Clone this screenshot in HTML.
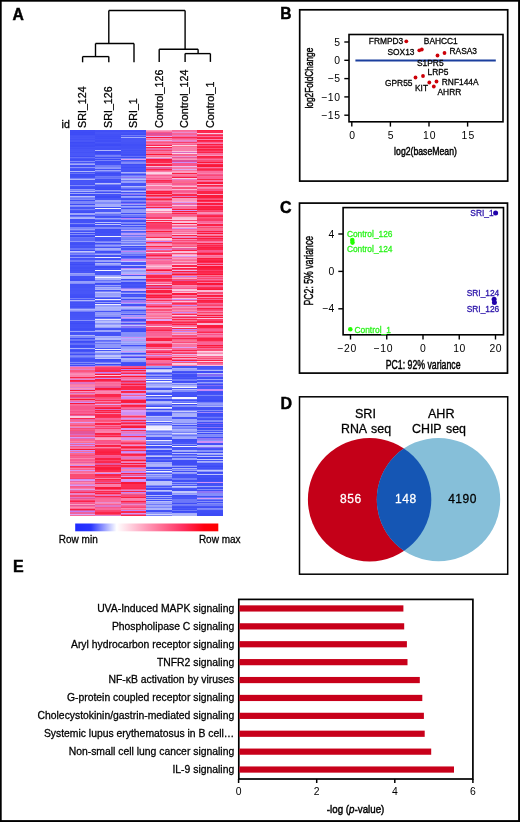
<!DOCTYPE html><html><head><meta charset="utf-8"><style>html,body{margin:0;padding:0;background:#fff;}body{width:520px;height:822px;overflow:hidden;font-family:"Liberation Sans",sans-serif;}svg{display:block;will-change:transform;}</style></head><body><svg width="520" height="822" viewBox="0 0 520 822" font-family='"Liberation Sans", sans-serif'><rect x="0" y="0" width="520" height="1.7" fill="#000"/><rect x="0" y="0" width="1.7" height="822" fill="#000"/><rect x="518.1" y="0" width="1.9" height="822" fill="#000"/><rect x="0" y="820.1" width="520" height="1.9" fill="#000"/><text x="12.4" y="19.6" font-size="15.7" font-weight="bold" stroke="#000" stroke-width="0.45">A</text><text x="280.2" y="19.3" font-size="15.6" font-weight="bold" stroke="#000" stroke-width="0.45">B</text><text x="280.0" y="213" font-size="16" font-weight="bold" stroke="#000" stroke-width="0.45">C</text><text x="280.5" y="408.5" font-size="16" font-weight="bold" stroke="#000" stroke-width="0.45">D</text><text x="13" y="571.7" font-size="16" font-weight="bold" stroke="#000" stroke-width="0.45">E</text><line x1="108.8" y1="10.5" x2="185.1" y2="10.5" stroke="#000" stroke-width="1.4"/><line x1="108.8" y1="10.5" x2="108.8" y2="43.5" stroke="#000" stroke-width="1.4"/><line x1="185.1" y1="10.5" x2="185.1" y2="49.3" stroke="#000" stroke-width="1.4"/><line x1="95.5" y1="43.5" x2="134.0" y2="43.5" stroke="#000" stroke-width="1.4"/><line x1="95.5" y1="43.5" x2="95.5" y2="56.6" stroke="#000" stroke-width="1.4"/><line x1="134.0" y1="43.5" x2="134.0" y2="62.3" stroke="#000" stroke-width="1.4"/><line x1="82.6" y1="56.6" x2="108.8" y2="56.6" stroke="#000" stroke-width="1.4"/><line x1="82.6" y1="56.6" x2="82.6" y2="62.3" stroke="#000" stroke-width="1.4"/><line x1="108.8" y1="56.6" x2="108.8" y2="62.3" stroke="#000" stroke-width="1.4"/><line x1="159.2" y1="49.3" x2="198.1" y2="49.3" stroke="#000" stroke-width="1.4"/><line x1="159.2" y1="49.3" x2="159.2" y2="61.9" stroke="#000" stroke-width="1.4"/><line x1="198.1" y1="49.3" x2="198.1" y2="53.6" stroke="#000" stroke-width="1.4"/><line x1="185.1" y1="53.6" x2="210.4" y2="53.6" stroke="#000" stroke-width="1.4"/><line x1="185.1" y1="53.6" x2="185.1" y2="61.9" stroke="#000" stroke-width="1.4"/><line x1="210.4" y1="53.6" x2="210.4" y2="61.9" stroke="#000" stroke-width="1.4"/><text transform="translate(86.25,127.9) rotate(-90)" font-size="10.7" fill="#000" stroke="#000" stroke-width="0.28">SRI_124</text><text transform="translate(111.75,127.9) rotate(-90)" font-size="10.7" fill="#000" stroke="#000" stroke-width="0.28">SRI_126</text><text transform="translate(137.25,127.9) rotate(-90)" font-size="10.7" fill="#000" stroke="#000" stroke-width="0.28">SRI_1</text><text transform="translate(162.75,127.9) rotate(-90)" font-size="10.7" fill="#000" stroke="#000" stroke-width="0.28">Control_126</text><text transform="translate(188.25,127.9) rotate(-90)" font-size="10.7" fill="#000" stroke="#000" stroke-width="0.28">Control_124</text><text transform="translate(213.75,127.9) rotate(-90)" font-size="10.7" fill="#000" stroke="#000" stroke-width="0.28">Control_1</text><text x="61.6" y="128" font-size="10.6" text-anchor="start" font-weight="normal" fill="#000" stroke="#000" stroke-width="0.28" >id</text><g shape-rendering="crispEdges"><rect x="69.5" y="130" width="25.8" height="1.02" fill="#3e4cf6"/><rect x="69.5" y="131" width="25.8" height="1.02" fill="#3f4df6"/><rect x="69.5" y="132" width="25.8" height="1.02" fill="#3d4bf6"/><rect x="69.5" y="133" width="25.8" height="1.02" fill="#3e4cf6"/><rect x="69.5" y="134" width="25.8" height="1.02" fill="#3d4bf6"/><rect x="69.5" y="135" width="25.8" height="1.02" fill="#4452f7"/><rect x="69.5" y="136" width="25.8" height="1.02" fill="#4755f8"/><rect x="69.5" y="137" width="25.8" height="1.02" fill="#4553f7"/><rect x="69.5" y="138" width="25.8" height="1.02" fill="#4856f8"/><rect x="69.5" y="139" width="25.8" height="1.02" fill="#4351f7"/><rect x="69.5" y="140" width="25.8" height="1.02" fill="#4957f8"/><rect x="69.5" y="141" width="25.8" height="1.02" fill="#4957f8"/><rect x="69.5" y="142" width="25.8" height="1.02" fill="#3d4bf6"/><rect x="69.5" y="143" width="25.8" height="1.02" fill="#414ff7"/><rect x="69.5" y="144" width="25.8" height="1.02" fill="#4250f7"/><rect x="69.5" y="145" width="25.8" height="1.02" fill="#3f4df6"/><rect x="69.5" y="146" width="25.8" height="1.02" fill="#3f4df6"/><rect x="69.5" y="147" width="25.8" height="1.02" fill="#4654f7"/><rect x="69.5" y="148" width="25.8" height="1.02" fill="#4250f7"/><rect x="69.5" y="149" width="25.8" height="1.02" fill="#4755f8"/><rect x="69.5" y="150" width="25.8" height="1.02" fill="#4755f8"/><rect x="69.5" y="151" width="25.8" height="1.02" fill="#4957f8"/><rect x="69.5" y="152" width="25.8" height="1.02" fill="#4452f7"/><rect x="69.5" y="153" width="25.8" height="1.02" fill="#4957f8"/><rect x="69.5" y="154" width="25.8" height="1.02" fill="#4957f8"/><rect x="69.5" y="155" width="25.8" height="1.02" fill="#4957f8"/><rect x="69.5" y="156" width="25.8" height="1.02" fill="#3f4df6"/><rect x="69.5" y="157" width="25.8" height="1.02" fill="#636ef8"/><rect x="69.5" y="158" width="25.8" height="1.02" fill="#4957f8"/><rect x="69.5" y="159" width="25.8" height="1.02" fill="#3f4df6"/><rect x="69.5" y="160" width="25.8" height="1.02" fill="#4351f7"/><rect x="69.5" y="161" width="25.8" height="1.02" fill="#828cfa"/><rect x="69.5" y="162" width="25.8" height="1.02" fill="#4553f7"/><rect x="69.5" y="163" width="25.8" height="1.02" fill="#838dfa"/><rect x="69.5" y="164" width="25.8" height="1.02" fill="#a2a9fb"/><rect x="69.5" y="165" width="25.8" height="1.02" fill="#4250f7"/><rect x="69.5" y="166" width="25.8" height="1.02" fill="#4250f7"/><rect x="69.5" y="167" width="25.8" height="1.02" fill="#8891fa"/><rect x="69.5" y="168" width="25.8" height="1.02" fill="#4a58f8"/><rect x="69.5" y="169" width="25.8" height="1.02" fill="#4351f7"/><rect x="69.5" y="170" width="25.8" height="1.02" fill="#4250f7"/><rect x="69.5" y="171" width="25.8" height="1.02" fill="#b0b6fb"/><rect x="69.5" y="172" width="25.8" height="1.02" fill="#4654f7"/><rect x="69.5" y="173" width="25.8" height="1.02" fill="#6974f8"/><rect x="69.5" y="174" width="25.8" height="1.02" fill="#3d4bf6"/><rect x="69.5" y="175" width="25.8" height="1.02" fill="#3f4df6"/><rect x="69.5" y="176" width="25.8" height="1.02" fill="#3f4df6"/><rect x="69.5" y="177" width="25.8" height="1.02" fill="#4452f7"/><rect x="69.5" y="178" width="25.8" height="1.02" fill="#757ff9"/><rect x="69.5" y="179" width="25.8" height="1.02" fill="#afb5fb"/><rect x="69.5" y="180" width="25.8" height="1.02" fill="#4553f7"/><rect x="69.5" y="181" width="25.8" height="1.02" fill="#4856f8"/><rect x="69.5" y="182" width="25.8" height="1.02" fill="#4856f8"/><rect x="69.5" y="183" width="25.8" height="1.02" fill="#4856f8"/><rect x="69.5" y="184" width="25.8" height="1.02" fill="#4351f7"/><rect x="69.5" y="185" width="25.8" height="1.02" fill="#7f89fa"/><rect x="69.5" y="186" width="25.8" height="1.02" fill="#4654f7"/><rect x="69.5" y="187" width="25.8" height="1.02" fill="#414ff7"/><rect x="69.5" y="188" width="25.8" height="1.02" fill="#414ff7"/><rect x="69.5" y="189" width="25.8" height="1.02" fill="#8f98fb"/><rect x="69.5" y="190" width="25.8" height="1.02" fill="#7782fa"/><rect x="69.5" y="191" width="25.8" height="1.02" fill="#adb4fb"/><rect x="69.5" y="192" width="25.8" height="1.02" fill="#4351f7"/><rect x="69.5" y="193" width="25.8" height="1.02" fill="#9fa7fb"/><rect x="69.5" y="194" width="25.8" height="1.02" fill="#3e4cf6"/><rect x="69.5" y="195" width="25.8" height="1.02" fill="#4452f7"/><rect x="69.5" y="196" width="25.8" height="1.02" fill="#babffc"/><rect x="69.5" y="197" width="25.8" height="1.02" fill="#858efa"/><rect x="69.5" y="198" width="25.8" height="1.02" fill="#6f7af9"/><rect x="69.5" y="199" width="25.8" height="1.02" fill="#808afa"/><rect x="69.5" y="200" width="25.8" height="1.02" fill="#414ff7"/><rect x="69.5" y="201" width="25.8" height="1.02" fill="#7b85f9"/><rect x="69.5" y="202" width="25.8" height="1.02" fill="#7b85f9"/><rect x="69.5" y="203" width="25.8" height="1.02" fill="#7b85f9"/><rect x="69.5" y="204" width="25.8" height="1.02" fill="#3d4bf6"/><rect x="69.5" y="205" width="25.8" height="1.02" fill="#929afb"/><rect x="69.5" y="206" width="25.8" height="1.02" fill="#868ffa"/><rect x="69.5" y="207" width="25.8" height="1.02" fill="#4755f8"/><rect x="69.5" y="208" width="25.8" height="1.02" fill="#4957f8"/><rect x="69.5" y="209" width="25.8" height="1.02" fill="#757ff9"/><rect x="69.5" y="210" width="25.8" height="1.02" fill="#4a58f8"/><rect x="69.5" y="211" width="25.8" height="1.02" fill="#4452f7"/><rect x="69.5" y="212" width="25.8" height="1.02" fill="#3f4df6"/><rect x="69.5" y="213" width="25.8" height="1.02" fill="#9fa6fb"/><rect x="69.5" y="214" width="25.8" height="1.02" fill="#9ea5fb"/><rect x="69.5" y="215" width="25.8" height="1.02" fill="#4553f7"/><rect x="69.5" y="216" width="25.8" height="1.02" fill="#6672f9"/><rect x="69.5" y="217" width="25.8" height="1.02" fill="#a5acfb"/><rect x="69.5" y="218" width="25.8" height="1.02" fill="#adb4fb"/><rect x="69.5" y="219" width="25.8" height="1.02" fill="#4351f7"/><rect x="69.5" y="220" width="25.8" height="1.02" fill="#4351f7"/><rect x="69.5" y="221" width="25.8" height="1.02" fill="#4553f7"/><rect x="69.5" y="222" width="25.8" height="1.02" fill="#4452f7"/><rect x="69.5" y="223" width="25.8" height="1.02" fill="#7f89fa"/><rect x="69.5" y="224" width="25.8" height="1.02" fill="#4654f7"/><rect x="69.5" y="225" width="25.8" height="1.02" fill="#3f4df6"/><rect x="69.5" y="226" width="25.8" height="1.02" fill="#3d4bf6"/><rect x="69.5" y="227" width="25.8" height="1.02" fill="#7d87f9"/><rect x="69.5" y="228" width="25.8" height="1.02" fill="#7d87f9"/><rect x="69.5" y="229" width="25.8" height="1.02" fill="#969efb"/><rect x="69.5" y="230" width="25.8" height="1.02" fill="#606cf8"/><rect x="69.5" y="231" width="25.8" height="1.02" fill="#4351f7"/><rect x="69.5" y="232" width="25.8" height="1.02" fill="#959dfb"/><rect x="69.5" y="233" width="25.8" height="1.02" fill="#3d4bf6"/><rect x="69.5" y="234" width="25.8" height="1.02" fill="#818bfa"/><rect x="69.5" y="235" width="25.8" height="1.02" fill="#4351f7"/><rect x="69.5" y="236" width="25.8" height="1.02" fill="#3c4af6"/><rect x="69.5" y="237" width="25.8" height="1.02" fill="#6974f9"/><rect x="69.5" y="238" width="25.8" height="1.02" fill="#5d69f8"/><rect x="69.5" y="239" width="25.8" height="1.02" fill="#5d69f8"/><rect x="69.5" y="240" width="25.8" height="1.02" fill="#5d69f8"/><rect x="69.5" y="241" width="25.8" height="1.02" fill="#8f98fb"/><rect x="69.5" y="242" width="25.8" height="1.02" fill="#4553f7"/><rect x="69.5" y="243" width="25.8" height="1.02" fill="#414ff7"/><rect x="69.5" y="244" width="25.8" height="1.02" fill="#414ff7"/><rect x="69.5" y="245" width="25.8" height="1.02" fill="#4a58f8"/><rect x="69.5" y="246" width="25.8" height="1.02" fill="#4654f7"/><rect x="69.5" y="247" width="25.8" height="1.02" fill="#4452f7"/><rect x="69.5" y="248" width="25.8" height="1.02" fill="#6974f9"/><rect x="69.5" y="249" width="25.8" height="1.02" fill="#6a75f9"/><rect x="69.5" y="250" width="25.8" height="1.02" fill="#3f4df6"/><rect x="69.5" y="251" width="25.8" height="1.02" fill="#c3c8fc"/><rect x="69.5" y="252" width="25.8" height="1.02" fill="#959dfb"/><rect x="69.5" y="253" width="25.8" height="1.02" fill="#6974f8"/><rect x="69.5" y="254" width="25.8" height="1.02" fill="#7e88fa"/><rect x="69.5" y="255" width="25.8" height="1.02" fill="#4755f8"/><rect x="69.5" y="256" width="25.8" height="1.02" fill="#4856f8"/><rect x="69.5" y="257" width="25.8" height="1.02" fill="#929afb"/><rect x="69.5" y="258" width="25.8" height="1.02" fill="#4452f7"/><rect x="69.5" y="259" width="25.8" height="1.02" fill="#4856f8"/><rect x="69.5" y="260" width="25.8" height="1.02" fill="#6e79f9"/><rect x="69.5" y="261" width="25.8" height="1.02" fill="#6e79f9"/><rect x="69.5" y="262" width="25.8" height="1.02" fill="#4250f7"/><rect x="69.5" y="263" width="25.8" height="1.02" fill="#4755f8"/><rect x="69.5" y="264" width="25.8" height="1.02" fill="#3d4bf6"/><rect x="69.5" y="265" width="25.8" height="1.02" fill="#4856f8"/><rect x="69.5" y="266" width="25.8" height="1.02" fill="#4755f8"/><rect x="69.5" y="267" width="25.8" height="1.02" fill="#4250f7"/><rect x="69.5" y="268" width="25.8" height="1.02" fill="#4250f7"/><rect x="69.5" y="269" width="25.8" height="1.02" fill="#4553f7"/><rect x="69.5" y="270" width="25.8" height="1.02" fill="#4250f7"/><rect x="69.5" y="271" width="25.8" height="1.02" fill="#4856f8"/><rect x="69.5" y="272" width="25.8" height="1.02" fill="#4654f7"/><rect x="69.5" y="273" width="25.8" height="1.02" fill="#9aa2fb"/><rect x="69.5" y="274" width="25.8" height="1.02" fill="#8892fa"/><rect x="69.5" y="275" width="25.8" height="1.02" fill="#8892fa"/><rect x="69.5" y="276" width="25.8" height="1.02" fill="#4351f7"/><rect x="69.5" y="277" width="25.8" height="1.02" fill="#4351f7"/><rect x="69.5" y="278" width="25.8" height="1.02" fill="#4452f7"/><rect x="69.5" y="279" width="25.8" height="1.02" fill="#404ef7"/><rect x="69.5" y="280" width="25.8" height="1.02" fill="#404ef7"/><rect x="69.5" y="281" width="25.8" height="1.02" fill="#969ffb"/><rect x="69.5" y="282" width="25.8" height="1.02" fill="#969ffb"/><rect x="69.5" y="283" width="25.8" height="1.02" fill="#858efa"/><rect x="69.5" y="284" width="25.8" height="1.02" fill="#4351f7"/><rect x="69.5" y="285" width="25.8" height="1.02" fill="#4452f7"/><rect x="69.5" y="286" width="25.8" height="1.02" fill="#4553f7"/><rect x="69.5" y="287" width="25.8" height="1.02" fill="#4452f7"/><rect x="69.5" y="288" width="25.8" height="1.02" fill="#4856f8"/><rect x="69.5" y="289" width="25.8" height="1.02" fill="#4856f8"/><rect x="69.5" y="290" width="25.8" height="1.02" fill="#4654f7"/><rect x="69.5" y="291" width="25.8" height="1.02" fill="#4856f8"/><rect x="69.5" y="292" width="25.8" height="1.02" fill="#4856f8"/><rect x="69.5" y="293" width="25.8" height="1.02" fill="#4856f8"/><rect x="69.5" y="294" width="25.8" height="1.02" fill="#4351f7"/><rect x="69.5" y="295" width="25.8" height="1.02" fill="#4250f7"/><rect x="69.5" y="296" width="25.8" height="1.02" fill="#404ef7"/><rect x="69.5" y="297" width="25.8" height="1.02" fill="#404ef7"/><rect x="69.5" y="298" width="25.8" height="1.02" fill="#7781f9"/><rect x="69.5" y="299" width="25.8" height="1.02" fill="#4755f8"/><rect x="69.5" y="300" width="25.8" height="1.02" fill="#b0b6fb"/><rect x="69.5" y="301" width="25.8" height="1.02" fill="#6570f8"/><rect x="69.5" y="302" width="25.8" height="1.02" fill="#4250f7"/><rect x="69.5" y="303" width="25.8" height="1.02" fill="#4654f7"/><rect x="69.5" y="304" width="25.8" height="1.02" fill="#4351f7"/><rect x="69.5" y="305" width="25.8" height="1.02" fill="#4654f7"/><rect x="69.5" y="306" width="25.8" height="1.02" fill="#404ef7"/><rect x="69.5" y="307" width="25.8" height="1.02" fill="#4553f7"/><rect x="69.5" y="308" width="25.8" height="1.02" fill="#6c77f9"/><rect x="69.5" y="309" width="25.8" height="1.02" fill="#afb6fb"/><rect x="69.5" y="310" width="25.8" height="1.02" fill="#969efb"/><rect x="69.5" y="311" width="25.8" height="1.02" fill="#737df9"/><rect x="69.5" y="312" width="25.8" height="1.02" fill="#4250f7"/><rect x="69.5" y="313" width="25.8" height="1.02" fill="#4654f7"/><rect x="69.5" y="314" width="25.8" height="1.02" fill="#4654f7"/><rect x="69.5" y="315" width="25.8" height="1.02" fill="#4654f7"/><rect x="69.5" y="316" width="25.8" height="1.02" fill="#4755f8"/><rect x="69.5" y="317" width="25.8" height="1.02" fill="#4755f8"/><rect x="69.5" y="318" width="25.8" height="1.02" fill="#4957f8"/><rect x="69.5" y="319" width="25.8" height="1.02" fill="#4957f8"/><rect x="69.5" y="320" width="25.8" height="1.02" fill="#8891fa"/><rect x="69.5" y="321" width="25.8" height="1.02" fill="#414ff7"/><rect x="69.5" y="322" width="25.8" height="1.02" fill="#4351f7"/><rect x="69.5" y="323" width="25.8" height="1.02" fill="#3d4bf6"/><rect x="69.5" y="324" width="25.8" height="1.02" fill="#4351f7"/><rect x="69.5" y="325" width="25.8" height="1.02" fill="#4351f7"/><rect x="69.5" y="326" width="25.8" height="1.02" fill="#4351f7"/><rect x="69.5" y="327" width="25.8" height="1.02" fill="#4553f7"/><rect x="69.5" y="328" width="25.8" height="1.02" fill="#404ef7"/><rect x="69.5" y="329" width="25.8" height="1.02" fill="#3f4df6"/><rect x="69.5" y="330" width="25.8" height="1.02" fill="#4755f8"/><rect x="69.5" y="331" width="25.8" height="1.02" fill="#9ca4fb"/><rect x="69.5" y="332" width="25.8" height="1.02" fill="#4755f8"/><rect x="69.5" y="333" width="25.8" height="1.02" fill="#4351f7"/><rect x="69.5" y="334" width="25.8" height="1.02" fill="#4856f8"/><rect x="69.5" y="335" width="25.8" height="1.02" fill="#adb4fb"/><rect x="69.5" y="336" width="25.8" height="1.02" fill="#7d87fa"/><rect x="69.5" y="337" width="25.8" height="1.02" fill="#7e87f9"/><rect x="69.5" y="338" width="25.8" height="1.02" fill="#3e4cf6"/><rect x="69.5" y="339" width="25.8" height="1.02" fill="#6975f9"/><rect x="69.5" y="340" width="25.8" height="1.02" fill="#6975f9"/><rect x="69.5" y="341" width="25.8" height="1.02" fill="#3d4bf6"/><rect x="69.5" y="342" width="25.8" height="1.02" fill="#4553f7"/><rect x="69.5" y="343" width="25.8" height="1.02" fill="#626ef9"/><rect x="69.5" y="344" width="25.8" height="1.02" fill="#626ef9"/><rect x="69.5" y="345" width="25.8" height="1.02" fill="#404ef7"/><rect x="69.5" y="346" width="25.8" height="1.02" fill="#3f4df6"/><rect x="69.5" y="347" width="25.8" height="1.02" fill="#4553f7"/><rect x="69.5" y="348" width="25.8" height="1.02" fill="#aab1fb"/><rect x="69.5" y="349" width="25.8" height="1.02" fill="#4957f8"/><rect x="69.5" y="350" width="25.8" height="1.02" fill="#3e4cf6"/><rect x="69.5" y="351" width="25.8" height="1.02" fill="#4654f7"/><rect x="69.5" y="352" width="25.8" height="1.02" fill="#6e7af9"/><rect x="69.5" y="353" width="25.8" height="1.02" fill="#636ef8"/><rect x="69.5" y="354" width="25.8" height="1.02" fill="#404ef7"/><rect x="69.5" y="355" width="25.8" height="1.02" fill="#757ff9"/><rect x="69.5" y="356" width="25.8" height="1.02" fill="#818bfa"/><rect x="69.5" y="357" width="25.8" height="1.02" fill="#6470f9"/><rect x="69.5" y="358" width="25.8" height="1.02" fill="#4755f8"/><rect x="69.5" y="359" width="25.8" height="1.02" fill="#4452f7"/><rect x="69.5" y="360" width="25.8" height="1.02" fill="#4452f7"/><rect x="69.5" y="361" width="25.8" height="1.02" fill="#4856f8"/><rect x="69.5" y="362" width="25.8" height="1.02" fill="#7f89fa"/><rect x="69.5" y="363" width="25.8" height="1.02" fill="#4654f7"/><rect x="69.5" y="364" width="25.8" height="1.02" fill="#7d87f9"/><rect x="69.5" y="365" width="25.8" height="1.02" fill="#3f4df6"/><rect x="69.5" y="366" width="25.8" height="1.02" fill="#bf7ef5"/><rect x="69.5" y="367" width="25.8" height="1.02" fill="#f971a1"/><rect x="69.5" y="368" width="25.8" height="1.02" fill="#f971a1"/><rect x="69.5" y="369" width="25.8" height="1.02" fill="#e67dc6"/><rect x="69.5" y="370" width="25.8" height="1.02" fill="#fb567f"/><rect x="69.5" y="371" width="25.8" height="1.02" fill="#fb567f"/><rect x="69.5" y="372" width="25.8" height="1.02" fill="#f96b9c"/><rect x="69.5" y="373" width="25.8" height="1.02" fill="#f987b1"/><rect x="69.5" y="374" width="25.8" height="1.02" fill="#fa90b7"/><rect x="69.5" y="375" width="25.8" height="1.02" fill="#fa7fab"/><rect x="69.5" y="376" width="25.8" height="1.02" fill="#fa7fab"/><rect x="69.5" y="377" width="25.8" height="1.02" fill="#fb2449"/><rect x="69.5" y="378" width="25.8" height="1.02" fill="#f973a2"/><rect x="69.5" y="379" width="25.8" height="1.02" fill="#df85d3"/><rect x="69.5" y="380" width="25.8" height="1.02" fill="#fb1e41"/><rect x="69.5" y="381" width="25.8" height="1.02" fill="#fc2d54"/><rect x="69.5" y="382" width="25.8" height="1.02" fill="#e072c3"/><rect x="69.5" y="383" width="25.8" height="1.02" fill="#e072c3"/><rect x="69.5" y="384" width="25.8" height="1.02" fill="#f979a6"/><rect x="69.5" y="385" width="25.8" height="1.02" fill="#f986b0"/><rect x="69.5" y="386" width="25.8" height="1.02" fill="#fa82ad"/><rect x="69.5" y="387" width="25.8" height="1.02" fill="#de82d1"/><rect x="69.5" y="388" width="25.8" height="1.02" fill="#fa95ba"/><rect x="69.5" y="389" width="25.8" height="1.02" fill="#e487cf"/><rect x="69.5" y="390" width="25.8" height="1.02" fill="#fa1738"/><rect x="69.5" y="391" width="25.8" height="1.02" fill="#fa95ba"/><rect x="69.5" y="392" width="25.8" height="1.02" fill="#f8568d"/><rect x="69.5" y="393" width="25.8" height="1.02" fill="#df7fce"/><rect x="69.5" y="394" width="25.8" height="1.02" fill="#fb7694"/><rect x="69.5" y="395" width="25.8" height="1.02" fill="#f93967"/><rect x="69.5" y="396" width="25.8" height="1.02" fill="#f93967"/><rect x="69.5" y="397" width="25.8" height="1.02" fill="#dd52a1"/><rect x="69.5" y="398" width="25.8" height="1.02" fill="#fb7390"/><rect x="69.5" y="399" width="25.8" height="1.02" fill="#fa1738"/><rect x="69.5" y="400" width="25.8" height="1.02" fill="#f974a3"/><rect x="69.5" y="401" width="25.8" height="1.02" fill="#e371c0"/><rect x="69.5" y="402" width="25.8" height="1.02" fill="#d193f5"/><rect x="69.5" y="403" width="25.8" height="1.02" fill="#fa183a"/><rect x="69.5" y="404" width="25.8" height="1.02" fill="#f96b9c"/><rect x="69.5" y="405" width="25.8" height="1.02" fill="#f96699"/><rect x="69.5" y="406" width="25.8" height="1.02" fill="#f8568d"/><rect x="69.5" y="407" width="25.8" height="1.02" fill="#f8568d"/><rect x="69.5" y="408" width="25.8" height="1.02" fill="#f8558c"/><rect x="69.5" y="409" width="25.8" height="1.02" fill="#f8588e"/><rect x="69.5" y="410" width="25.8" height="1.02" fill="#f96598"/><rect x="69.5" y="411" width="25.8" height="1.02" fill="#f8528a"/><rect x="69.5" y="412" width="25.8" height="1.02" fill="#f85d92"/><rect x="69.5" y="413" width="25.8" height="1.02" fill="#f86094"/><rect x="69.5" y="414" width="25.8" height="1.02" fill="#fa3b6a"/><rect x="69.5" y="415" width="25.8" height="1.02" fill="#e760a4"/><rect x="69.5" y="416" width="25.8" height="1.02" fill="#fbcae0"/><rect x="69.5" y="417" width="25.8" height="1.02" fill="#fbcae0"/><rect x="69.5" y="418" width="25.8" height="1.02" fill="#fb264c"/><rect x="69.5" y="419" width="25.8" height="1.02" fill="#e860a3"/><rect x="69.5" y="420" width="25.8" height="1.02" fill="#f96397"/><rect x="69.5" y="421" width="25.8" height="1.02" fill="#f96b9c"/><rect x="69.5" y="422" width="25.8" height="1.02" fill="#da9df5"/><rect x="69.5" y="423" width="25.8" height="1.02" fill="#f96c9c"/><rect x="69.5" y="424" width="25.8" height="1.02" fill="#f96699"/><rect x="69.5" y="425" width="25.8" height="1.02" fill="#fa5076"/><rect x="69.5" y="426" width="25.8" height="1.02" fill="#fc7f9c"/><rect x="69.5" y="427" width="25.8" height="1.02" fill="#df83d0"/><rect x="69.5" y="428" width="25.8" height="1.02" fill="#fa4c77"/><rect x="69.5" y="429" width="25.8" height="1.02" fill="#f85c91"/><rect x="69.5" y="430" width="25.8" height="1.02" fill="#fa537a"/><rect x="69.5" y="431" width="25.8" height="1.02" fill="#e65597"/><rect x="69.5" y="432" width="25.8" height="1.02" fill="#e55699"/><rect x="69.5" y="433" width="25.8" height="1.02" fill="#e55699"/><rect x="69.5" y="434" width="25.8" height="1.02" fill="#db6ac1"/><rect x="69.5" y="435" width="25.8" height="1.02" fill="#f86094"/><rect x="69.5" y="436" width="25.8" height="1.02" fill="#f8538a"/><rect x="69.5" y="437" width="25.8" height="1.02" fill="#d698f5"/><rect x="69.5" y="438" width="25.8" height="1.02" fill="#dc6ac1"/><rect x="69.5" y="439" width="25.8" height="1.02" fill="#f96497"/><rect x="69.5" y="440" width="25.8" height="1.02" fill="#f96497"/><rect x="69.5" y="441" width="25.8" height="1.02" fill="#fa81ac"/><rect x="69.5" y="442" width="25.8" height="1.02" fill="#fb708f"/><rect x="69.5" y="443" width="25.8" height="1.02" fill="#cb8cf5"/><rect x="69.5" y="444" width="25.8" height="1.02" fill="#f85e93"/><rect x="69.5" y="445" width="25.8" height="1.02" fill="#d092f5"/><rect x="69.5" y="446" width="25.8" height="1.02" fill="#f8578e"/><rect x="69.5" y="447" width="25.8" height="1.02" fill="#f971a0"/><rect x="69.5" y="448" width="25.8" height="1.02" fill="#f971a0"/><rect x="69.5" y="449" width="25.8" height="1.02" fill="#fa1738"/><rect x="69.5" y="450" width="25.8" height="1.02" fill="#ce8ff5"/><rect x="69.5" y="451" width="25.8" height="1.02" fill="#f96d9d"/><rect x="69.5" y="452" width="25.8" height="1.02" fill="#c282f5"/><rect x="69.5" y="453" width="25.8" height="1.02" fill="#fb6b8c"/><rect x="69.5" y="454" width="25.8" height="1.02" fill="#f85e92"/><rect x="69.5" y="455" width="25.8" height="1.02" fill="#fa5179"/><rect x="69.5" y="456" width="25.8" height="1.02" fill="#f86094"/><rect x="69.5" y="457" width="25.8" height="1.02" fill="#f85a90"/><rect x="69.5" y="458" width="25.8" height="1.02" fill="#fa83ae"/><rect x="69.5" y="459" width="25.8" height="1.02" fill="#f85c91"/><rect x="69.5" y="460" width="25.8" height="1.02" fill="#f85c91"/><rect x="69.5" y="461" width="25.8" height="1.02" fill="#f972a1"/><rect x="69.5" y="462" width="25.8" height="1.02" fill="#e75ea1"/><rect x="69.5" y="463" width="25.8" height="1.02" fill="#fa7eaa"/><rect x="69.5" y="464" width="25.8" height="1.02" fill="#fa93b8"/><rect x="69.5" y="465" width="25.8" height="1.02" fill="#cc8df5"/><rect x="69.5" y="466" width="25.8" height="1.02" fill="#fc2d54"/><rect x="69.5" y="467" width="25.8" height="1.02" fill="#fa4a75"/><rect x="69.5" y="468" width="25.8" height="1.02" fill="#fa7eaa"/><rect x="69.5" y="469" width="25.8" height="1.02" fill="#f85f93"/><rect x="69.5" y="470" width="25.8" height="1.02" fill="#d698f5"/><rect x="69.5" y="471" width="25.8" height="1.02" fill="#f96b9c"/><rect x="69.5" y="472" width="25.8" height="1.02" fill="#f96e9f"/><rect x="69.5" y="473" width="25.8" height="1.02" fill="#fa82ad"/><rect x="69.5" y="474" width="25.8" height="1.02" fill="#fa4b73"/><rect x="69.5" y="475" width="25.8" height="1.02" fill="#fa4b73"/><rect x="69.5" y="476" width="25.8" height="1.02" fill="#fa4b73"/><rect x="69.5" y="477" width="25.8" height="1.02" fill="#fa5078"/><rect x="69.5" y="478" width="25.8" height="1.02" fill="#fa3f6e"/><rect x="69.5" y="479" width="25.8" height="1.02" fill="#cc8df5"/><rect x="69.5" y="480" width="25.8" height="1.02" fill="#d89bf5"/><rect x="69.5" y="481" width="25.8" height="1.02" fill="#ec66a4"/><rect x="69.5" y="482" width="25.8" height="1.02" fill="#fa8bb3"/><rect x="69.5" y="483" width="25.8" height="1.02" fill="#f97aa7"/><rect x="69.5" y="484" width="25.8" height="1.02" fill="#e182ce"/><rect x="69.5" y="485" width="25.8" height="1.02" fill="#d79af5"/><rect x="69.5" y="486" width="25.8" height="1.02" fill="#f8578d"/><rect x="69.5" y="487" width="25.8" height="1.02" fill="#f85f93"/><rect x="69.5" y="488" width="25.8" height="1.02" fill="#f97aa7"/><rect x="69.5" y="489" width="25.8" height="1.02" fill="#dda1e8"/><rect x="69.5" y="490" width="25.8" height="1.02" fill="#e961a1"/><rect x="69.5" y="491" width="25.8" height="1.02" fill="#f8558c"/><rect x="69.5" y="492" width="25.8" height="1.02" fill="#fc2a52"/><rect x="69.5" y="493" width="25.8" height="1.02" fill="#e983c8"/><rect x="69.5" y="494" width="25.8" height="1.02" fill="#e983c8"/><rect x="69.5" y="495" width="25.8" height="1.02" fill="#fa4572"/><rect x="69.5" y="496" width="25.8" height="1.02" fill="#fa4873"/><rect x="69.5" y="497" width="25.8" height="1.02" fill="#e372c1"/><rect x="69.5" y="498" width="25.8" height="1.02" fill="#e3579e"/><rect x="69.5" y="499" width="25.8" height="1.02" fill="#f9689a"/><rect x="69.5" y="500" width="25.8" height="1.02" fill="#fa3f6f"/><rect x="69.5" y="501" width="25.8" height="1.02" fill="#fb2349"/><rect x="69.5" y="502" width="25.8" height="1.02" fill="#f86094"/><rect x="69.5" y="503" width="25.8" height="1.02" fill="#f8588f"/><rect x="69.5" y="504" width="25.8" height="1.02" fill="#fa9ec1"/><rect x="69.5" y="505" width="25.8" height="1.02" fill="#e4579c"/><rect x="69.5" y="506" width="25.8" height="1.02" fill="#f96e9e"/><rect x="69.5" y="507" width="25.8" height="1.02" fill="#fa88b1"/><rect x="69.5" y="508" width="25.8" height="1.02" fill="#f96799"/><rect x="69.5" y="509" width="25.8" height="1.02" fill="#fa1b3e"/><rect x="69.5" y="510" width="25.8" height="1.02" fill="#e156a0"/><rect x="69.5" y="511" width="25.8" height="1.02" fill="#bf7ef5"/><rect x="69.5" y="512" width="25.8" height="1.02" fill="#ec629f"/><rect x="69.5" y="513" width="25.8" height="1.02" fill="#ec629f"/><rect x="69.5" y="514" width="25.8" height="1.02" fill="#dda1f5"/><rect x="69.5" y="515" width="25.8" height="0.52" fill="#f9699b"/><rect x="95.0" y="130" width="25.8" height="1.02" fill="#4351f7"/><rect x="95.0" y="131" width="25.8" height="1.02" fill="#414ff7"/><rect x="95.0" y="132" width="25.8" height="1.02" fill="#4654f7"/><rect x="95.0" y="133" width="25.8" height="1.02" fill="#4654f7"/><rect x="95.0" y="134" width="25.8" height="1.02" fill="#4250f7"/><rect x="95.0" y="135" width="25.8" height="1.02" fill="#4250f7"/><rect x="95.0" y="136" width="25.8" height="1.02" fill="#404ef7"/><rect x="95.0" y="137" width="25.8" height="1.02" fill="#4250f7"/><rect x="95.0" y="138" width="25.8" height="1.02" fill="#404ef7"/><rect x="95.0" y="139" width="25.8" height="1.02" fill="#4553f7"/><rect x="95.0" y="140" width="25.8" height="1.02" fill="#404ef7"/><rect x="95.0" y="141" width="25.8" height="1.02" fill="#404ef7"/><rect x="95.0" y="142" width="25.8" height="1.02" fill="#4957f8"/><rect x="95.0" y="143" width="25.8" height="1.02" fill="#4351f7"/><rect x="95.0" y="144" width="25.8" height="1.02" fill="#3d4bf6"/><rect x="95.0" y="145" width="25.8" height="1.02" fill="#3d4bf6"/><rect x="95.0" y="146" width="25.8" height="1.02" fill="#4553f7"/><rect x="95.0" y="147" width="25.8" height="1.02" fill="#4553f7"/><rect x="95.0" y="148" width="25.8" height="1.02" fill="#4250f7"/><rect x="95.0" y="149" width="25.8" height="1.02" fill="#4351f7"/><rect x="95.0" y="150" width="25.8" height="1.02" fill="#afb5fb"/><rect x="95.0" y="151" width="25.8" height="1.02" fill="#3d4bf6"/><rect x="95.0" y="152" width="25.8" height="1.02" fill="#3d4bf6"/><rect x="95.0" y="153" width="25.8" height="1.02" fill="#3c4af6"/><rect x="95.0" y="154" width="25.8" height="1.02" fill="#4957f8"/><rect x="95.0" y="155" width="25.8" height="1.02" fill="#7781f9"/><rect x="95.0" y="156" width="25.8" height="1.02" fill="#717cf9"/><rect x="95.0" y="157" width="25.8" height="1.02" fill="#414ff7"/><rect x="95.0" y="158" width="25.8" height="1.02" fill="#6d78f9"/><rect x="95.0" y="159" width="25.8" height="1.02" fill="#3c4af6"/><rect x="95.0" y="160" width="25.8" height="1.02" fill="#7882fa"/><rect x="95.0" y="161" width="25.8" height="1.02" fill="#414ff7"/><rect x="95.0" y="162" width="25.8" height="1.02" fill="#404ef7"/><rect x="95.0" y="163" width="25.8" height="1.02" fill="#4351f7"/><rect x="95.0" y="164" width="25.8" height="1.02" fill="#4250f7"/><rect x="95.0" y="165" width="25.8" height="1.02" fill="#707bf9"/><rect x="95.0" y="166" width="25.8" height="1.02" fill="#717cf9"/><rect x="95.0" y="167" width="25.8" height="1.02" fill="#8790fa"/><rect x="95.0" y="168" width="25.8" height="1.02" fill="#9098fb"/><rect x="95.0" y="169" width="25.8" height="1.02" fill="#4351f7"/><rect x="95.0" y="170" width="25.8" height="1.02" fill="#9ca4fb"/><rect x="95.0" y="171" width="25.8" height="1.02" fill="#6e79f9"/><rect x="95.0" y="172" width="25.8" height="1.02" fill="#4957f8"/><rect x="95.0" y="173" width="25.8" height="1.02" fill="#3d4bf6"/><rect x="95.0" y="174" width="25.8" height="1.02" fill="#414ff7"/><rect x="95.0" y="175" width="25.8" height="1.02" fill="#4351f7"/><rect x="95.0" y="176" width="25.8" height="1.02" fill="#6f7af9"/><rect x="95.0" y="177" width="25.8" height="1.02" fill="#6470f8"/><rect x="95.0" y="178" width="25.8" height="1.02" fill="#707af9"/><rect x="95.0" y="179" width="25.8" height="1.02" fill="#4250f7"/><rect x="95.0" y="180" width="25.8" height="1.02" fill="#4553f7"/><rect x="95.0" y="181" width="25.8" height="1.02" fill="#404ef7"/><rect x="95.0" y="182" width="25.8" height="1.02" fill="#4856f8"/><rect x="95.0" y="183" width="25.8" height="1.02" fill="#bcc1fc"/><rect x="95.0" y="184" width="25.8" height="1.02" fill="#7d87fa"/><rect x="95.0" y="185" width="25.8" height="1.02" fill="#4654f7"/><rect x="95.0" y="186" width="25.8" height="1.02" fill="#4553f7"/><rect x="95.0" y="187" width="25.8" height="1.02" fill="#404ef7"/><rect x="95.0" y="188" width="25.8" height="1.02" fill="#404ef7"/><rect x="95.0" y="189" width="25.8" height="1.02" fill="#3c4af6"/><rect x="95.0" y="190" width="25.8" height="1.02" fill="#949dfb"/><rect x="95.0" y="191" width="25.8" height="1.02" fill="#6e79f9"/><rect x="95.0" y="192" width="25.8" height="1.02" fill="#3f4df6"/><rect x="95.0" y="193" width="25.8" height="1.02" fill="#9ba3fb"/><rect x="95.0" y="194" width="25.8" height="1.02" fill="#4553f7"/><rect x="95.0" y="195" width="25.8" height="1.02" fill="#4553f7"/><rect x="95.0" y="196" width="25.8" height="1.02" fill="#3d4bf6"/><rect x="95.0" y="197" width="25.8" height="1.02" fill="#3d4bf6"/><rect x="95.0" y="198" width="25.8" height="1.02" fill="#4856f8"/><rect x="95.0" y="199" width="25.8" height="1.02" fill="#4957f8"/><rect x="95.0" y="200" width="25.8" height="1.02" fill="#a0a7fb"/><rect x="95.0" y="201" width="25.8" height="1.02" fill="#a0a7fb"/><rect x="95.0" y="202" width="25.8" height="1.02" fill="#818bfa"/><rect x="95.0" y="203" width="25.8" height="1.02" fill="#828bfa"/><rect x="95.0" y="204" width="25.8" height="1.02" fill="#a5acfb"/><rect x="95.0" y="205" width="25.8" height="1.02" fill="#a5acfb"/><rect x="95.0" y="206" width="25.8" height="1.02" fill="#a5acfb"/><rect x="95.0" y="207" width="25.8" height="1.02" fill="#414ff7"/><rect x="95.0" y="208" width="25.8" height="1.02" fill="#f1effe"/><rect x="95.0" y="209" width="25.8" height="1.02" fill="#4957f8"/><rect x="95.0" y="210" width="25.8" height="1.02" fill="#4957f8"/><rect x="95.0" y="211" width="25.8" height="1.02" fill="#4957f8"/><rect x="95.0" y="212" width="25.8" height="1.02" fill="#a7aefb"/><rect x="95.0" y="213" width="25.8" height="1.02" fill="#979dfa"/><rect x="95.0" y="214" width="25.8" height="1.02" fill="#6974f9"/><rect x="95.0" y="215" width="25.8" height="1.02" fill="#6874f8"/><rect x="95.0" y="216" width="25.8" height="1.02" fill="#4250f7"/><rect x="95.0" y="217" width="25.8" height="1.02" fill="#4755f8"/><rect x="95.0" y="218" width="25.8" height="1.02" fill="#9ca4fb"/><rect x="95.0" y="219" width="25.8" height="1.02" fill="#6c78f9"/><rect x="95.0" y="220" width="25.8" height="1.02" fill="#4351f7"/><rect x="95.0" y="221" width="25.8" height="1.02" fill="#4351f7"/><rect x="95.0" y="222" width="25.8" height="1.02" fill="#bcc2fc"/><rect x="95.0" y="223" width="25.8" height="1.02" fill="#404ef7"/><rect x="95.0" y="224" width="25.8" height="1.02" fill="#c0c5fc"/><rect x="95.0" y="225" width="25.8" height="1.02" fill="#4654f7"/><rect x="95.0" y="226" width="25.8" height="1.02" fill="#4957f8"/><rect x="95.0" y="227" width="25.8" height="1.02" fill="#7f88fa"/><rect x="95.0" y="228" width="25.8" height="1.02" fill="#7f88fa"/><rect x="95.0" y="229" width="25.8" height="1.02" fill="#3e4cf6"/><rect x="95.0" y="230" width="25.8" height="1.02" fill="#404ef7"/><rect x="95.0" y="231" width="25.8" height="1.02" fill="#404ef7"/><rect x="95.0" y="232" width="25.8" height="1.02" fill="#3f4df6"/><rect x="95.0" y="233" width="25.8" height="1.02" fill="#4351f7"/><rect x="95.0" y="234" width="25.8" height="1.02" fill="#4250f7"/><rect x="95.0" y="235" width="25.8" height="1.02" fill="#4351f7"/><rect x="95.0" y="236" width="25.8" height="1.02" fill="#f1effd"/><rect x="95.0" y="237" width="25.8" height="1.02" fill="#4856f8"/><rect x="95.0" y="238" width="25.8" height="1.02" fill="#4654f7"/><rect x="95.0" y="239" width="25.8" height="1.02" fill="#4351f7"/><rect x="95.0" y="240" width="25.8" height="1.02" fill="#4553f7"/><rect x="95.0" y="241" width="25.8" height="1.02" fill="#7983f9"/><rect x="95.0" y="242" width="25.8" height="1.02" fill="#9098fb"/><rect x="95.0" y="243" width="25.8" height="1.02" fill="#404ef7"/><rect x="95.0" y="244" width="25.8" height="1.02" fill="#6c77f9"/><rect x="95.0" y="245" width="25.8" height="1.02" fill="#969efb"/><rect x="95.0" y="246" width="25.8" height="1.02" fill="#7882f9"/><rect x="95.0" y="247" width="25.8" height="1.02" fill="#4553f7"/><rect x="95.0" y="248" width="25.8" height="1.02" fill="#a6adfb"/><rect x="95.0" y="249" width="25.8" height="1.02" fill="#a6adfb"/><rect x="95.0" y="250" width="25.8" height="1.02" fill="#8891fa"/><rect x="95.0" y="251" width="25.8" height="1.02" fill="#414ff7"/><rect x="95.0" y="252" width="25.8" height="1.02" fill="#4452f7"/><rect x="95.0" y="253" width="25.8" height="1.02" fill="#737ef9"/><rect x="95.0" y="254" width="25.8" height="1.02" fill="#a5acfb"/><rect x="95.0" y="255" width="25.8" height="1.02" fill="#4351f7"/><rect x="95.0" y="256" width="25.8" height="1.02" fill="#4351f7"/><rect x="95.0" y="257" width="25.8" height="1.02" fill="#eae8fc"/><rect x="95.0" y="258" width="25.8" height="1.02" fill="#4553f7"/><rect x="95.0" y="259" width="25.8" height="1.02" fill="#4351f7"/><rect x="95.0" y="260" width="25.8" height="1.02" fill="#979ffb"/><rect x="95.0" y="261" width="25.8" height="1.02" fill="#9ea5fb"/><rect x="95.0" y="262" width="25.8" height="1.02" fill="#4a58f8"/><rect x="95.0" y="263" width="25.8" height="1.02" fill="#acb3fb"/><rect x="95.0" y="264" width="25.8" height="1.02" fill="#9aa2fb"/><rect x="95.0" y="265" width="25.8" height="1.02" fill="#7d86f9"/><rect x="95.0" y="266" width="25.8" height="1.02" fill="#3d4bf6"/><rect x="95.0" y="267" width="25.8" height="1.02" fill="#3d4bf6"/><rect x="95.0" y="268" width="25.8" height="1.02" fill="#4856f8"/><rect x="95.0" y="269" width="25.8" height="1.02" fill="#4452f7"/><rect x="95.0" y="270" width="25.8" height="1.02" fill="#f8f6ff"/><rect x="95.0" y="271" width="25.8" height="1.02" fill="#4856f8"/><rect x="95.0" y="272" width="25.8" height="1.02" fill="#4856f8"/><rect x="95.0" y="273" width="25.8" height="1.02" fill="#4856f8"/><rect x="95.0" y="274" width="25.8" height="1.02" fill="#4856f8"/><rect x="95.0" y="275" width="25.8" height="1.02" fill="#949dfb"/><rect x="95.0" y="276" width="25.8" height="1.02" fill="#aab1fb"/><rect x="95.0" y="277" width="25.8" height="1.02" fill="#f4f2fe"/><rect x="95.0" y="278" width="25.8" height="1.02" fill="#aab1fb"/><rect x="95.0" y="279" width="25.8" height="1.02" fill="#abb2fb"/><rect x="95.0" y="280" width="25.8" height="1.02" fill="#6a76f9"/><rect x="95.0" y="281" width="25.8" height="1.02" fill="#8a93fa"/><rect x="95.0" y="282" width="25.8" height="1.02" fill="#8a93fa"/><rect x="95.0" y="283" width="25.8" height="1.02" fill="#3e4cf6"/><rect x="95.0" y="284" width="25.8" height="1.02" fill="#4351f7"/><rect x="95.0" y="285" width="25.8" height="1.02" fill="#99a1fb"/><rect x="95.0" y="286" width="25.8" height="1.02" fill="#5f6bf8"/><rect x="95.0" y="287" width="25.8" height="1.02" fill="#abb2fb"/><rect x="95.0" y="288" width="25.8" height="1.02" fill="#969efb"/><rect x="95.0" y="289" width="25.8" height="1.02" fill="#afb5fb"/><rect x="95.0" y="290" width="25.8" height="1.02" fill="#4452f7"/><rect x="95.0" y="291" width="25.8" height="1.02" fill="#757ff9"/><rect x="95.0" y="292" width="25.8" height="1.02" fill="#bfc2fc"/><rect x="95.0" y="293" width="25.8" height="1.02" fill="#98a0fb"/><rect x="95.0" y="294" width="25.8" height="1.02" fill="#98a0fb"/><rect x="95.0" y="295" width="25.8" height="1.02" fill="#98a0fb"/><rect x="95.0" y="296" width="25.8" height="1.02" fill="#abb1fb"/><rect x="95.0" y="297" width="25.8" height="1.02" fill="#626ef8"/><rect x="95.0" y="298" width="25.8" height="1.02" fill="#3f4df6"/><rect x="95.0" y="299" width="25.8" height="1.02" fill="#eeecfd"/><rect x="95.0" y="300" width="25.8" height="1.02" fill="#6671f9"/><rect x="95.0" y="301" width="25.8" height="1.02" fill="#4250f7"/><rect x="95.0" y="302" width="25.8" height="1.02" fill="#9ba1fa"/><rect x="95.0" y="303" width="25.8" height="1.02" fill="#414ff7"/><rect x="95.0" y="304" width="25.8" height="1.02" fill="#f1effe"/><rect x="95.0" y="305" width="25.8" height="1.02" fill="#9099fb"/><rect x="95.0" y="306" width="25.8" height="1.02" fill="#9ca4fb"/><rect x="95.0" y="307" width="25.8" height="1.02" fill="#b0b7fb"/><rect x="95.0" y="308" width="25.8" height="1.02" fill="#aab1fb"/><rect x="95.0" y="309" width="25.8" height="1.02" fill="#acb3fb"/><rect x="95.0" y="310" width="25.8" height="1.02" fill="#9da3fb"/><rect x="95.0" y="311" width="25.8" height="1.02" fill="#4755f8"/><rect x="95.0" y="312" width="25.8" height="1.02" fill="#9099fb"/><rect x="95.0" y="313" width="25.8" height="1.02" fill="#9099fb"/><rect x="95.0" y="314" width="25.8" height="1.02" fill="#9ca2fa"/><rect x="95.0" y="315" width="25.8" height="1.02" fill="#8891fa"/><rect x="95.0" y="316" width="25.8" height="1.02" fill="#8891fa"/><rect x="95.0" y="317" width="25.8" height="1.02" fill="#404ef7"/><rect x="95.0" y="318" width="25.8" height="1.02" fill="#636ff9"/><rect x="95.0" y="319" width="25.8" height="1.02" fill="#eae8fc"/><rect x="95.0" y="320" width="25.8" height="1.02" fill="#9aa2fb"/><rect x="95.0" y="321" width="25.8" height="1.02" fill="#b7bdfc"/><rect x="95.0" y="322" width="25.8" height="1.02" fill="#b7bdfc"/><rect x="95.0" y="323" width="25.8" height="1.02" fill="#848dfa"/><rect x="95.0" y="324" width="25.8" height="1.02" fill="#979ffb"/><rect x="95.0" y="325" width="25.8" height="1.02" fill="#bbc1fc"/><rect x="95.0" y="326" width="25.8" height="1.02" fill="#b4bafc"/><rect x="95.0" y="327" width="25.8" height="1.02" fill="#999ffa"/><rect x="95.0" y="328" width="25.8" height="1.02" fill="#4856f8"/><rect x="95.0" y="329" width="25.8" height="1.02" fill="#4452f7"/><rect x="95.0" y="330" width="25.8" height="1.02" fill="#9fa6fb"/><rect x="95.0" y="331" width="25.8" height="1.02" fill="#9fa6fb"/><rect x="95.0" y="332" width="25.8" height="1.02" fill="#4553f7"/><rect x="95.0" y="333" width="25.8" height="1.02" fill="#4553f7"/><rect x="95.0" y="334" width="25.8" height="1.02" fill="#4250f7"/><rect x="95.0" y="335" width="25.8" height="1.02" fill="#4553f7"/><rect x="95.0" y="336" width="25.8" height="1.02" fill="#abb2fb"/><rect x="95.0" y="337" width="25.8" height="1.02" fill="#99a1fb"/><rect x="95.0" y="338" width="25.8" height="1.02" fill="#b4bafc"/><rect x="95.0" y="339" width="25.8" height="1.02" fill="#b4bafc"/><rect x="95.0" y="340" width="25.8" height="1.02" fill="#606cf8"/><rect x="95.0" y="341" width="25.8" height="1.02" fill="#717cf9"/><rect x="95.0" y="342" width="25.8" height="1.02" fill="#9ba3fb"/><rect x="95.0" y="343" width="25.8" height="1.02" fill="#6c77f9"/><rect x="95.0" y="344" width="25.8" height="1.02" fill="#8e97fa"/><rect x="95.0" y="345" width="25.8" height="1.02" fill="#8e97fa"/><rect x="95.0" y="346" width="25.8" height="1.02" fill="#8e97fa"/><rect x="95.0" y="347" width="25.8" height="1.02" fill="#8e97fa"/><rect x="95.0" y="348" width="25.8" height="1.02" fill="#4654f7"/><rect x="95.0" y="349" width="25.8" height="1.02" fill="#f0eefd"/><rect x="95.0" y="350" width="25.8" height="1.02" fill="#4553f7"/><rect x="95.0" y="351" width="25.8" height="1.02" fill="#bbbffc"/><rect x="95.0" y="352" width="25.8" height="1.02" fill="#abb2fb"/><rect x="95.0" y="353" width="25.8" height="1.02" fill="#7e89fa"/><rect x="95.0" y="354" width="25.8" height="1.02" fill="#7e89fa"/><rect x="95.0" y="355" width="25.8" height="1.02" fill="#bec3fc"/><rect x="95.0" y="356" width="25.8" height="1.02" fill="#bec3fc"/><rect x="95.0" y="357" width="25.8" height="1.02" fill="#99a1fb"/><rect x="95.0" y="358" width="25.8" height="1.02" fill="#c0c5fc"/><rect x="95.0" y="359" width="25.8" height="1.02" fill="#3d4bf6"/><rect x="95.0" y="360" width="25.8" height="1.02" fill="#404ef7"/><rect x="95.0" y="361" width="25.8" height="1.02" fill="#4553f7"/><rect x="95.0" y="362" width="25.8" height="1.02" fill="#737ef9"/><rect x="95.0" y="363" width="25.8" height="1.02" fill="#a6adfb"/><rect x="95.0" y="364" width="25.8" height="1.02" fill="#3d4bf6"/><rect x="95.0" y="365" width="25.8" height="1.02" fill="#747ff9"/><rect x="95.0" y="366" width="25.8" height="1.02" fill="#f96b9c"/><rect x="95.0" y="367" width="25.8" height="1.02" fill="#fa416f"/><rect x="95.0" y="368" width="25.8" height="1.02" fill="#f93764"/><rect x="95.0" y="369" width="25.8" height="1.02" fill="#f93764"/><rect x="95.0" y="370" width="25.8" height="1.02" fill="#fc284e"/><rect x="95.0" y="371" width="25.8" height="1.02" fill="#fc284f"/><rect x="95.0" y="372" width="25.8" height="1.02" fill="#c180f5"/><rect x="95.0" y="373" width="25.8" height="1.02" fill="#ec66a5"/><rect x="95.0" y="374" width="25.8" height="1.02" fill="#fa1738"/><rect x="95.0" y="375" width="25.8" height="1.02" fill="#fbcbe0"/><rect x="95.0" y="376" width="25.8" height="1.02" fill="#fb2044"/><rect x="95.0" y="377" width="25.8" height="1.02" fill="#f93864"/><rect x="95.0" y="378" width="25.8" height="1.02" fill="#c98af5"/><rect x="95.0" y="379" width="25.8" height="1.02" fill="#fb1c3f"/><rect x="95.0" y="380" width="25.8" height="1.02" fill="#fb2146"/><rect x="95.0" y="381" width="25.8" height="1.02" fill="#fa4372"/><rect x="95.0" y="382" width="25.8" height="1.02" fill="#f978a6"/><rect x="95.0" y="383" width="25.8" height="1.02" fill="#f96799"/><rect x="95.0" y="384" width="25.8" height="1.02" fill="#f96f9f"/><rect x="95.0" y="385" width="25.8" height="1.02" fill="#f972a1"/><rect x="95.0" y="386" width="25.8" height="1.02" fill="#ea5f9d"/><rect x="95.0" y="387" width="25.8" height="1.02" fill="#e75797"/><rect x="95.0" y="388" width="25.8" height="1.02" fill="#fa193b"/><rect x="95.0" y="389" width="25.8" height="1.02" fill="#fb1d40"/><rect x="95.0" y="390" width="25.8" height="1.02" fill="#f96799"/><rect x="95.0" y="391" width="25.8" height="1.02" fill="#fa8ab3"/><rect x="95.0" y="392" width="25.8" height="1.02" fill="#fa84ae"/><rect x="95.0" y="393" width="25.8" height="1.02" fill="#fa84ae"/><rect x="95.0" y="394" width="25.8" height="1.02" fill="#fb264c"/><rect x="95.0" y="395" width="25.8" height="1.02" fill="#fb264c"/><rect x="95.0" y="396" width="25.8" height="1.02" fill="#fc274e"/><rect x="95.0" y="397" width="25.8" height="1.02" fill="#fa4c73"/><rect x="95.0" y="398" width="25.8" height="1.02" fill="#fb537c"/><rect x="95.0" y="399" width="25.8" height="1.02" fill="#f85e93"/><rect x="95.0" y="400" width="25.8" height="1.02" fill="#fc2d54"/><rect x="95.0" y="401" width="25.8" height="1.02" fill="#f97ca9"/><rect x="95.0" y="402" width="25.8" height="1.02" fill="#fa4471"/><rect x="95.0" y="403" width="25.8" height="1.02" fill="#fa4c77"/><rect x="95.0" y="404" width="25.8" height="1.02" fill="#e1a5f5"/><rect x="95.0" y="405" width="25.8" height="1.02" fill="#fa5277"/><rect x="95.0" y="406" width="25.8" height="1.02" fill="#f96296"/><rect x="95.0" y="407" width="25.8" height="1.02" fill="#fc294f"/><rect x="95.0" y="408" width="25.8" height="1.02" fill="#fa193b"/><rect x="95.0" y="409" width="25.8" height="1.02" fill="#db6dc3"/><rect x="95.0" y="410" width="25.8" height="1.02" fill="#fb1f42"/><rect x="95.0" y="411" width="25.8" height="1.02" fill="#fa4b75"/><rect x="95.0" y="412" width="25.8" height="1.02" fill="#fb2246"/><rect x="95.0" y="413" width="25.8" height="1.02" fill="#f979a7"/><rect x="95.0" y="414" width="25.8" height="1.02" fill="#fc2b53"/><rect x="95.0" y="415" width="25.8" height="1.02" fill="#fb264c"/><rect x="95.0" y="416" width="25.8" height="1.02" fill="#fb264c"/><rect x="95.0" y="417" width="25.8" height="1.02" fill="#fc2d55"/><rect x="95.0" y="418" width="25.8" height="1.02" fill="#f96598"/><rect x="95.0" y="419" width="25.8" height="1.02" fill="#f96295"/><rect x="95.0" y="420" width="25.8" height="1.02" fill="#fa5176"/><rect x="95.0" y="421" width="25.8" height="1.02" fill="#fb577f"/><rect x="95.0" y="422" width="25.8" height="1.02" fill="#fa82ad"/><rect x="95.0" y="423" width="25.8" height="1.02" fill="#fb2247"/><rect x="95.0" y="424" width="25.8" height="1.02" fill="#fb2247"/><rect x="95.0" y="425" width="25.8" height="1.02" fill="#f976a4"/><rect x="95.0" y="426" width="25.8" height="1.02" fill="#fa4870"/><rect x="95.0" y="427" width="25.8" height="1.02" fill="#f96195"/><rect x="95.0" y="428" width="25.8" height="1.02" fill="#fa3c6b"/><rect x="95.0" y="429" width="25.8" height="1.02" fill="#f979a6"/><rect x="95.0" y="430" width="25.8" height="1.02" fill="#f979a6"/><rect x="95.0" y="431" width="25.8" height="1.02" fill="#fa83ad"/><rect x="95.0" y="432" width="25.8" height="1.02" fill="#fa83ad"/><rect x="95.0" y="433" width="25.8" height="1.02" fill="#fb2145"/><rect x="95.0" y="434" width="25.8" height="1.02" fill="#fb274d"/><rect x="95.0" y="435" width="25.8" height="1.02" fill="#fa4e78"/><rect x="95.0" y="436" width="25.8" height="1.02" fill="#fb2247"/><rect x="95.0" y="437" width="25.8" height="1.02" fill="#fa8cb4"/><rect x="95.0" y="438" width="25.8" height="1.02" fill="#faa3c4"/><rect x="95.0" y="439" width="25.8" height="1.02" fill="#faa3c4"/><rect x="95.0" y="440" width="25.8" height="1.02" fill="#fb557f"/><rect x="95.0" y="441" width="25.8" height="1.02" fill="#f8568d"/><rect x="95.0" y="442" width="25.8" height="1.02" fill="#f8568d"/><rect x="95.0" y="443" width="25.8" height="1.02" fill="#f8568d"/><rect x="95.0" y="444" width="25.8" height="1.02" fill="#f97ba7"/><rect x="95.0" y="445" width="25.8" height="1.02" fill="#fb1f42"/><rect x="95.0" y="446" width="25.8" height="1.02" fill="#fb254b"/><rect x="95.0" y="447" width="25.8" height="1.02" fill="#fa81ac"/><rect x="95.0" y="448" width="25.8" height="1.02" fill="#fa4c73"/><rect x="95.0" y="449" width="25.8" height="1.02" fill="#fc2950"/><rect x="95.0" y="450" width="25.8" height="1.02" fill="#fb274d"/><rect x="95.0" y="451" width="25.8" height="1.02" fill="#fb2146"/><rect x="95.0" y="452" width="25.8" height="1.02" fill="#fb1d40"/><rect x="95.0" y="453" width="25.8" height="1.02" fill="#fb2348"/><rect x="95.0" y="454" width="25.8" height="1.02" fill="#fb2348"/><rect x="95.0" y="455" width="25.8" height="1.02" fill="#f85c92"/><rect x="95.0" y="456" width="25.8" height="1.02" fill="#f8548c"/><rect x="95.0" y="457" width="25.8" height="1.02" fill="#f8548c"/><rect x="95.0" y="458" width="25.8" height="1.02" fill="#fb2146"/><rect x="95.0" y="459" width="25.8" height="1.02" fill="#fb2146"/><rect x="95.0" y="460" width="25.8" height="1.02" fill="#fa466e"/><rect x="95.0" y="461" width="25.8" height="1.02" fill="#fc2950"/><rect x="95.0" y="462" width="25.8" height="1.02" fill="#fb274d"/><rect x="95.0" y="463" width="25.8" height="1.02" fill="#e4589e"/><rect x="95.0" y="464" width="25.8" height="1.02" fill="#e4589e"/><rect x="95.0" y="465" width="25.8" height="1.02" fill="#fb2247"/><rect x="95.0" y="466" width="25.8" height="1.02" fill="#f93c68"/><rect x="95.0" y="467" width="25.8" height="1.02" fill="#fb1c3f"/><rect x="95.0" y="468" width="25.8" height="1.02" fill="#fa1a3c"/><rect x="95.0" y="469" width="25.8" height="1.02" fill="#fb1d40"/><rect x="95.0" y="470" width="25.8" height="1.02" fill="#fc2950"/><rect x="95.0" y="471" width="25.8" height="1.02" fill="#fc2950"/><rect x="95.0" y="472" width="25.8" height="1.02" fill="#fa8bb3"/><rect x="95.0" y="473" width="25.8" height="1.02" fill="#cc8df5"/><rect x="95.0" y="474" width="25.8" height="1.02" fill="#fb254a"/><rect x="95.0" y="475" width="25.8" height="1.02" fill="#fb2348"/><rect x="95.0" y="476" width="25.8" height="1.02" fill="#f93a65"/><rect x="95.0" y="477" width="25.8" height="1.02" fill="#f93a65"/><rect x="95.0" y="478" width="25.8" height="1.02" fill="#fa80ac"/><rect x="95.0" y="479" width="25.8" height="1.02" fill="#fb2247"/><rect x="95.0" y="480" width="25.8" height="1.02" fill="#fa3e6a"/><rect x="95.0" y="481" width="25.8" height="1.02" fill="#fa3e6a"/><rect x="95.0" y="482" width="25.8" height="1.02" fill="#e4569b"/><rect x="95.0" y="483" width="25.8" height="1.02" fill="#fb264c"/><rect x="95.0" y="484" width="25.8" height="1.02" fill="#fa81ac"/><rect x="95.0" y="485" width="25.8" height="1.02" fill="#f97da9"/><rect x="95.0" y="486" width="25.8" height="1.02" fill="#f97da9"/><rect x="95.0" y="487" width="25.8" height="1.02" fill="#fa193b"/><rect x="95.0" y="488" width="25.8" height="1.02" fill="#fa183a"/><rect x="95.0" y="489" width="25.8" height="1.02" fill="#fa406e"/><rect x="95.0" y="490" width="25.8" height="1.02" fill="#f97da9"/><rect x="95.0" y="491" width="25.8" height="1.02" fill="#fc284f"/><rect x="95.0" y="492" width="25.8" height="1.02" fill="#fa4570"/><rect x="95.0" y="493" width="25.8" height="1.02" fill="#fb1e42"/><rect x="95.0" y="494" width="25.8" height="1.02" fill="#f96a9b"/><rect x="95.0" y="495" width="25.8" height="1.02" fill="#e277c5"/><rect x="95.0" y="496" width="25.8" height="1.02" fill="#fb254b"/><rect x="95.0" y="497" width="25.8" height="1.02" fill="#f8548c"/><rect x="95.0" y="498" width="25.8" height="1.02" fill="#f96698"/><rect x="95.0" y="499" width="25.8" height="1.02" fill="#f96b9c"/><rect x="95.0" y="500" width="25.8" height="1.02" fill="#f96b9c"/><rect x="95.0" y="501" width="25.8" height="1.02" fill="#f96b9c"/><rect x="95.0" y="502" width="25.8" height="1.02" fill="#e98bcf"/><rect x="95.0" y="503" width="25.8" height="1.02" fill="#fa88b1"/><rect x="95.0" y="504" width="25.8" height="1.02" fill="#f86094"/><rect x="95.0" y="505" width="25.8" height="1.02" fill="#e176c6"/><rect x="95.0" y="506" width="25.8" height="1.02" fill="#e176c6"/><rect x="95.0" y="507" width="25.8" height="1.02" fill="#f8588e"/><rect x="95.0" y="508" width="25.8" height="1.02" fill="#f9699b"/><rect x="95.0" y="509" width="25.8" height="1.02" fill="#f9699b"/><rect x="95.0" y="510" width="25.8" height="1.02" fill="#fa4874"/><rect x="95.0" y="511" width="25.8" height="1.02" fill="#fa436d"/><rect x="95.0" y="512" width="25.8" height="1.02" fill="#fb264c"/><rect x="95.0" y="513" width="25.8" height="1.02" fill="#fb2347"/><rect x="95.0" y="514" width="25.8" height="1.02" fill="#fa4b71"/><rect x="95.0" y="515" width="25.8" height="0.52" fill="#e07dcb"/><rect x="120.5" y="130" width="25.8" height="1.02" fill="#4250f7"/><rect x="120.5" y="131" width="25.8" height="1.02" fill="#404ef7"/><rect x="120.5" y="132" width="25.8" height="1.02" fill="#4856f8"/><rect x="120.5" y="133" width="25.8" height="1.02" fill="#4553f7"/><rect x="120.5" y="134" width="25.8" height="1.02" fill="#3f4df6"/><rect x="120.5" y="135" width="25.8" height="1.02" fill="#707bf9"/><rect x="120.5" y="136" width="25.8" height="1.02" fill="#4654f7"/><rect x="120.5" y="137" width="25.8" height="1.02" fill="#a4abfb"/><rect x="120.5" y="138" width="25.8" height="1.02" fill="#4654f7"/><rect x="120.5" y="139" width="25.8" height="1.02" fill="#4755f8"/><rect x="120.5" y="140" width="25.8" height="1.02" fill="#4755f8"/><rect x="120.5" y="141" width="25.8" height="1.02" fill="#4755f8"/><rect x="120.5" y="142" width="25.8" height="1.02" fill="#4553f7"/><rect x="120.5" y="143" width="25.8" height="1.02" fill="#4553f7"/><rect x="120.5" y="144" width="25.8" height="1.02" fill="#414ff7"/><rect x="120.5" y="145" width="25.8" height="1.02" fill="#414ff7"/><rect x="120.5" y="146" width="25.8" height="1.02" fill="#4351f7"/><rect x="120.5" y="147" width="25.8" height="1.02" fill="#4351f7"/><rect x="120.5" y="148" width="25.8" height="1.02" fill="#4452f7"/><rect x="120.5" y="149" width="25.8" height="1.02" fill="#4957f8"/><rect x="120.5" y="150" width="25.8" height="1.02" fill="#4250f7"/><rect x="120.5" y="151" width="25.8" height="1.02" fill="#4755f8"/><rect x="120.5" y="152" width="25.8" height="1.02" fill="#4452f7"/><rect x="120.5" y="153" width="25.8" height="1.02" fill="#4755f8"/><rect x="120.5" y="154" width="25.8" height="1.02" fill="#404ef7"/><rect x="120.5" y="155" width="25.8" height="1.02" fill="#4351f7"/><rect x="120.5" y="156" width="25.8" height="1.02" fill="#6874f9"/><rect x="120.5" y="157" width="25.8" height="1.02" fill="#3d4bf6"/><rect x="120.5" y="158" width="25.8" height="1.02" fill="#818af9"/><rect x="120.5" y="159" width="25.8" height="1.02" fill="#dda0f5"/><rect x="120.5" y="160" width="25.8" height="1.02" fill="#4755f8"/><rect x="120.5" y="161" width="25.8" height="1.02" fill="#636ff8"/><rect x="120.5" y="162" width="25.8" height="1.02" fill="#828bf9"/><rect x="120.5" y="163" width="25.8" height="1.02" fill="#828bf9"/><rect x="120.5" y="164" width="25.8" height="1.02" fill="#3f4df6"/><rect x="120.5" y="165" width="25.8" height="1.02" fill="#4755f8"/><rect x="120.5" y="166" width="25.8" height="1.02" fill="#4856f8"/><rect x="120.5" y="167" width="25.8" height="1.02" fill="#404ef7"/><rect x="120.5" y="168" width="25.8" height="1.02" fill="#4755f8"/><rect x="120.5" y="169" width="25.8" height="1.02" fill="#4755f8"/><rect x="120.5" y="170" width="25.8" height="1.02" fill="#4553f7"/><rect x="120.5" y="171" width="25.8" height="1.02" fill="#4553f7"/><rect x="120.5" y="172" width="25.8" height="1.02" fill="#acb2fb"/><rect x="120.5" y="173" width="25.8" height="1.02" fill="#7983f9"/><rect x="120.5" y="174" width="25.8" height="1.02" fill="#404ef7"/><rect x="120.5" y="175" width="25.8" height="1.02" fill="#6974f9"/><rect x="120.5" y="176" width="25.8" height="1.02" fill="#8d96fa"/><rect x="120.5" y="177" width="25.8" height="1.02" fill="#8c74f6"/><rect x="120.5" y="178" width="25.8" height="1.02" fill="#9ba3fb"/><rect x="120.5" y="179" width="25.8" height="1.02" fill="#b9bffc"/><rect x="120.5" y="180" width="25.8" height="1.02" fill="#6c77f9"/><rect x="120.5" y="181" width="25.8" height="1.02" fill="#969efb"/><rect x="120.5" y="182" width="25.8" height="1.02" fill="#969efb"/><rect x="120.5" y="183" width="25.8" height="1.02" fill="#4654f7"/><rect x="120.5" y="184" width="25.8" height="1.02" fill="#4553f7"/><rect x="120.5" y="185" width="25.8" height="1.02" fill="#4553f7"/><rect x="120.5" y="186" width="25.8" height="1.02" fill="#b4bafc"/><rect x="120.5" y="187" width="25.8" height="1.02" fill="#7d87f9"/><rect x="120.5" y="188" width="25.8" height="1.02" fill="#6873f9"/><rect x="120.5" y="189" width="25.8" height="1.02" fill="#404ef7"/><rect x="120.5" y="190" width="25.8" height="1.02" fill="#7882f9"/><rect x="120.5" y="191" width="25.8" height="1.02" fill="#b5bbfc"/><rect x="120.5" y="192" width="25.8" height="1.02" fill="#4250f7"/><rect x="120.5" y="193" width="25.8" height="1.02" fill="#8089f9"/><rect x="120.5" y="194" width="25.8" height="1.02" fill="#917af6"/><rect x="120.5" y="195" width="25.8" height="1.02" fill="#3e4cf6"/><rect x="120.5" y="196" width="25.8" height="1.02" fill="#9ea5fb"/><rect x="120.5" y="197" width="25.8" height="1.02" fill="#8c95fa"/><rect x="120.5" y="198" width="25.8" height="1.02" fill="#4351f7"/><rect x="120.5" y="199" width="25.8" height="1.02" fill="#3f4df6"/><rect x="120.5" y="200" width="25.8" height="1.02" fill="#7e88fa"/><rect x="120.5" y="201" width="25.8" height="1.02" fill="#717cf9"/><rect x="120.5" y="202" width="25.8" height="1.02" fill="#4250f7"/><rect x="120.5" y="203" width="25.8" height="1.02" fill="#866df6"/><rect x="120.5" y="204" width="25.8" height="1.02" fill="#9da5fb"/><rect x="120.5" y="205" width="25.8" height="1.02" fill="#4856f8"/><rect x="120.5" y="206" width="25.8" height="1.02" fill="#a0a7fb"/><rect x="120.5" y="207" width="25.8" height="1.02" fill="#808afa"/><rect x="120.5" y="208" width="25.8" height="1.02" fill="#414ff7"/><rect x="120.5" y="209" width="25.8" height="1.02" fill="#858efa"/><rect x="120.5" y="210" width="25.8" height="1.02" fill="#929bfb"/><rect x="120.5" y="211" width="25.8" height="1.02" fill="#929bfb"/><rect x="120.5" y="212" width="25.8" height="1.02" fill="#929bfb"/><rect x="120.5" y="213" width="25.8" height="1.02" fill="#404ef7"/><rect x="120.5" y="214" width="25.8" height="1.02" fill="#8d96fa"/><rect x="120.5" y="215" width="25.8" height="1.02" fill="#6b76f9"/><rect x="120.5" y="216" width="25.8" height="1.02" fill="#6974f9"/><rect x="120.5" y="217" width="25.8" height="1.02" fill="#3d4bf6"/><rect x="120.5" y="218" width="25.8" height="1.02" fill="#c282f5"/><rect x="120.5" y="219" width="25.8" height="1.02" fill="#8790fa"/><rect x="120.5" y="220" width="25.8" height="1.02" fill="#4452f7"/><rect x="120.5" y="221" width="25.8" height="1.02" fill="#3f4df6"/><rect x="120.5" y="222" width="25.8" height="1.02" fill="#858ffa"/><rect x="120.5" y="223" width="25.8" height="1.02" fill="#7c86f9"/><rect x="120.5" y="224" width="25.8" height="1.02" fill="#414ff7"/><rect x="120.5" y="225" width="25.8" height="1.02" fill="#949dfb"/><rect x="120.5" y="226" width="25.8" height="1.02" fill="#4452f7"/><rect x="120.5" y="227" width="25.8" height="1.02" fill="#808afa"/><rect x="120.5" y="228" width="25.8" height="1.02" fill="#808afa"/><rect x="120.5" y="229" width="25.8" height="1.02" fill="#737ef9"/><rect x="120.5" y="230" width="25.8" height="1.02" fill="#caaff8"/><rect x="120.5" y="231" width="25.8" height="1.02" fill="#4a58f8"/><rect x="120.5" y="232" width="25.8" height="1.02" fill="#6470f9"/><rect x="120.5" y="233" width="25.8" height="1.02" fill="#b89bf8"/><rect x="120.5" y="234" width="25.8" height="1.02" fill="#b89bf8"/><rect x="120.5" y="235" width="25.8" height="1.02" fill="#6772f9"/><rect x="120.5" y="236" width="25.8" height="1.02" fill="#af93f8"/><rect x="120.5" y="237" width="25.8" height="1.02" fill="#7d87f9"/><rect x="120.5" y="238" width="25.8" height="1.02" fill="#7d87f9"/><rect x="120.5" y="239" width="25.8" height="1.02" fill="#737ef9"/><rect x="120.5" y="240" width="25.8" height="1.02" fill="#a3abfb"/><rect x="120.5" y="241" width="25.8" height="1.02" fill="#757ff9"/><rect x="120.5" y="242" width="25.8" height="1.02" fill="#a2a9fb"/><rect x="120.5" y="243" width="25.8" height="1.02" fill="#737ef9"/><rect x="120.5" y="244" width="25.8" height="1.02" fill="#737ef9"/><rect x="120.5" y="245" width="25.8" height="1.02" fill="#bcc2fc"/><rect x="120.5" y="246" width="25.8" height="1.02" fill="#3d4bf6"/><rect x="120.5" y="247" width="25.8" height="1.02" fill="#6975f9"/><rect x="120.5" y="248" width="25.8" height="1.02" fill="#4755f8"/><rect x="120.5" y="249" width="25.8" height="1.02" fill="#4755f8"/><rect x="120.5" y="250" width="25.8" height="1.02" fill="#8891fa"/><rect x="120.5" y="251" width="25.8" height="1.02" fill="#c181f5"/><rect x="120.5" y="252" width="25.8" height="1.02" fill="#8b94fa"/><rect x="120.5" y="253" width="25.8" height="1.02" fill="#8b94fa"/><rect x="120.5" y="254" width="25.8" height="1.02" fill="#6570f9"/><rect x="120.5" y="255" width="25.8" height="1.02" fill="#7580f9"/><rect x="120.5" y="256" width="25.8" height="1.02" fill="#3e4cf6"/><rect x="120.5" y="257" width="25.8" height="1.02" fill="#4553f7"/><rect x="120.5" y="258" width="25.8" height="1.02" fill="#6f7af9"/><rect x="120.5" y="259" width="25.8" height="1.02" fill="#c585f5"/><rect x="120.5" y="260" width="25.8" height="1.02" fill="#c888f5"/><rect x="120.5" y="261" width="25.8" height="1.02" fill="#c1c7fc"/><rect x="120.5" y="262" width="25.8" height="1.02" fill="#4654f7"/><rect x="120.5" y="263" width="25.8" height="1.02" fill="#4957f8"/><rect x="120.5" y="264" width="25.8" height="1.02" fill="#4957f8"/><rect x="120.5" y="265" width="25.8" height="1.02" fill="#b9befc"/><rect x="120.5" y="266" width="25.8" height="1.02" fill="#4250f7"/><rect x="120.5" y="267" width="25.8" height="1.02" fill="#3f4df6"/><rect x="120.5" y="268" width="25.8" height="1.02" fill="#ca8af5"/><rect x="120.5" y="269" width="25.8" height="1.02" fill="#bfc5fc"/><rect x="120.5" y="270" width="25.8" height="1.02" fill="#939cfb"/><rect x="120.5" y="271" width="25.8" height="1.02" fill="#939cfb"/><rect x="120.5" y="272" width="25.8" height="1.02" fill="#acb3fb"/><rect x="120.5" y="273" width="25.8" height="1.02" fill="#acb3fb"/><rect x="120.5" y="274" width="25.8" height="1.02" fill="#d89af5"/><rect x="120.5" y="275" width="25.8" height="1.02" fill="#4a58f8"/><rect x="120.5" y="276" width="25.8" height="1.02" fill="#bdc2fc"/><rect x="120.5" y="277" width="25.8" height="1.02" fill="#c3c8fc"/><rect x="120.5" y="278" width="25.8" height="1.02" fill="#bdc2fc"/><rect x="120.5" y="279" width="25.8" height="1.02" fill="#3f4df6"/><rect x="120.5" y="280" width="25.8" height="1.02" fill="#7580f9"/><rect x="120.5" y="281" width="25.8" height="1.02" fill="#8f98fb"/><rect x="120.5" y="282" width="25.8" height="1.02" fill="#3e4cf6"/><rect x="120.5" y="283" width="25.8" height="1.02" fill="#404ef7"/><rect x="120.5" y="284" width="25.8" height="1.02" fill="#4755f8"/><rect x="120.5" y="285" width="25.8" height="1.02" fill="#4755f8"/><rect x="120.5" y="286" width="25.8" height="1.02" fill="#4250f7"/><rect x="120.5" y="287" width="25.8" height="1.02" fill="#4957f8"/><rect x="120.5" y="288" width="25.8" height="1.02" fill="#947df6"/><rect x="120.5" y="289" width="25.8" height="1.02" fill="#cdb1f8"/><rect x="120.5" y="290" width="25.8" height="1.02" fill="#cdb1f8"/><rect x="120.5" y="291" width="25.8" height="1.02" fill="#414ff7"/><rect x="120.5" y="292" width="25.8" height="1.02" fill="#6772f8"/><rect x="120.5" y="293" width="25.8" height="1.02" fill="#a0a7fb"/><rect x="120.5" y="294" width="25.8" height="1.02" fill="#404ef7"/><rect x="120.5" y="295" width="25.8" height="1.02" fill="#4957f8"/><rect x="120.5" y="296" width="25.8" height="1.02" fill="#4250f7"/><rect x="120.5" y="297" width="25.8" height="1.02" fill="#929afb"/><rect x="120.5" y="298" width="25.8" height="1.02" fill="#929afb"/><rect x="120.5" y="299" width="25.8" height="1.02" fill="#414ff7"/><rect x="120.5" y="300" width="25.8" height="1.02" fill="#927af6"/><rect x="120.5" y="301" width="25.8" height="1.02" fill="#917af6"/><rect x="120.5" y="302" width="25.8" height="1.02" fill="#bf7ef5"/><rect x="120.5" y="303" width="25.8" height="1.02" fill="#a0a8fb"/><rect x="120.5" y="304" width="25.8" height="1.02" fill="#4553f7"/><rect x="120.5" y="305" width="25.8" height="1.02" fill="#4351f7"/><rect x="120.5" y="306" width="25.8" height="1.02" fill="#ab90f8"/><rect x="120.5" y="307" width="25.8" height="1.02" fill="#b9befc"/><rect x="120.5" y="308" width="25.8" height="1.02" fill="#a8affb"/><rect x="120.5" y="309" width="25.8" height="1.02" fill="#818bfa"/><rect x="120.5" y="310" width="25.8" height="1.02" fill="#4250f7"/><rect x="120.5" y="311" width="25.8" height="1.02" fill="#7681f9"/><rect x="120.5" y="312" width="25.8" height="1.02" fill="#7681f9"/><rect x="120.5" y="313" width="25.8" height="1.02" fill="#8c95fa"/><rect x="120.5" y="314" width="25.8" height="1.02" fill="#4654f7"/><rect x="120.5" y="315" width="25.8" height="1.02" fill="#b296f8"/><rect x="120.5" y="316" width="25.8" height="1.02" fill="#949cfb"/><rect x="120.5" y="317" width="25.8" height="1.02" fill="#d597f5"/><rect x="120.5" y="318" width="25.8" height="1.02" fill="#a88ef8"/><rect x="120.5" y="319" width="25.8" height="1.02" fill="#414ff7"/><rect x="120.5" y="320" width="25.8" height="1.02" fill="#414ff7"/><rect x="120.5" y="321" width="25.8" height="1.02" fill="#8870f6"/><rect x="120.5" y="322" width="25.8" height="1.02" fill="#9ea6fb"/><rect x="120.5" y="323" width="25.8" height="1.02" fill="#4553f7"/><rect x="120.5" y="324" width="25.8" height="1.02" fill="#8a71f6"/><rect x="120.5" y="325" width="25.8" height="1.02" fill="#c1c6fc"/><rect x="120.5" y="326" width="25.8" height="1.02" fill="#8971f6"/><rect x="120.5" y="327" width="25.8" height="1.02" fill="#8c74f6"/><rect x="120.5" y="328" width="25.8" height="1.02" fill="#4856f8"/><rect x="120.5" y="329" width="25.8" height="1.02" fill="#414ff7"/><rect x="120.5" y="330" width="25.8" height="1.02" fill="#414ff7"/><rect x="120.5" y="331" width="25.8" height="1.02" fill="#3f4df6"/><rect x="120.5" y="332" width="25.8" height="1.02" fill="#848efa"/><rect x="120.5" y="333" width="25.8" height="1.02" fill="#8790fa"/><rect x="120.5" y="334" width="25.8" height="1.02" fill="#848efa"/><rect x="120.5" y="335" width="25.8" height="1.02" fill="#848efa"/><rect x="120.5" y="336" width="25.8" height="1.02" fill="#8b94fa"/><rect x="120.5" y="337" width="25.8" height="1.02" fill="#cf90f5"/><rect x="120.5" y="338" width="25.8" height="1.02" fill="#acb3fb"/><rect x="120.5" y="339" width="25.8" height="1.02" fill="#b69af8"/><rect x="120.5" y="340" width="25.8" height="1.02" fill="#b69af8"/><rect x="120.5" y="341" width="25.8" height="1.02" fill="#9ca3fb"/><rect x="120.5" y="342" width="25.8" height="1.02" fill="#abb2fb"/><rect x="120.5" y="343" width="25.8" height="1.02" fill="#929bfb"/><rect x="120.5" y="344" width="25.8" height="1.02" fill="#9ba3fb"/><rect x="120.5" y="345" width="25.8" height="1.02" fill="#414ff7"/><rect x="120.5" y="346" width="25.8" height="1.02" fill="#818bfa"/><rect x="120.5" y="347" width="25.8" height="1.02" fill="#979ffb"/><rect x="120.5" y="348" width="25.8" height="1.02" fill="#9aa2fb"/><rect x="120.5" y="349" width="25.8" height="1.02" fill="#afb5fb"/><rect x="120.5" y="350" width="25.8" height="1.02" fill="#afb5fb"/><rect x="120.5" y="351" width="25.8" height="1.02" fill="#d699f5"/><rect x="120.5" y="352" width="25.8" height="1.02" fill="#9da5fb"/><rect x="120.5" y="353" width="25.8" height="1.02" fill="#404ef7"/><rect x="120.5" y="354" width="25.8" height="1.02" fill="#737ef9"/><rect x="120.5" y="355" width="25.8" height="1.02" fill="#b3b9fc"/><rect x="120.5" y="356" width="25.8" height="1.02" fill="#866df6"/><rect x="120.5" y="357" width="25.8" height="1.02" fill="#404ef7"/><rect x="120.5" y="358" width="25.8" height="1.02" fill="#adb3fb"/><rect x="120.5" y="359" width="25.8" height="1.02" fill="#adb3fb"/><rect x="120.5" y="360" width="25.8" height="1.02" fill="#98a0fb"/><rect x="120.5" y="361" width="25.8" height="1.02" fill="#939bfb"/><rect x="120.5" y="362" width="25.8" height="1.02" fill="#4755f8"/><rect x="120.5" y="363" width="25.8" height="1.02" fill="#404ef7"/><rect x="120.5" y="364" width="25.8" height="1.02" fill="#404ef7"/><rect x="120.5" y="365" width="25.8" height="1.02" fill="#4250f7"/><rect x="120.5" y="366" width="25.8" height="1.02" fill="#f8548c"/><rect x="120.5" y="367" width="25.8" height="1.02" fill="#f8548c"/><rect x="120.5" y="368" width="25.8" height="1.02" fill="#fa1637"/><rect x="120.5" y="369" width="25.8" height="1.02" fill="#bf7ef5"/><rect x="120.5" y="370" width="25.8" height="1.02" fill="#fb1f43"/><rect x="120.5" y="371" width="25.8" height="1.02" fill="#f96a9b"/><rect x="120.5" y="372" width="25.8" height="1.02" fill="#f8538b"/><rect x="120.5" y="373" width="25.8" height="1.02" fill="#fb264c"/><rect x="120.5" y="374" width="25.8" height="1.02" fill="#d699f5"/><rect x="120.5" y="375" width="25.8" height="1.02" fill="#fa7eaa"/><rect x="120.5" y="376" width="25.8" height="1.02" fill="#fa1637"/><rect x="120.5" y="377" width="25.8" height="1.02" fill="#f96d9e"/><rect x="120.5" y="378" width="25.8" height="1.02" fill="#f96d9e"/><rect x="120.5" y="379" width="25.8" height="1.02" fill="#eb87c9"/><rect x="120.5" y="380" width="25.8" height="1.02" fill="#e6589a"/><rect x="120.5" y="381" width="25.8" height="1.02" fill="#fb2347"/><rect x="120.5" y="382" width="25.8" height="1.02" fill="#de529e"/><rect x="120.5" y="383" width="25.8" height="1.02" fill="#fa4972"/><rect x="120.5" y="384" width="25.8" height="1.02" fill="#fa1a3c"/><rect x="120.5" y="385" width="25.8" height="1.02" fill="#f8578e"/><rect x="120.5" y="386" width="25.8" height="1.02" fill="#fb274d"/><rect x="120.5" y="387" width="25.8" height="1.02" fill="#fb2349"/><rect x="120.5" y="388" width="25.8" height="1.02" fill="#fb254b"/><rect x="120.5" y="389" width="25.8" height="1.02" fill="#fb254b"/><rect x="120.5" y="390" width="25.8" height="1.02" fill="#ce8ff5"/><rect x="120.5" y="391" width="25.8" height="1.02" fill="#fb2247"/><rect x="120.5" y="392" width="25.8" height="1.02" fill="#fc274e"/><rect x="120.5" y="393" width="25.8" height="1.02" fill="#e890d3"/><rect x="120.5" y="394" width="25.8" height="1.02" fill="#cd8ef5"/><rect x="120.5" y="395" width="25.8" height="1.02" fill="#f85e92"/><rect x="120.5" y="396" width="25.8" height="1.02" fill="#d89af5"/><rect x="120.5" y="397" width="25.8" height="1.02" fill="#c98af5"/><rect x="120.5" y="398" width="25.8" height="1.02" fill="#c989f5"/><rect x="120.5" y="399" width="25.8" height="1.02" fill="#f85f94"/><rect x="120.5" y="400" width="25.8" height="1.02" fill="#fa1b3e"/><rect x="120.5" y="401" width="25.8" height="1.02" fill="#fa1b3e"/><rect x="120.5" y="402" width="25.8" height="1.02" fill="#fb1c3f"/><rect x="120.5" y="403" width="25.8" height="1.02" fill="#e388d1"/><rect x="120.5" y="404" width="25.8" height="1.02" fill="#f96f9f"/><rect x="120.5" y="405" width="25.8" height="1.02" fill="#fb1d41"/><rect x="120.5" y="406" width="25.8" height="1.02" fill="#fb264c"/><rect x="120.5" y="407" width="25.8" height="1.02" fill="#f85b90"/><rect x="120.5" y="408" width="25.8" height="1.02" fill="#f96f9f"/><rect x="120.5" y="409" width="25.8" height="1.02" fill="#e157a1"/><rect x="120.5" y="410" width="25.8" height="1.02" fill="#da9ef5"/><rect x="120.5" y="411" width="25.8" height="1.02" fill="#da9ef5"/><rect x="120.5" y="412" width="25.8" height="1.02" fill="#ce90f5"/><rect x="120.5" y="413" width="25.8" height="1.02" fill="#ce90f5"/><rect x="120.5" y="414" width="25.8" height="1.02" fill="#ce90f5"/><rect x="120.5" y="415" width="25.8" height="1.02" fill="#fa81ac"/><rect x="120.5" y="416" width="25.8" height="1.02" fill="#f93966"/><rect x="120.5" y="417" width="25.8" height="1.02" fill="#f96598"/><rect x="120.5" y="418" width="25.8" height="1.02" fill="#d294f5"/><rect x="120.5" y="419" width="25.8" height="1.02" fill="#ea83c7"/><rect x="120.5" y="420" width="25.8" height="1.02" fill="#fb2246"/><rect x="120.5" y="421" width="25.8" height="1.02" fill="#e171c1"/><rect x="120.5" y="422" width="25.8" height="1.02" fill="#fa4371"/><rect x="120.5" y="423" width="25.8" height="1.02" fill="#fb2246"/><rect x="120.5" y="424" width="25.8" height="1.02" fill="#f976a4"/><rect x="120.5" y="425" width="25.8" height="1.02" fill="#fa4b74"/><rect x="120.5" y="426" width="25.8" height="1.02" fill="#fa193b"/><rect x="120.5" y="427" width="25.8" height="1.02" fill="#fa193b"/><rect x="120.5" y="428" width="25.8" height="1.02" fill="#d597f5"/><rect x="120.5" y="429" width="25.8" height="1.02" fill="#d99cf5"/><rect x="120.5" y="430" width="25.8" height="1.02" fill="#fc2950"/><rect x="120.5" y="431" width="25.8" height="1.02" fill="#df80cf"/><rect x="120.5" y="432" width="25.8" height="1.02" fill="#e375c3"/><rect x="120.5" y="433" width="25.8" height="1.02" fill="#e982c7"/><rect x="120.5" y="434" width="25.8" height="1.02" fill="#c484f5"/><rect x="120.5" y="435" width="25.8" height="1.02" fill="#c484f5"/><rect x="120.5" y="436" width="25.8" height="1.02" fill="#fc2b52"/><rect x="120.5" y="437" width="25.8" height="1.02" fill="#e784ca"/><rect x="120.5" y="438" width="25.8" height="1.02" fill="#d193f5"/><rect x="120.5" y="439" width="25.8" height="1.02" fill="#d294f5"/><rect x="120.5" y="440" width="25.8" height="1.02" fill="#fa8cb4"/><rect x="120.5" y="441" width="25.8" height="1.02" fill="#f9699b"/><rect x="120.5" y="442" width="25.8" height="1.02" fill="#fa4c74"/><rect x="120.5" y="443" width="25.8" height="1.02" fill="#fc2b52"/><rect x="120.5" y="444" width="25.8" height="1.02" fill="#f96f9f"/><rect x="120.5" y="445" width="25.8" height="1.02" fill="#e991d3"/><rect x="120.5" y="446" width="25.8" height="1.02" fill="#fc2950"/><rect x="120.5" y="447" width="25.8" height="1.02" fill="#fa1738"/><rect x="120.5" y="448" width="25.8" height="1.02" fill="#fa4d74"/><rect x="120.5" y="449" width="25.8" height="1.02" fill="#f978a5"/><rect x="120.5" y="450" width="25.8" height="1.02" fill="#fc2c54"/><rect x="120.5" y="451" width="25.8" height="1.02" fill="#c181f5"/><rect x="120.5" y="452" width="25.8" height="1.02" fill="#d293f5"/><rect x="120.5" y="453" width="25.8" height="1.02" fill="#e95e9e"/><rect x="120.5" y="454" width="25.8" height="1.02" fill="#fb1e42"/><rect x="120.5" y="455" width="25.8" height="1.02" fill="#fc2950"/><rect x="120.5" y="456" width="25.8" height="1.02" fill="#f971a1"/><rect x="120.5" y="457" width="25.8" height="1.02" fill="#e271c1"/><rect x="120.5" y="458" width="25.8" height="1.02" fill="#e271c1"/><rect x="120.5" y="459" width="25.8" height="1.02" fill="#fb5a81"/><rect x="120.5" y="460" width="25.8" height="1.02" fill="#fa1839"/><rect x="120.5" y="461" width="25.8" height="1.02" fill="#f975a3"/><rect x="120.5" y="462" width="25.8" height="1.02" fill="#ea84c9"/><rect x="120.5" y="463" width="25.8" height="1.02" fill="#fa1739"/><rect x="120.5" y="464" width="25.8" height="1.02" fill="#f971a1"/><rect x="120.5" y="465" width="25.8" height="1.02" fill="#fb2449"/><rect x="120.5" y="466" width="25.8" height="1.02" fill="#fb2348"/><rect x="120.5" y="467" width="25.8" height="1.02" fill="#ee649f"/><rect x="120.5" y="468" width="25.8" height="1.02" fill="#c080f5"/><rect x="120.5" y="469" width="25.8" height="1.02" fill="#fa82ad"/><rect x="120.5" y="470" width="25.8" height="1.02" fill="#fa81ac"/><rect x="120.5" y="471" width="25.8" height="1.02" fill="#c080f5"/><rect x="120.5" y="472" width="25.8" height="1.02" fill="#cb8cf5"/><rect x="120.5" y="473" width="25.8" height="1.02" fill="#fb2043"/><rect x="120.5" y="474" width="25.8" height="1.02" fill="#ea62a3"/><rect x="120.5" y="475" width="25.8" height="1.02" fill="#e25198"/><rect x="120.5" y="476" width="25.8" height="1.02" fill="#dea1f5"/><rect x="120.5" y="477" width="25.8" height="1.02" fill="#fb254a"/><rect x="120.5" y="478" width="25.8" height="1.02" fill="#fb1c3f"/><rect x="120.5" y="479" width="25.8" height="1.02" fill="#d799f5"/><rect x="120.5" y="480" width="25.8" height="1.02" fill="#d799f5"/><rect x="120.5" y="481" width="25.8" height="1.02" fill="#cf90f5"/><rect x="120.5" y="482" width="25.8" height="1.02" fill="#fa1738"/><rect x="120.5" y="483" width="25.8" height="1.02" fill="#fa1839"/><rect x="120.5" y="484" width="25.8" height="1.02" fill="#fc2c53"/><rect x="120.5" y="485" width="25.8" height="1.02" fill="#fc2c53"/><rect x="120.5" y="486" width="25.8" height="1.02" fill="#fc2c53"/><rect x="120.5" y="487" width="25.8" height="1.02" fill="#fc2c53"/><rect x="120.5" y="488" width="25.8" height="1.02" fill="#fb254a"/><rect x="120.5" y="489" width="25.8" height="1.02" fill="#f85c92"/><rect x="120.5" y="490" width="25.8" height="1.02" fill="#e185d0"/><rect x="120.5" y="491" width="25.8" height="1.02" fill="#fb2449"/><rect x="120.5" y="492" width="25.8" height="1.02" fill="#c383f5"/><rect x="120.5" y="493" width="25.8" height="1.02" fill="#f97da9"/><rect x="120.5" y="494" width="25.8" height="1.02" fill="#e75697"/><rect x="120.5" y="495" width="25.8" height="1.02" fill="#fa4975"/><rect x="120.5" y="496" width="25.8" height="1.02" fill="#fa4975"/><rect x="120.5" y="497" width="25.8" height="1.02" fill="#fb2044"/><rect x="120.5" y="498" width="25.8" height="1.02" fill="#fa82ad"/><rect x="120.5" y="499" width="25.8" height="1.02" fill="#fa82ad"/><rect x="120.5" y="500" width="25.8" height="1.02" fill="#f975a3"/><rect x="120.5" y="501" width="25.8" height="1.02" fill="#fb2146"/><rect x="120.5" y="502" width="25.8" height="1.02" fill="#fa517a"/><rect x="120.5" y="503" width="25.8" height="1.02" fill="#e65ca1"/><rect x="120.5" y="504" width="25.8" height="1.02" fill="#ec88c9"/><rect x="120.5" y="505" width="25.8" height="1.02" fill="#f96598"/><rect x="120.5" y="506" width="25.8" height="1.02" fill="#f8548c"/><rect x="120.5" y="507" width="25.8" height="1.02" fill="#fa4572"/><rect x="120.5" y="508" width="25.8" height="1.02" fill="#fa87b1"/><rect x="120.5" y="509" width="25.8" height="1.02" fill="#f96d9d"/><rect x="120.5" y="510" width="25.8" height="1.02" fill="#c484f5"/><rect x="120.5" y="511" width="25.8" height="1.02" fill="#fc2b52"/><rect x="120.5" y="512" width="25.8" height="1.02" fill="#fb274d"/><rect x="120.5" y="513" width="25.8" height="1.02" fill="#d395f5"/><rect x="120.5" y="514" width="25.8" height="1.02" fill="#e75da1"/><rect x="120.5" y="515" width="25.8" height="0.52" fill="#fb264c"/><rect x="146.0" y="130" width="25.8" height="1.02" fill="#faa1c3"/><rect x="146.0" y="131" width="25.8" height="1.02" fill="#fa80ab"/><rect x="146.0" y="132" width="25.8" height="1.02" fill="#f8568d"/><rect x="146.0" y="133" width="25.8" height="1.02" fill="#df4f9a"/><rect x="146.0" y="134" width="25.8" height="1.02" fill="#df4f9a"/><rect x="146.0" y="135" width="25.8" height="1.02" fill="#f8548b"/><rect x="146.0" y="136" width="25.8" height="1.02" fill="#e1a5f5"/><rect x="146.0" y="137" width="25.8" height="1.02" fill="#fa193c"/><rect x="146.0" y="138" width="25.8" height="1.02" fill="#fa87b1"/><rect x="146.0" y="139" width="25.8" height="1.02" fill="#f96f9f"/><rect x="146.0" y="140" width="25.8" height="1.02" fill="#e4b1ee"/><rect x="146.0" y="141" width="25.8" height="1.02" fill="#f96f9f"/><rect x="146.0" y="142" width="25.8" height="1.02" fill="#fa557c"/><rect x="146.0" y="143" width="25.8" height="1.02" fill="#f96f9f"/><rect x="146.0" y="144" width="25.8" height="1.02" fill="#f96195"/><rect x="146.0" y="145" width="25.8" height="1.02" fill="#fb2349"/><rect x="146.0" y="146" width="25.8" height="1.02" fill="#fcd1e4"/><rect x="146.0" y="147" width="25.8" height="1.02" fill="#fb2246"/><rect x="146.0" y="148" width="25.8" height="1.02" fill="#ed67a3"/><rect x="146.0" y="149" width="25.8" height="1.02" fill="#ed67a3"/><rect x="146.0" y="150" width="25.8" height="1.02" fill="#fa426b"/><rect x="146.0" y="151" width="25.8" height="1.02" fill="#f978a6"/><rect x="146.0" y="152" width="25.8" height="1.02" fill="#f96a9b"/><rect x="146.0" y="153" width="25.8" height="1.02" fill="#fb7892"/><rect x="146.0" y="154" width="25.8" height="1.02" fill="#fa1839"/><rect x="146.0" y="155" width="25.8" height="1.02" fill="#f979a6"/><rect x="146.0" y="156" width="25.8" height="1.02" fill="#fb758f"/><rect x="146.0" y="157" width="25.8" height="1.02" fill="#fab8d4"/><rect x="146.0" y="158" width="25.8" height="1.02" fill="#e27eca"/><rect x="146.0" y="159" width="25.8" height="1.02" fill="#fa183a"/><rect x="146.0" y="160" width="25.8" height="1.02" fill="#fb2145"/><rect x="146.0" y="161" width="25.8" height="1.02" fill="#fc284f"/><rect x="146.0" y="162" width="25.8" height="1.02" fill="#fc294f"/><rect x="146.0" y="163" width="25.8" height="1.02" fill="#fc819d"/><rect x="146.0" y="164" width="25.8" height="1.02" fill="#fb2348"/><rect x="146.0" y="165" width="25.8" height="1.02" fill="#fb2045"/><rect x="146.0" y="166" width="25.8" height="1.02" fill="#fabbd6"/><rect x="146.0" y="167" width="25.8" height="1.02" fill="#e85999"/><rect x="146.0" y="168" width="25.8" height="1.02" fill="#e85999"/><rect x="146.0" y="169" width="25.8" height="1.02" fill="#fb2349"/><rect x="146.0" y="170" width="25.8" height="1.02" fill="#fb5880"/><rect x="146.0" y="171" width="25.8" height="1.02" fill="#f97aa7"/><rect x="146.0" y="172" width="25.8" height="1.02" fill="#fbcce1"/><rect x="146.0" y="173" width="25.8" height="1.02" fill="#fcd4e6"/><rect x="146.0" y="174" width="25.8" height="1.02" fill="#fa9abe"/><rect x="146.0" y="175" width="25.8" height="1.02" fill="#f85e93"/><rect x="146.0" y="176" width="25.8" height="1.02" fill="#fa7eaa"/><rect x="146.0" y="177" width="25.8" height="1.02" fill="#fa7eaa"/><rect x="146.0" y="178" width="25.8" height="1.02" fill="#f85f94"/><rect x="146.0" y="179" width="25.8" height="1.02" fill="#f973a2"/><rect x="146.0" y="180" width="25.8" height="1.02" fill="#fb274d"/><rect x="146.0" y="181" width="25.8" height="1.02" fill="#f93b66"/><rect x="146.0" y="182" width="25.8" height="1.02" fill="#f93b66"/><rect x="146.0" y="183" width="25.8" height="1.02" fill="#fa85af"/><rect x="146.0" y="184" width="25.8" height="1.02" fill="#fa80ac"/><rect x="146.0" y="185" width="25.8" height="1.02" fill="#fbc2db"/><rect x="146.0" y="186" width="25.8" height="1.02" fill="#f976a4"/><rect x="146.0" y="187" width="25.8" height="1.02" fill="#f976a4"/><rect x="146.0" y="188" width="25.8" height="1.02" fill="#f976a4"/><rect x="146.0" y="189" width="25.8" height="1.02" fill="#fa9cbf"/><rect x="146.0" y="190" width="25.8" height="1.02" fill="#f975a3"/><rect x="146.0" y="191" width="25.8" height="1.02" fill="#fb1c3f"/><rect x="146.0" y="192" width="25.8" height="1.02" fill="#fc294f"/><rect x="146.0" y="193" width="25.8" height="1.02" fill="#fa1739"/><rect x="146.0" y="194" width="25.8" height="1.02" fill="#fb7892"/><rect x="146.0" y="195" width="25.8" height="1.02" fill="#fa193b"/><rect x="146.0" y="196" width="25.8" height="1.02" fill="#fa476f"/><rect x="146.0" y="197" width="25.8" height="1.02" fill="#ed81c4"/><rect x="146.0" y="198" width="25.8" height="1.02" fill="#fa4a71"/><rect x="146.0" y="199" width="25.8" height="1.02" fill="#fb1f42"/><rect x="146.0" y="200" width="25.8" height="1.02" fill="#fa6786"/><rect x="146.0" y="201" width="25.8" height="1.02" fill="#fa81ac"/><rect x="146.0" y="202" width="25.8" height="1.02" fill="#f8558c"/><rect x="146.0" y="203" width="25.8" height="1.02" fill="#f8598f"/><rect x="146.0" y="204" width="25.8" height="1.02" fill="#fa436f"/><rect x="146.0" y="205" width="25.8" height="1.02" fill="#fa4a72"/><rect x="146.0" y="206" width="25.8" height="1.02" fill="#fa7fab"/><rect x="146.0" y="207" width="25.8" height="1.02" fill="#fb2044"/><rect x="146.0" y="208" width="25.8" height="1.02" fill="#d698f5"/><rect x="146.0" y="209" width="25.8" height="1.02" fill="#fcd7e8"/><rect x="146.0" y="210" width="25.8" height="1.02" fill="#fcd7e8"/><rect x="146.0" y="211" width="25.8" height="1.02" fill="#fa82ad"/><rect x="146.0" y="212" width="25.8" height="1.02" fill="#fbbfd9"/><rect x="146.0" y="213" width="25.8" height="1.02" fill="#fb6e8d"/><rect x="146.0" y="214" width="25.8" height="1.02" fill="#f96195"/><rect x="146.0" y="215" width="25.8" height="1.02" fill="#f96195"/><rect x="146.0" y="216" width="25.8" height="1.02" fill="#f96195"/><rect x="146.0" y="217" width="25.8" height="1.02" fill="#f93d69"/><rect x="146.0" y="218" width="25.8" height="1.02" fill="#f93d69"/><rect x="146.0" y="219" width="25.8" height="1.02" fill="#fbc7de"/><rect x="146.0" y="220" width="25.8" height="1.02" fill="#fb264d"/><rect x="146.0" y="221" width="25.8" height="1.02" fill="#fabad6"/><rect x="146.0" y="222" width="25.8" height="1.02" fill="#fb2044"/><rect x="146.0" y="223" width="25.8" height="1.02" fill="#fa416c"/><rect x="146.0" y="224" width="25.8" height="1.02" fill="#fa416c"/><rect x="146.0" y="225" width="25.8" height="1.02" fill="#fa3b69"/><rect x="146.0" y="226" width="25.8" height="1.02" fill="#fa3b69"/><rect x="146.0" y="227" width="25.8" height="1.02" fill="#fa3b69"/><rect x="146.0" y="228" width="25.8" height="1.02" fill="#fa4571"/><rect x="146.0" y="229" width="25.8" height="1.02" fill="#f96195"/><rect x="146.0" y="230" width="25.8" height="1.02" fill="#f977a5"/><rect x="146.0" y="231" width="25.8" height="1.02" fill="#fa193b"/><rect x="146.0" y="232" width="25.8" height="1.02" fill="#fa6c8a"/><rect x="146.0" y="233" width="25.8" height="1.02" fill="#f85d92"/><rect x="146.0" y="234" width="25.8" height="1.02" fill="#f971a1"/><rect x="146.0" y="235" width="25.8" height="1.02" fill="#f971a1"/><rect x="146.0" y="236" width="25.8" height="1.02" fill="#fb6d8f"/><rect x="146.0" y="237" width="25.8" height="1.02" fill="#fb264b"/><rect x="146.0" y="238" width="25.8" height="1.02" fill="#fbcde2"/><rect x="146.0" y="239" width="25.8" height="1.02" fill="#fbcde2"/><rect x="146.0" y="240" width="25.8" height="1.02" fill="#fa9cbf"/><rect x="146.0" y="241" width="25.8" height="1.02" fill="#be7df5"/><rect x="146.0" y="242" width="25.8" height="1.02" fill="#fc2b53"/><rect x="146.0" y="243" width="25.8" height="1.02" fill="#f96e9e"/><rect x="146.0" y="244" width="25.8" height="1.02" fill="#fa98bd"/><rect x="146.0" y="245" width="25.8" height="1.02" fill="#fa98bd"/><rect x="146.0" y="246" width="25.8" height="1.02" fill="#fb264b"/><rect x="146.0" y="247" width="25.8" height="1.02" fill="#f96e9f"/><rect x="146.0" y="248" width="25.8" height="1.02" fill="#f96e9f"/><rect x="146.0" y="249" width="25.8" height="1.02" fill="#cd8ef5"/><rect x="146.0" y="250" width="25.8" height="1.02" fill="#f8598f"/><rect x="146.0" y="251" width="25.8" height="1.02" fill="#fa4770"/><rect x="146.0" y="252" width="25.8" height="1.02" fill="#fbc9df"/><rect x="146.0" y="253" width="25.8" height="1.02" fill="#f8598f"/><rect x="146.0" y="254" width="25.8" height="1.02" fill="#fa4573"/><rect x="146.0" y="255" width="25.8" height="1.02" fill="#fb1e41"/><rect x="146.0" y="256" width="25.8" height="1.02" fill="#f85a90"/><rect x="146.0" y="257" width="25.8" height="1.02" fill="#fa87b0"/><rect x="146.0" y="258" width="25.8" height="1.02" fill="#fa4571"/><rect x="146.0" y="259" width="25.8" height="1.02" fill="#e371c0"/><rect x="146.0" y="260" width="25.8" height="1.02" fill="#f97ca8"/><rect x="146.0" y="261" width="25.8" height="1.02" fill="#f9689a"/><rect x="146.0" y="262" width="25.8" height="1.02" fill="#f9689a"/><rect x="146.0" y="263" width="25.8" height="1.02" fill="#f96195"/><rect x="146.0" y="264" width="25.8" height="1.02" fill="#fa8ab3"/><rect x="146.0" y="265" width="25.8" height="1.02" fill="#faa1c3"/><rect x="146.0" y="266" width="25.8" height="1.02" fill="#fbc1da"/><rect x="146.0" y="267" width="25.8" height="1.02" fill="#fa97bc"/><rect x="146.0" y="268" width="25.8" height="1.02" fill="#fa97bc"/><rect x="146.0" y="269" width="25.8" height="1.02" fill="#fa406f"/><rect x="146.0" y="270" width="25.8" height="1.02" fill="#fa1638"/><rect x="146.0" y="271" width="25.8" height="1.02" fill="#fa85af"/><rect x="146.0" y="272" width="25.8" height="1.02" fill="#f97aa7"/><rect x="146.0" y="273" width="25.8" height="1.02" fill="#c686f5"/><rect x="146.0" y="274" width="25.8" height="1.02" fill="#f976a4"/><rect x="146.0" y="275" width="25.8" height="1.02" fill="#fb274d"/><rect x="146.0" y="276" width="25.8" height="1.02" fill="#fb264b"/><rect x="146.0" y="277" width="25.8" height="1.02" fill="#fb254a"/><rect x="146.0" y="278" width="25.8" height="1.02" fill="#fa6888"/><rect x="146.0" y="279" width="25.8" height="1.02" fill="#fb2146"/><rect x="146.0" y="280" width="25.8" height="1.02" fill="#fb254b"/><rect x="146.0" y="281" width="25.8" height="1.02" fill="#fa4670"/><rect x="146.0" y="282" width="25.8" height="1.02" fill="#fa88b1"/><rect x="146.0" y="283" width="25.8" height="1.02" fill="#f8568d"/><rect x="146.0" y="284" width="25.8" height="1.02" fill="#fbc1da"/><rect x="146.0" y="285" width="25.8" height="1.02" fill="#fb2145"/><rect x="146.0" y="286" width="25.8" height="1.02" fill="#df4f9a"/><rect x="146.0" y="287" width="25.8" height="1.02" fill="#df4f9a"/><rect x="146.0" y="288" width="25.8" height="1.02" fill="#fb2247"/><rect x="146.0" y="289" width="25.8" height="1.02" fill="#fa8ab2"/><rect x="146.0" y="290" width="25.8" height="1.02" fill="#fb1f42"/><rect x="146.0" y="291" width="25.8" height="1.02" fill="#fb1f42"/><rect x="146.0" y="292" width="25.8" height="1.02" fill="#fb1f42"/><rect x="146.0" y="293" width="25.8" height="1.02" fill="#fb7a97"/><rect x="146.0" y="294" width="25.8" height="1.02" fill="#fb567d"/><rect x="146.0" y="295" width="25.8" height="1.02" fill="#fa193b"/><rect x="146.0" y="296" width="25.8" height="1.02" fill="#fc2d54"/><rect x="146.0" y="297" width="25.8" height="1.02" fill="#fa1c3e"/><rect x="146.0" y="298" width="25.8" height="1.02" fill="#f976a4"/><rect x="146.0" y="299" width="25.8" height="1.02" fill="#f976a4"/><rect x="146.0" y="300" width="25.8" height="1.02" fill="#fc2c53"/><rect x="146.0" y="301" width="25.8" height="1.02" fill="#fa86b0"/><rect x="146.0" y="302" width="25.8" height="1.02" fill="#f976a4"/><rect x="146.0" y="303" width="25.8" height="1.02" fill="#e1a5f5"/><rect x="146.0" y="304" width="25.8" height="1.02" fill="#f9689a"/><rect x="146.0" y="305" width="25.8" height="1.02" fill="#f85a90"/><rect x="146.0" y="306" width="25.8" height="1.02" fill="#fb264c"/><rect x="146.0" y="307" width="25.8" height="1.02" fill="#f96698"/><rect x="146.0" y="308" width="25.8" height="1.02" fill="#fa98bc"/><rect x="146.0" y="309" width="25.8" height="1.02" fill="#fa5277"/><rect x="146.0" y="310" width="25.8" height="1.02" fill="#fa5277"/><rect x="146.0" y="311" width="25.8" height="1.02" fill="#fa8ab2"/><rect x="146.0" y="312" width="25.8" height="1.02" fill="#f85b90"/><rect x="146.0" y="313" width="25.8" height="1.02" fill="#fa87b1"/><rect x="146.0" y="314" width="25.8" height="1.02" fill="#fa87b1"/><rect x="146.0" y="315" width="25.8" height="1.02" fill="#fc7a99"/><rect x="146.0" y="316" width="25.8" height="1.02" fill="#f972a1"/><rect x="146.0" y="317" width="25.8" height="1.02" fill="#fa97bc"/><rect x="146.0" y="318" width="25.8" height="1.02" fill="#fa6989"/><rect x="146.0" y="319" width="25.8" height="1.02" fill="#e1a5f5"/><rect x="146.0" y="320" width="25.8" height="1.02" fill="#e1a5f5"/><rect x="146.0" y="321" width="25.8" height="1.02" fill="#fb2348"/><rect x="146.0" y="322" width="25.8" height="1.02" fill="#fb254b"/><rect x="146.0" y="323" width="25.8" height="1.02" fill="#fc2b53"/><rect x="146.0" y="324" width="25.8" height="1.02" fill="#f85b91"/><rect x="146.0" y="325" width="25.8" height="1.02" fill="#f85d92"/><rect x="146.0" y="326" width="25.8" height="1.02" fill="#fbc5dd"/><rect x="146.0" y="327" width="25.8" height="1.02" fill="#fa4872"/><rect x="146.0" y="328" width="25.8" height="1.02" fill="#fa4a73"/><rect x="146.0" y="329" width="25.8" height="1.02" fill="#fa3c69"/><rect x="146.0" y="330" width="25.8" height="1.02" fill="#fb244a"/><rect x="146.0" y="331" width="25.8" height="1.02" fill="#f96396"/><rect x="146.0" y="332" width="25.8" height="1.02" fill="#f85b91"/><rect x="146.0" y="333" width="25.8" height="1.02" fill="#f96497"/><rect x="146.0" y="334" width="25.8" height="1.02" fill="#f96497"/><rect x="146.0" y="335" width="25.8" height="1.02" fill="#f96497"/><rect x="146.0" y="336" width="25.8" height="1.02" fill="#f976a4"/><rect x="146.0" y="337" width="25.8" height="1.02" fill="#fb6f90"/><rect x="146.0" y="338" width="25.8" height="1.02" fill="#fb1f43"/><rect x="146.0" y="339" width="25.8" height="1.02" fill="#fb2348"/><rect x="146.0" y="340" width="25.8" height="1.02" fill="#fb1d40"/><rect x="146.0" y="341" width="25.8" height="1.02" fill="#fa8fb6"/><rect x="146.0" y="342" width="25.8" height="1.02" fill="#fa8fb6"/><rect x="146.0" y="343" width="25.8" height="1.02" fill="#f85f94"/><rect x="146.0" y="344" width="25.8" height="1.02" fill="#fb2246"/><rect x="146.0" y="345" width="25.8" height="1.02" fill="#fb2246"/><rect x="146.0" y="346" width="25.8" height="1.02" fill="#fb2246"/><rect x="146.0" y="347" width="25.8" height="1.02" fill="#f96a9b"/><rect x="146.0" y="348" width="25.8" height="1.02" fill="#fb537d"/><rect x="146.0" y="349" width="25.8" height="1.02" fill="#fbbdd8"/><rect x="146.0" y="350" width="25.8" height="1.02" fill="#f8538b"/><rect x="146.0" y="351" width="25.8" height="1.02" fill="#fa406d"/><rect x="146.0" y="352" width="25.8" height="1.02" fill="#fb244a"/><rect x="146.0" y="353" width="25.8" height="1.02" fill="#fa7eaa"/><rect x="146.0" y="354" width="25.8" height="1.02" fill="#f8598f"/><rect x="146.0" y="355" width="25.8" height="1.02" fill="#d496f5"/><rect x="146.0" y="356" width="25.8" height="1.02" fill="#f96598"/><rect x="146.0" y="357" width="25.8" height="1.02" fill="#f8598f"/><rect x="146.0" y="358" width="25.8" height="1.02" fill="#fb1c3f"/><rect x="146.0" y="359" width="25.8" height="1.02" fill="#fa1c3e"/><rect x="146.0" y="360" width="25.8" height="1.02" fill="#f973a2"/><rect x="146.0" y="361" width="25.8" height="1.02" fill="#f96d9e"/><rect x="146.0" y="362" width="25.8" height="1.02" fill="#f96d9e"/><rect x="146.0" y="363" width="25.8" height="1.02" fill="#e65798"/><rect x="146.0" y="364" width="25.8" height="1.02" fill="#f93e69"/><rect x="146.0" y="365" width="25.8" height="1.02" fill="#f96397"/><rect x="146.0" y="366" width="25.8" height="1.02" fill="#98a0fb"/><rect x="146.0" y="367" width="25.8" height="1.02" fill="#9099fb"/><rect x="146.0" y="368" width="25.8" height="1.02" fill="#3e4cf6"/><rect x="146.0" y="369" width="25.8" height="1.02" fill="#b1b8fb"/><rect x="146.0" y="370" width="25.8" height="1.02" fill="#dbddfd"/><rect x="146.0" y="371" width="25.8" height="1.02" fill="#dbddfd"/><rect x="146.0" y="372" width="25.8" height="1.02" fill="#7f89fa"/><rect x="146.0" y="373" width="25.8" height="1.02" fill="#4351f7"/><rect x="146.0" y="374" width="25.8" height="1.02" fill="#7681f9"/><rect x="146.0" y="375" width="25.8" height="1.02" fill="#98a0fb"/><rect x="146.0" y="376" width="25.8" height="1.02" fill="#4654f7"/><rect x="146.0" y="377" width="25.8" height="1.02" fill="#848dfa"/><rect x="146.0" y="378" width="25.8" height="1.02" fill="#747ef9"/><rect x="146.0" y="379" width="25.8" height="1.02" fill="#edebfd"/><rect x="146.0" y="380" width="25.8" height="1.02" fill="#4755f8"/><rect x="146.0" y="381" width="25.8" height="1.02" fill="#f4f2fe"/><rect x="146.0" y="382" width="25.8" height="1.02" fill="#b0b6fb"/><rect x="146.0" y="383" width="25.8" height="1.02" fill="#7f89fa"/><rect x="146.0" y="384" width="25.8" height="1.02" fill="#a3aafb"/><rect x="146.0" y="385" width="25.8" height="1.02" fill="#a3aafb"/><rect x="146.0" y="386" width="25.8" height="1.02" fill="#bbc0fc"/><rect x="146.0" y="387" width="25.8" height="1.02" fill="#99a1fb"/><rect x="146.0" y="388" width="25.8" height="1.02" fill="#4654f7"/><rect x="146.0" y="389" width="25.8" height="1.02" fill="#4452f7"/><rect x="146.0" y="390" width="25.8" height="1.02" fill="#bdc0fc"/><rect x="146.0" y="391" width="25.8" height="1.02" fill="#b8befc"/><rect x="146.0" y="392" width="25.8" height="1.02" fill="#828bf9"/><rect x="146.0" y="393" width="25.8" height="1.02" fill="#4553f7"/><rect x="146.0" y="394" width="25.8" height="1.02" fill="#414ff7"/><rect x="146.0" y="395" width="25.8" height="1.02" fill="#eeecfd"/><rect x="146.0" y="396" width="25.8" height="1.02" fill="#4856f8"/><rect x="146.0" y="397" width="25.8" height="1.02" fill="#7f89fa"/><rect x="146.0" y="398" width="25.8" height="1.02" fill="#9aa2fb"/><rect x="146.0" y="399" width="25.8" height="1.02" fill="#3e4cf6"/><rect x="146.0" y="400" width="25.8" height="1.02" fill="#4250f7"/><rect x="146.0" y="401" width="25.8" height="1.02" fill="#acb3fb"/><rect x="146.0" y="402" width="25.8" height="1.02" fill="#b9befc"/><rect x="146.0" y="403" width="25.8" height="1.02" fill="#a3aafb"/><rect x="146.0" y="404" width="25.8" height="1.02" fill="#7f89fa"/><rect x="146.0" y="405" width="25.8" height="1.02" fill="#5f6bf8"/><rect x="146.0" y="406" width="25.8" height="1.02" fill="#3f4df6"/><rect x="146.0" y="407" width="25.8" height="1.02" fill="#f2f0fe"/><rect x="146.0" y="408" width="25.8" height="1.02" fill="#bfc4fc"/><rect x="146.0" y="409" width="25.8" height="1.02" fill="#3f4df6"/><rect x="146.0" y="410" width="25.8" height="1.02" fill="#989efa"/><rect x="146.0" y="411" width="25.8" height="1.02" fill="#989efa"/><rect x="146.0" y="412" width="25.8" height="1.02" fill="#4351f7"/><rect x="146.0" y="413" width="25.8" height="1.02" fill="#3c4af6"/><rect x="146.0" y="414" width="25.8" height="1.02" fill="#3c4af6"/><rect x="146.0" y="415" width="25.8" height="1.02" fill="#4856f8"/><rect x="146.0" y="416" width="25.8" height="1.02" fill="#bcc2fc"/><rect x="146.0" y="417" width="25.8" height="1.02" fill="#8f97fb"/><rect x="146.0" y="418" width="25.8" height="1.02" fill="#98a0fb"/><rect x="146.0" y="419" width="25.8" height="1.02" fill="#98a0fb"/><rect x="146.0" y="420" width="25.8" height="1.02" fill="#9099fb"/><rect x="146.0" y="421" width="25.8" height="1.02" fill="#eceafd"/><rect x="146.0" y="422" width="25.8" height="1.02" fill="#4553f7"/><rect x="146.0" y="423" width="25.8" height="1.02" fill="#999ffa"/><rect x="146.0" y="424" width="25.8" height="1.02" fill="#6b77f9"/><rect x="146.0" y="425" width="25.8" height="1.02" fill="#b2b8fc"/><rect x="146.0" y="426" width="25.8" height="1.02" fill="#edebfd"/><rect x="146.0" y="427" width="25.8" height="1.02" fill="#efedfd"/><rect x="146.0" y="428" width="25.8" height="1.02" fill="#efedfd"/><rect x="146.0" y="429" width="25.8" height="1.02" fill="#f9f7ff"/><rect x="146.0" y="430" width="25.8" height="1.02" fill="#a7aefb"/><rect x="146.0" y="431" width="25.8" height="1.02" fill="#6a76f9"/><rect x="146.0" y="432" width="25.8" height="1.02" fill="#858efa"/><rect x="146.0" y="433" width="25.8" height="1.02" fill="#9aa2fb"/><rect x="146.0" y="434" width="25.8" height="1.02" fill="#707bf9"/><rect x="146.0" y="435" width="25.8" height="1.02" fill="#a7aefb"/><rect x="146.0" y="436" width="25.8" height="1.02" fill="#a7aefb"/><rect x="146.0" y="437" width="25.8" height="1.02" fill="#4856f8"/><rect x="146.0" y="438" width="25.8" height="1.02" fill="#4856f8"/><rect x="146.0" y="439" width="25.8" height="1.02" fill="#414ff7"/><rect x="146.0" y="440" width="25.8" height="1.02" fill="#edebfd"/><rect x="146.0" y="441" width="25.8" height="1.02" fill="#7d87f9"/><rect x="146.0" y="442" width="25.8" height="1.02" fill="#7d87f9"/><rect x="146.0" y="443" width="25.8" height="1.02" fill="#7d87f9"/><rect x="146.0" y="444" width="25.8" height="1.02" fill="#4351f7"/><rect x="146.0" y="445" width="25.8" height="1.02" fill="#dbddfd"/><rect x="146.0" y="446" width="25.8" height="1.02" fill="#404ef7"/><rect x="146.0" y="447" width="25.8" height="1.02" fill="#404ef7"/><rect x="146.0" y="448" width="25.8" height="1.02" fill="#8891fa"/><rect x="146.0" y="449" width="25.8" height="1.02" fill="#b3b9fc"/><rect x="146.0" y="450" width="25.8" height="1.02" fill="#3e4cf6"/><rect x="146.0" y="451" width="25.8" height="1.02" fill="#3e4cf6"/><rect x="146.0" y="452" width="25.8" height="1.02" fill="#5d69f8"/><rect x="146.0" y="453" width="25.8" height="1.02" fill="#4250f7"/><rect x="146.0" y="454" width="25.8" height="1.02" fill="#4250f7"/><rect x="146.0" y="455" width="25.8" height="1.02" fill="#9aa2fb"/><rect x="146.0" y="456" width="25.8" height="1.02" fill="#c0c5fc"/><rect x="146.0" y="457" width="25.8" height="1.02" fill="#3f4df6"/><rect x="146.0" y="458" width="25.8" height="1.02" fill="#4351f7"/><rect x="146.0" y="459" width="25.8" height="1.02" fill="#636ff9"/><rect x="146.0" y="460" width="25.8" height="1.02" fill="#4957f8"/><rect x="146.0" y="461" width="25.8" height="1.02" fill="#3d4bf6"/><rect x="146.0" y="462" width="25.8" height="1.02" fill="#a3abfb"/><rect x="146.0" y="463" width="25.8" height="1.02" fill="#99a1fb"/><rect x="146.0" y="464" width="25.8" height="1.02" fill="#adb3fb"/><rect x="146.0" y="465" width="25.8" height="1.02" fill="#aeb4fb"/><rect x="146.0" y="466" width="25.8" height="1.02" fill="#a4abfb"/><rect x="146.0" y="467" width="25.8" height="1.02" fill="#4250f7"/><rect x="146.0" y="468" width="25.8" height="1.02" fill="#4250f7"/><rect x="146.0" y="469" width="25.8" height="1.02" fill="#aeb5fb"/><rect x="146.0" y="470" width="25.8" height="1.02" fill="#4654f7"/><rect x="146.0" y="471" width="25.8" height="1.02" fill="#f5f3fe"/><rect x="146.0" y="472" width="25.8" height="1.02" fill="#929bfb"/><rect x="146.0" y="473" width="25.8" height="1.02" fill="#4a58f8"/><rect x="146.0" y="474" width="25.8" height="1.02" fill="#adb4fb"/><rect x="146.0" y="475" width="25.8" height="1.02" fill="#808af9"/><rect x="146.0" y="476" width="25.8" height="1.02" fill="#a1a8fb"/><rect x="146.0" y="477" width="25.8" height="1.02" fill="#7d87f9"/><rect x="146.0" y="478" width="25.8" height="1.02" fill="#7d87f9"/><rect x="146.0" y="479" width="25.8" height="1.02" fill="#4452f7"/><rect x="146.0" y="480" width="25.8" height="1.02" fill="#4452f7"/><rect x="146.0" y="481" width="25.8" height="1.02" fill="#bcc2fc"/><rect x="146.0" y="482" width="25.8" height="1.02" fill="#bcc2fc"/><rect x="146.0" y="483" width="25.8" height="1.02" fill="#bcc2fc"/><rect x="146.0" y="484" width="25.8" height="1.02" fill="#bcc2fc"/><rect x="146.0" y="485" width="25.8" height="1.02" fill="#858ffa"/><rect x="146.0" y="486" width="25.8" height="1.02" fill="#4755f8"/><rect x="146.0" y="487" width="25.8" height="1.02" fill="#7a84fa"/><rect x="146.0" y="488" width="25.8" height="1.02" fill="#4250f7"/><rect x="146.0" y="489" width="25.8" height="1.02" fill="#414ff7"/><rect x="146.0" y="490" width="25.8" height="1.02" fill="#c1c6fc"/><rect x="146.0" y="491" width="25.8" height="1.02" fill="#97a0fb"/><rect x="146.0" y="492" width="25.8" height="1.02" fill="#4250f7"/><rect x="146.0" y="493" width="25.8" height="1.02" fill="#4250f7"/><rect x="146.0" y="494" width="25.8" height="1.02" fill="#414ff7"/><rect x="146.0" y="495" width="25.8" height="1.02" fill="#b5bbfc"/><rect x="146.0" y="496" width="25.8" height="1.02" fill="#414ff7"/><rect x="146.0" y="497" width="25.8" height="1.02" fill="#959dfb"/><rect x="146.0" y="498" width="25.8" height="1.02" fill="#4856f8"/><rect x="146.0" y="499" width="25.8" height="1.02" fill="#a7aefb"/><rect x="146.0" y="500" width="25.8" height="1.02" fill="#404ef7"/><rect x="146.0" y="501" width="25.8" height="1.02" fill="#b7bdfc"/><rect x="146.0" y="502" width="25.8" height="1.02" fill="#9ca3fb"/><rect x="146.0" y="503" width="25.8" height="1.02" fill="#a1a8fb"/><rect x="146.0" y="504" width="25.8" height="1.02" fill="#707af9"/><rect x="146.0" y="505" width="25.8" height="1.02" fill="#a4abfb"/><rect x="146.0" y="506" width="25.8" height="1.02" fill="#9da3fb"/><rect x="146.0" y="507" width="25.8" height="1.02" fill="#7f89fa"/><rect x="146.0" y="508" width="25.8" height="1.02" fill="#adb4fb"/><rect x="146.0" y="509" width="25.8" height="1.02" fill="#adb4fb"/><rect x="146.0" y="510" width="25.8" height="1.02" fill="#4452f7"/><rect x="146.0" y="511" width="25.8" height="1.02" fill="#4250f7"/><rect x="146.0" y="512" width="25.8" height="1.02" fill="#8c95fa"/><rect x="146.0" y="513" width="25.8" height="1.02" fill="#8c95fa"/><rect x="146.0" y="514" width="25.8" height="1.02" fill="#ced0fc"/><rect x="146.0" y="515" width="25.8" height="0.52" fill="#7882f9"/><rect x="171.5" y="130" width="25.8" height="1.02" fill="#f9699b"/><rect x="171.5" y="131" width="25.8" height="1.02" fill="#f970a0"/><rect x="171.5" y="132" width="25.8" height="1.02" fill="#ea8bce"/><rect x="171.5" y="133" width="25.8" height="1.02" fill="#f96497"/><rect x="171.5" y="134" width="25.8" height="1.02" fill="#f96497"/><rect x="171.5" y="135" width="25.8" height="1.02" fill="#e77ac3"/><rect x="171.5" y="136" width="25.8" height="1.02" fill="#f96b9c"/><rect x="171.5" y="137" width="25.8" height="1.02" fill="#fc2950"/><rect x="171.5" y="138" width="25.8" height="1.02" fill="#f8538a"/><rect x="171.5" y="139" width="25.8" height="1.02" fill="#f971a0"/><rect x="171.5" y="140" width="25.8" height="1.02" fill="#ea87ca"/><rect x="171.5" y="141" width="25.8" height="1.02" fill="#e97cc2"/><rect x="171.5" y="142" width="25.8" height="1.02" fill="#f93f69"/><rect x="171.5" y="143" width="25.8" height="1.02" fill="#f97aa7"/><rect x="171.5" y="144" width="25.8" height="1.02" fill="#f86094"/><rect x="171.5" y="145" width="25.8" height="1.02" fill="#fbcde2"/><rect x="171.5" y="146" width="25.8" height="1.02" fill="#fb738e"/><rect x="171.5" y="147" width="25.8" height="1.02" fill="#f97da9"/><rect x="171.5" y="148" width="25.8" height="1.02" fill="#f97da9"/><rect x="171.5" y="149" width="25.8" height="1.02" fill="#f97da9"/><rect x="171.5" y="150" width="25.8" height="1.02" fill="#f97ca8"/><rect x="171.5" y="151" width="25.8" height="1.02" fill="#fbbfd9"/><rect x="171.5" y="152" width="25.8" height="1.02" fill="#dd6cc1"/><rect x="171.5" y="153" width="25.8" height="1.02" fill="#fcd5e7"/><rect x="171.5" y="154" width="25.8" height="1.02" fill="#f85f93"/><rect x="171.5" y="155" width="25.8" height="1.02" fill="#fb6c8c"/><rect x="171.5" y="156" width="25.8" height="1.02" fill="#ec95d3"/><rect x="171.5" y="157" width="25.8" height="1.02" fill="#e95a97"/><rect x="171.5" y="158" width="25.8" height="1.02" fill="#fa81ac"/><rect x="171.5" y="159" width="25.8" height="1.02" fill="#fa96ba"/><rect x="171.5" y="160" width="25.8" height="1.02" fill="#dd4c99"/><rect x="171.5" y="161" width="25.8" height="1.02" fill="#dd4c99"/><rect x="171.5" y="162" width="25.8" height="1.02" fill="#cc8df5"/><rect x="171.5" y="163" width="25.8" height="1.02" fill="#f8558c"/><rect x="171.5" y="164" width="25.8" height="1.02" fill="#f8558c"/><rect x="171.5" y="165" width="25.8" height="1.02" fill="#f8558c"/><rect x="171.5" y="166" width="25.8" height="1.02" fill="#edbbee"/><rect x="171.5" y="167" width="25.8" height="1.02" fill="#f97ba8"/><rect x="171.5" y="168" width="25.8" height="1.02" fill="#f977a5"/><rect x="171.5" y="169" width="25.8" height="1.02" fill="#e1a6e9"/><rect x="171.5" y="170" width="25.8" height="1.02" fill="#f975a4"/><rect x="171.5" y="171" width="25.8" height="1.02" fill="#fa9cbf"/><rect x="171.5" y="172" width="25.8" height="1.02" fill="#fa9fc1"/><rect x="171.5" y="173" width="25.8" height="1.02" fill="#fb2247"/><rect x="171.5" y="174" width="25.8" height="1.02" fill="#f97ba8"/><rect x="171.5" y="175" width="25.8" height="1.02" fill="#fb7996"/><rect x="171.5" y="176" width="25.8" height="1.02" fill="#f85b91"/><rect x="171.5" y="177" width="25.8" height="1.02" fill="#fb1f43"/><rect x="171.5" y="178" width="25.8" height="1.02" fill="#fbcde1"/><rect x="171.5" y="179" width="25.8" height="1.02" fill="#e582cb"/><rect x="171.5" y="180" width="25.8" height="1.02" fill="#f96d9e"/><rect x="171.5" y="181" width="25.8" height="1.02" fill="#f96698"/><rect x="171.5" y="182" width="25.8" height="1.02" fill="#fa6c8b"/><rect x="171.5" y="183" width="25.8" height="1.02" fill="#f85a90"/><rect x="171.5" y="184" width="25.8" height="1.02" fill="#f85a90"/><rect x="171.5" y="185" width="25.8" height="1.02" fill="#fa8bb3"/><rect x="171.5" y="186" width="25.8" height="1.02" fill="#fabbd7"/><rect x="171.5" y="187" width="25.8" height="1.02" fill="#fa537a"/><rect x="171.5" y="188" width="25.8" height="1.02" fill="#fb527c"/><rect x="171.5" y="189" width="25.8" height="1.02" fill="#fab9d5"/><rect x="171.5" y="190" width="25.8" height="1.02" fill="#f96396"/><rect x="171.5" y="191" width="25.8" height="1.02" fill="#f8578e"/><rect x="171.5" y="192" width="25.8" height="1.02" fill="#f96497"/><rect x="171.5" y="193" width="25.8" height="1.02" fill="#fa89b2"/><rect x="171.5" y="194" width="25.8" height="1.02" fill="#fc284f"/><rect x="171.5" y="195" width="25.8" height="1.02" fill="#fc284f"/><rect x="171.5" y="196" width="25.8" height="1.02" fill="#e075c5"/><rect x="171.5" y="197" width="25.8" height="1.02" fill="#fb1d40"/><rect x="171.5" y="198" width="25.8" height="1.02" fill="#fa97bc"/><rect x="171.5" y="199" width="25.8" height="1.02" fill="#fa97bc"/><rect x="171.5" y="200" width="25.8" height="1.02" fill="#fa97bc"/><rect x="171.5" y="201" width="25.8" height="1.02" fill="#fbacca"/><rect x="171.5" y="202" width="25.8" height="1.02" fill="#d99cf5"/><rect x="171.5" y="203" width="25.8" height="1.02" fill="#f96295"/><rect x="171.5" y="204" width="25.8" height="1.02" fill="#df6dc0"/><rect x="171.5" y="205" width="25.8" height="1.02" fill="#fbc6dd"/><rect x="171.5" y="206" width="25.8" height="1.02" fill="#f96c9d"/><rect x="171.5" y="207" width="25.8" height="1.02" fill="#f96c9d"/><rect x="171.5" y="208" width="25.8" height="1.02" fill="#f96c9d"/><rect x="171.5" y="209" width="25.8" height="1.02" fill="#fb1d40"/><rect x="171.5" y="210" width="25.8" height="1.02" fill="#d394f5"/><rect x="171.5" y="211" width="25.8" height="1.02" fill="#fa1637"/><rect x="171.5" y="212" width="25.8" height="1.02" fill="#f975a3"/><rect x="171.5" y="213" width="25.8" height="1.02" fill="#fb264c"/><rect x="171.5" y="214" width="25.8" height="1.02" fill="#f86094"/><rect x="171.5" y="215" width="25.8" height="1.02" fill="#f8598f"/><rect x="171.5" y="216" width="25.8" height="1.02" fill="#fb738f"/><rect x="171.5" y="217" width="25.8" height="1.02" fill="#fab7d4"/><rect x="171.5" y="218" width="25.8" height="1.02" fill="#fbbdd8"/><rect x="171.5" y="219" width="25.8" height="1.02" fill="#fbc9df"/><rect x="171.5" y="220" width="25.8" height="1.02" fill="#fa4973"/><rect x="171.5" y="221" width="25.8" height="1.02" fill="#fbbfd9"/><rect x="171.5" y="222" width="25.8" height="1.02" fill="#fbbfd9"/><rect x="171.5" y="223" width="25.8" height="1.02" fill="#fb1d41"/><rect x="171.5" y="224" width="25.8" height="1.02" fill="#fbc2db"/><rect x="171.5" y="225" width="25.8" height="1.02" fill="#f97ba8"/><rect x="171.5" y="226" width="25.8" height="1.02" fill="#f96397"/><rect x="171.5" y="227" width="25.8" height="1.02" fill="#fab8d4"/><rect x="171.5" y="228" width="25.8" height="1.02" fill="#d193f5"/><rect x="171.5" y="229" width="25.8" height="1.02" fill="#f96698"/><rect x="171.5" y="230" width="25.8" height="1.02" fill="#fa80ab"/><rect x="171.5" y="231" width="25.8" height="1.02" fill="#f96c9d"/><rect x="171.5" y="232" width="25.8" height="1.02" fill="#fa98bd"/><rect x="171.5" y="233" width="25.8" height="1.02" fill="#f96f9f"/><rect x="171.5" y="234" width="25.8" height="1.02" fill="#fbc3db"/><rect x="171.5" y="235" width="25.8" height="1.02" fill="#fb2246"/><rect x="171.5" y="236" width="25.8" height="1.02" fill="#fa87b1"/><rect x="171.5" y="237" width="25.8" height="1.02" fill="#e288d2"/><rect x="171.5" y="238" width="25.8" height="1.02" fill="#fa1b3e"/><rect x="171.5" y="239" width="25.8" height="1.02" fill="#fa89b2"/><rect x="171.5" y="240" width="25.8" height="1.02" fill="#fa4b78"/><rect x="171.5" y="241" width="25.8" height="1.02" fill="#f974a3"/><rect x="171.5" y="242" width="25.8" height="1.02" fill="#fb557e"/><rect x="171.5" y="243" width="25.8" height="1.02" fill="#fa4370"/><rect x="171.5" y="244" width="25.8" height="1.02" fill="#fb6f8e"/><rect x="171.5" y="245" width="25.8" height="1.02" fill="#f96d9d"/><rect x="171.5" y="246" width="25.8" height="1.02" fill="#fb5980"/><rect x="171.5" y="247" width="25.8" height="1.02" fill="#fabbd6"/><rect x="171.5" y="248" width="25.8" height="1.02" fill="#e65c9f"/><rect x="171.5" y="249" width="25.8" height="1.02" fill="#e95fa0"/><rect x="171.5" y="250" width="25.8" height="1.02" fill="#fb2145"/><rect x="171.5" y="251" width="25.8" height="1.02" fill="#fabcd7"/><rect x="171.5" y="252" width="25.8" height="1.02" fill="#fabcd7"/><rect x="171.5" y="253" width="25.8" height="1.02" fill="#fa4771"/><rect x="171.5" y="254" width="25.8" height="1.02" fill="#faa1c2"/><rect x="171.5" y="255" width="25.8" height="1.02" fill="#fbc5dd"/><rect x="171.5" y="256" width="25.8" height="1.02" fill="#d89bf5"/><rect x="171.5" y="257" width="25.8" height="1.02" fill="#fa7fab"/><rect x="171.5" y="258" width="25.8" height="1.02" fill="#fa9bbf"/><rect x="171.5" y="259" width="25.8" height="1.02" fill="#f975a4"/><rect x="171.5" y="260" width="25.8" height="1.02" fill="#fb7193"/><rect x="171.5" y="261" width="25.8" height="1.02" fill="#faa0c2"/><rect x="171.5" y="262" width="25.8" height="1.02" fill="#f9689a"/><rect x="171.5" y="263" width="25.8" height="1.02" fill="#f9689a"/><rect x="171.5" y="264" width="25.8" height="1.02" fill="#fbc2db"/><rect x="171.5" y="265" width="25.8" height="1.02" fill="#fb254b"/><rect x="171.5" y="266" width="25.8" height="1.02" fill="#fb254b"/><rect x="171.5" y="267" width="25.8" height="1.02" fill="#fbbed8"/><rect x="171.5" y="268" width="25.8" height="1.02" fill="#fb2045"/><rect x="171.5" y="269" width="25.8" height="1.02" fill="#fa4370"/><rect x="171.5" y="270" width="25.8" height="1.02" fill="#eeb3e8"/><rect x="171.5" y="271" width="25.8" height="1.02" fill="#fa1c3e"/><rect x="171.5" y="272" width="25.8" height="1.02" fill="#e761a5"/><rect x="171.5" y="273" width="25.8" height="1.02" fill="#fa4f74"/><rect x="171.5" y="274" width="25.8" height="1.02" fill="#fa1739"/><rect x="171.5" y="275" width="25.8" height="1.02" fill="#fb6c8c"/><rect x="171.5" y="276" width="25.8" height="1.02" fill="#c484f5"/><rect x="171.5" y="277" width="25.8" height="1.02" fill="#fa7faa"/><rect x="171.5" y="278" width="25.8" height="1.02" fill="#fba8c7"/><rect x="171.5" y="279" width="25.8" height="1.02" fill="#fa4e75"/><rect x="171.5" y="280" width="25.8" height="1.02" fill="#e35398"/><rect x="171.5" y="281" width="25.8" height="1.02" fill="#fb254b"/><rect x="171.5" y="282" width="25.8" height="1.02" fill="#fb254b"/><rect x="171.5" y="283" width="25.8" height="1.02" fill="#fc2950"/><rect x="171.5" y="284" width="25.8" height="1.02" fill="#fb2449"/><rect x="171.5" y="285" width="25.8" height="1.02" fill="#fa8cb4"/><rect x="171.5" y="286" width="25.8" height="1.02" fill="#f974a2"/><rect x="171.5" y="287" width="25.8" height="1.02" fill="#f974a2"/><rect x="171.5" y="288" width="25.8" height="1.02" fill="#f8568d"/><rect x="171.5" y="289" width="25.8" height="1.02" fill="#fbc1da"/><rect x="171.5" y="290" width="25.8" height="1.02" fill="#fbcae0"/><rect x="171.5" y="291" width="25.8" height="1.02" fill="#f97ba8"/><rect x="171.5" y="292" width="25.8" height="1.02" fill="#fbbdd8"/><rect x="171.5" y="293" width="25.8" height="1.02" fill="#fa1a3d"/><rect x="171.5" y="294" width="25.8" height="1.02" fill="#fa1b3e"/><rect x="171.5" y="295" width="25.8" height="1.02" fill="#f97ca8"/><rect x="171.5" y="296" width="25.8" height="1.02" fill="#fa4f79"/><rect x="171.5" y="297" width="25.8" height="1.02" fill="#fa4f79"/><rect x="171.5" y="298" width="25.8" height="1.02" fill="#fbc0d9"/><rect x="171.5" y="299" width="25.8" height="1.02" fill="#cc8df5"/><rect x="171.5" y="300" width="25.8" height="1.02" fill="#f8558c"/><rect x="171.5" y="301" width="25.8" height="1.02" fill="#fbbfd9"/><rect x="171.5" y="302" width="25.8" height="1.02" fill="#f85f93"/><rect x="171.5" y="303" width="25.8" height="1.02" fill="#fc2b52"/><rect x="171.5" y="304" width="25.8" height="1.02" fill="#fa4a70"/><rect x="171.5" y="305" width="25.8" height="1.02" fill="#ca8af5"/><rect x="171.5" y="306" width="25.8" height="1.02" fill="#f96a9b"/><rect x="171.5" y="307" width="25.8" height="1.02" fill="#fa96bb"/><rect x="171.5" y="308" width="25.8" height="1.02" fill="#f96a9c"/><rect x="171.5" y="309" width="25.8" height="1.02" fill="#f96a9c"/><rect x="171.5" y="310" width="25.8" height="1.02" fill="#fa8eb5"/><rect x="171.5" y="311" width="25.8" height="1.02" fill="#f975a4"/><rect x="171.5" y="312" width="25.8" height="1.02" fill="#ca8af5"/><rect x="171.5" y="313" width="25.8" height="1.02" fill="#f973a2"/><rect x="171.5" y="314" width="25.8" height="1.02" fill="#fc2a51"/><rect x="171.5" y="315" width="25.8" height="1.02" fill="#fbcae0"/><rect x="171.5" y="316" width="25.8" height="1.02" fill="#ee67a3"/><rect x="171.5" y="317" width="25.8" height="1.02" fill="#fc284e"/><rect x="171.5" y="318" width="25.8" height="1.02" fill="#fa85af"/><rect x="171.5" y="319" width="25.8" height="1.02" fill="#fb274d"/><rect x="171.5" y="320" width="25.8" height="1.02" fill="#fb7293"/><rect x="171.5" y="321" width="25.8" height="1.02" fill="#fa5076"/><rect x="171.5" y="322" width="25.8" height="1.02" fill="#fb264c"/><rect x="171.5" y="323" width="25.8" height="1.02" fill="#fa4e76"/><rect x="171.5" y="324" width="25.8" height="1.02" fill="#fb1f42"/><rect x="171.5" y="325" width="25.8" height="1.02" fill="#f9689a"/><rect x="171.5" y="326" width="25.8" height="1.02" fill="#f972a1"/><rect x="171.5" y="327" width="25.8" height="1.02" fill="#fcd2e5"/><rect x="171.5" y="328" width="25.8" height="1.02" fill="#fb1f42"/><rect x="171.5" y="329" width="25.8" height="1.02" fill="#c282f5"/><rect x="171.5" y="330" width="25.8" height="1.02" fill="#f9689a"/><rect x="171.5" y="331" width="25.8" height="1.02" fill="#c484f5"/><rect x="171.5" y="332" width="25.8" height="1.02" fill="#fa97bc"/><rect x="171.5" y="333" width="25.8" height="1.02" fill="#f978a5"/><rect x="171.5" y="334" width="25.8" height="1.02" fill="#e9aae5"/><rect x="171.5" y="335" width="25.8" height="1.02" fill="#fa5176"/><rect x="171.5" y="336" width="25.8" height="1.02" fill="#fa4e79"/><rect x="171.5" y="337" width="25.8" height="1.02" fill="#f96699"/><rect x="171.5" y="338" width="25.8" height="1.02" fill="#fb2247"/><rect x="171.5" y="339" width="25.8" height="1.02" fill="#f8568d"/><rect x="171.5" y="340" width="25.8" height="1.02" fill="#fb728d"/><rect x="171.5" y="341" width="25.8" height="1.02" fill="#f96d9d"/><rect x="171.5" y="342" width="25.8" height="1.02" fill="#fa4d77"/><rect x="171.5" y="343" width="25.8" height="1.02" fill="#faa0c3"/><rect x="171.5" y="344" width="25.8" height="1.02" fill="#f974a3"/><rect x="171.5" y="345" width="25.8" height="1.02" fill="#f974a3"/><rect x="171.5" y="346" width="25.8" height="1.02" fill="#f974a3"/><rect x="171.5" y="347" width="25.8" height="1.02" fill="#dda1f5"/><rect x="171.5" y="348" width="25.8" height="1.02" fill="#f9689a"/><rect x="171.5" y="349" width="25.8" height="1.02" fill="#f96799"/><rect x="171.5" y="350" width="25.8" height="1.02" fill="#fb2146"/><rect x="171.5" y="351" width="25.8" height="1.02" fill="#fa7fab"/><rect x="171.5" y="352" width="25.8" height="1.02" fill="#fa547b"/><rect x="171.5" y="353" width="25.8" height="1.02" fill="#f93967"/><rect x="171.5" y="354" width="25.8" height="1.02" fill="#eab3eb"/><rect x="171.5" y="355" width="25.8" height="1.02" fill="#f97ba8"/><rect x="171.5" y="356" width="25.8" height="1.02" fill="#fa9fc1"/><rect x="171.5" y="357" width="25.8" height="1.02" fill="#fc2950"/><rect x="171.5" y="358" width="25.8" height="1.02" fill="#fba6c6"/><rect x="171.5" y="359" width="25.8" height="1.02" fill="#f96699"/><rect x="171.5" y="360" width="25.8" height="1.02" fill="#fa183a"/><rect x="171.5" y="361" width="25.8" height="1.02" fill="#cf90f5"/><rect x="171.5" y="362" width="25.8" height="1.02" fill="#fa5279"/><rect x="171.5" y="363" width="25.8" height="1.02" fill="#fbcbe1"/><rect x="171.5" y="364" width="25.8" height="1.02" fill="#fbc4dc"/><rect x="171.5" y="365" width="25.8" height="1.02" fill="#fa7eaa"/><rect x="171.5" y="366" width="25.8" height="1.02" fill="#4654f7"/><rect x="171.5" y="367" width="25.8" height="1.02" fill="#4654f7"/><rect x="171.5" y="368" width="25.8" height="1.02" fill="#a8affb"/><rect x="171.5" y="369" width="25.8" height="1.02" fill="#9ba3fb"/><rect x="171.5" y="370" width="25.8" height="1.02" fill="#9ba3fb"/><rect x="171.5" y="371" width="25.8" height="1.02" fill="#4755f8"/><rect x="171.5" y="372" width="25.8" height="1.02" fill="#3e4cf6"/><rect x="171.5" y="373" width="25.8" height="1.02" fill="#6e79f9"/><rect x="171.5" y="374" width="25.8" height="1.02" fill="#414ff7"/><rect x="171.5" y="375" width="25.8" height="1.02" fill="#414ff7"/><rect x="171.5" y="376" width="25.8" height="1.02" fill="#404ef7"/><rect x="171.5" y="377" width="25.8" height="1.02" fill="#4957f8"/><rect x="171.5" y="378" width="25.8" height="1.02" fill="#404ef7"/><rect x="171.5" y="379" width="25.8" height="1.02" fill="#707bf9"/><rect x="171.5" y="380" width="25.8" height="1.02" fill="#757ff9"/><rect x="171.5" y="381" width="25.8" height="1.02" fill="#3d4bf6"/><rect x="171.5" y="382" width="25.8" height="1.02" fill="#4351f7"/><rect x="171.5" y="383" width="25.8" height="1.02" fill="#b3b9fc"/><rect x="171.5" y="384" width="25.8" height="1.02" fill="#7c86f9"/><rect x="171.5" y="385" width="25.8" height="1.02" fill="#aab1fb"/><rect x="171.5" y="386" width="25.8" height="1.02" fill="#b5bbfc"/><rect x="171.5" y="387" width="25.8" height="1.02" fill="#f5f3fe"/><rect x="171.5" y="388" width="25.8" height="1.02" fill="#4351f7"/><rect x="171.5" y="389" width="25.8" height="1.02" fill="#b4bafc"/><rect x="171.5" y="390" width="25.8" height="1.02" fill="#848dfa"/><rect x="171.5" y="391" width="25.8" height="1.02" fill="#7f89fa"/><rect x="171.5" y="392" width="25.8" height="1.02" fill="#4452f7"/><rect x="171.5" y="393" width="25.8" height="1.02" fill="#4654f7"/><rect x="171.5" y="394" width="25.8" height="1.02" fill="#4654f7"/><rect x="171.5" y="395" width="25.8" height="1.02" fill="#4452f7"/><rect x="171.5" y="396" width="25.8" height="1.02" fill="#404ef7"/><rect x="171.5" y="397" width="25.8" height="1.02" fill="#f6f4fe"/><rect x="171.5" y="398" width="25.8" height="1.02" fill="#f6f4fe"/><rect x="171.5" y="399" width="25.8" height="1.02" fill="#636ff8"/><rect x="171.5" y="400" width="25.8" height="1.02" fill="#414ff7"/><rect x="171.5" y="401" width="25.8" height="1.02" fill="#7b85f9"/><rect x="171.5" y="402" width="25.8" height="1.02" fill="#636ff8"/><rect x="171.5" y="403" width="25.8" height="1.02" fill="#f9f7ff"/><rect x="171.5" y="404" width="25.8" height="1.02" fill="#3d4bf6"/><rect x="171.5" y="405" width="25.8" height="1.02" fill="#858ffa"/><rect x="171.5" y="406" width="25.8" height="1.02" fill="#858ffa"/><rect x="171.5" y="407" width="25.8" height="1.02" fill="#4654f7"/><rect x="171.5" y="408" width="25.8" height="1.02" fill="#4452f7"/><rect x="171.5" y="409" width="25.8" height="1.02" fill="#4553f7"/><rect x="171.5" y="410" width="25.8" height="1.02" fill="#818bfa"/><rect x="171.5" y="411" width="25.8" height="1.02" fill="#cbcdfc"/><rect x="171.5" y="412" width="25.8" height="1.02" fill="#747ff9"/><rect x="171.5" y="413" width="25.8" height="1.02" fill="#a4abfb"/><rect x="171.5" y="414" width="25.8" height="1.02" fill="#abb1fb"/><rect x="171.5" y="415" width="25.8" height="1.02" fill="#abb1fb"/><rect x="171.5" y="416" width="25.8" height="1.02" fill="#abb1fb"/><rect x="171.5" y="417" width="25.8" height="1.02" fill="#4755f8"/><rect x="171.5" y="418" width="25.8" height="1.02" fill="#4755f8"/><rect x="171.5" y="419" width="25.8" height="1.02" fill="#9fa7fb"/><rect x="171.5" y="420" width="25.8" height="1.02" fill="#9fa7fb"/><rect x="171.5" y="421" width="25.8" height="1.02" fill="#9fa7fb"/><rect x="171.5" y="422" width="25.8" height="1.02" fill="#9fa7fb"/><rect x="171.5" y="423" width="25.8" height="1.02" fill="#6e78f9"/><rect x="171.5" y="424" width="25.8" height="1.02" fill="#afb6fb"/><rect x="171.5" y="425" width="25.8" height="1.02" fill="#404ef7"/><rect x="171.5" y="426" width="25.8" height="1.02" fill="#8c95fa"/><rect x="171.5" y="427" width="25.8" height="1.02" fill="#808afa"/><rect x="171.5" y="428" width="25.8" height="1.02" fill="#737ef9"/><rect x="171.5" y="429" width="25.8" height="1.02" fill="#adb3fb"/><rect x="171.5" y="430" width="25.8" height="1.02" fill="#a3aafb"/><rect x="171.5" y="431" width="25.8" height="1.02" fill="#969ffb"/><rect x="171.5" y="432" width="25.8" height="1.02" fill="#7680f9"/><rect x="171.5" y="433" width="25.8" height="1.02" fill="#d5d7fc"/><rect x="171.5" y="434" width="25.8" height="1.02" fill="#949cfb"/><rect x="171.5" y="435" width="25.8" height="1.02" fill="#6975f9"/><rect x="171.5" y="436" width="25.8" height="1.02" fill="#929bfb"/><rect x="171.5" y="437" width="25.8" height="1.02" fill="#a1a8fb"/><rect x="171.5" y="438" width="25.8" height="1.02" fill="#a1a8fb"/><rect x="171.5" y="439" width="25.8" height="1.02" fill="#3f4df6"/><rect x="171.5" y="440" width="25.8" height="1.02" fill="#404ef7"/><rect x="171.5" y="441" width="25.8" height="1.02" fill="#404ef7"/><rect x="171.5" y="442" width="25.8" height="1.02" fill="#4755f8"/><rect x="171.5" y="443" width="25.8" height="1.02" fill="#4755f8"/><rect x="171.5" y="444" width="25.8" height="1.02" fill="#8c95fa"/><rect x="171.5" y="445" width="25.8" height="1.02" fill="#4553f7"/><rect x="171.5" y="446" width="25.8" height="1.02" fill="#f4f2fe"/><rect x="171.5" y="447" width="25.8" height="1.02" fill="#4957f8"/><rect x="171.5" y="448" width="25.8" height="1.02" fill="#4957f8"/><rect x="171.5" y="449" width="25.8" height="1.02" fill="#4957f8"/><rect x="171.5" y="450" width="25.8" height="1.02" fill="#abb2fb"/><rect x="171.5" y="451" width="25.8" height="1.02" fill="#9ea6fb"/><rect x="171.5" y="452" width="25.8" height="1.02" fill="#404ef7"/><rect x="171.5" y="453" width="25.8" height="1.02" fill="#b9bdfc"/><rect x="171.5" y="454" width="25.8" height="1.02" fill="#4957f8"/><rect x="171.5" y="455" width="25.8" height="1.02" fill="#6b76f9"/><rect x="171.5" y="456" width="25.8" height="1.02" fill="#8b94fa"/><rect x="171.5" y="457" width="25.8" height="1.02" fill="#4654f7"/><rect x="171.5" y="458" width="25.8" height="1.02" fill="#99a1fb"/><rect x="171.5" y="459" width="25.8" height="1.02" fill="#99a1fb"/><rect x="171.5" y="460" width="25.8" height="1.02" fill="#3f4df6"/><rect x="171.5" y="461" width="25.8" height="1.02" fill="#3f4df6"/><rect x="171.5" y="462" width="25.8" height="1.02" fill="#3f4df6"/><rect x="171.5" y="463" width="25.8" height="1.02" fill="#3f4df6"/><rect x="171.5" y="464" width="25.8" height="1.02" fill="#3f4df6"/><rect x="171.5" y="465" width="25.8" height="1.02" fill="#6470f8"/><rect x="171.5" y="466" width="25.8" height="1.02" fill="#969efb"/><rect x="171.5" y="467" width="25.8" height="1.02" fill="#3d4bf6"/><rect x="171.5" y="468" width="25.8" height="1.02" fill="#abb2fb"/><rect x="171.5" y="469" width="25.8" height="1.02" fill="#737df9"/><rect x="171.5" y="470" width="25.8" height="1.02" fill="#979ffb"/><rect x="171.5" y="471" width="25.8" height="1.02" fill="#3e4cf6"/><rect x="171.5" y="472" width="25.8" height="1.02" fill="#a0a7fb"/><rect x="171.5" y="473" width="25.8" height="1.02" fill="#929afb"/><rect x="171.5" y="474" width="25.8" height="1.02" fill="#4a58f8"/><rect x="171.5" y="475" width="25.8" height="1.02" fill="#4553f7"/><rect x="171.5" y="476" width="25.8" height="1.02" fill="#4755f8"/><rect x="171.5" y="477" width="25.8" height="1.02" fill="#4654f7"/><rect x="171.5" y="478" width="25.8" height="1.02" fill="#727cf9"/><rect x="171.5" y="479" width="25.8" height="1.02" fill="#727cf9"/><rect x="171.5" y="480" width="25.8" height="1.02" fill="#404ef7"/><rect x="171.5" y="481" width="25.8" height="1.02" fill="#4351f7"/><rect x="171.5" y="482" width="25.8" height="1.02" fill="#9199fb"/><rect x="171.5" y="483" width="25.8" height="1.02" fill="#4a58f8"/><rect x="171.5" y="484" width="25.8" height="1.02" fill="#929bfb"/><rect x="171.5" y="485" width="25.8" height="1.02" fill="#4856f8"/><rect x="171.5" y="486" width="25.8" height="1.02" fill="#c3c8fc"/><rect x="171.5" y="487" width="25.8" height="1.02" fill="#a3abfb"/><rect x="171.5" y="488" width="25.8" height="1.02" fill="#4856f8"/><rect x="171.5" y="489" width="25.8" height="1.02" fill="#4654f7"/><rect x="171.5" y="490" width="25.8" height="1.02" fill="#4250f7"/><rect x="171.5" y="491" width="25.8" height="1.02" fill="#c1c6fc"/><rect x="171.5" y="492" width="25.8" height="1.02" fill="#c1c6fc"/><rect x="171.5" y="493" width="25.8" height="1.02" fill="#929afb"/><rect x="171.5" y="494" width="25.8" height="1.02" fill="#a2aafb"/><rect x="171.5" y="495" width="25.8" height="1.02" fill="#4250f7"/><rect x="171.5" y="496" width="25.8" height="1.02" fill="#4452f7"/><rect x="171.5" y="497" width="25.8" height="1.02" fill="#4957f8"/><rect x="171.5" y="498" width="25.8" height="1.02" fill="#4755f8"/><rect x="171.5" y="499" width="25.8" height="1.02" fill="#6c77f9"/><rect x="171.5" y="500" width="25.8" height="1.02" fill="#6c77f9"/><rect x="171.5" y="501" width="25.8" height="1.02" fill="#6c77f9"/><rect x="171.5" y="502" width="25.8" height="1.02" fill="#6873f9"/><rect x="171.5" y="503" width="25.8" height="1.02" fill="#3e4cf6"/><rect x="171.5" y="504" width="25.8" height="1.02" fill="#757ff9"/><rect x="171.5" y="505" width="25.8" height="1.02" fill="#6c77f9"/><rect x="171.5" y="506" width="25.8" height="1.02" fill="#4654f7"/><rect x="171.5" y="507" width="25.8" height="1.02" fill="#404ef7"/><rect x="171.5" y="508" width="25.8" height="1.02" fill="#4a58f8"/><rect x="171.5" y="509" width="25.8" height="1.02" fill="#404ef7"/><rect x="171.5" y="510" width="25.8" height="1.02" fill="#6f7af9"/><rect x="171.5" y="511" width="25.8" height="1.02" fill="#3c4af6"/><rect x="171.5" y="512" width="25.8" height="1.02" fill="#4452f7"/><rect x="171.5" y="513" width="25.8" height="1.02" fill="#a6adfb"/><rect x="171.5" y="514" width="25.8" height="1.02" fill="#acb3fb"/><rect x="171.5" y="515" width="25.8" height="0.52" fill="#acb3fb"/><rect x="197.0" y="130" width="25.8" height="1.02" fill="#fb2146"/><rect x="197.0" y="131" width="25.8" height="1.02" fill="#fc2a51"/><rect x="197.0" y="132" width="25.8" height="1.02" fill="#fc2a51"/><rect x="197.0" y="133" width="25.8" height="1.02" fill="#fbcce1"/><rect x="197.0" y="134" width="25.8" height="1.02" fill="#fa4a73"/><rect x="197.0" y="135" width="25.8" height="1.02" fill="#fc284f"/><rect x="197.0" y="136" width="25.8" height="1.02" fill="#f96e9e"/><rect x="197.0" y="137" width="25.8" height="1.02" fill="#fc274e"/><rect x="197.0" y="138" width="25.8" height="1.02" fill="#fb2145"/><rect x="197.0" y="139" width="25.8" height="1.02" fill="#fa85af"/><rect x="197.0" y="140" width="25.8" height="1.02" fill="#fb1d41"/><rect x="197.0" y="141" width="25.8" height="1.02" fill="#fc2b53"/><rect x="197.0" y="142" width="25.8" height="1.02" fill="#f96396"/><rect x="197.0" y="143" width="25.8" height="1.02" fill="#f97ba8"/><rect x="197.0" y="144" width="25.8" height="1.02" fill="#fb1c3f"/><rect x="197.0" y="145" width="25.8" height="1.02" fill="#fb527d"/><rect x="197.0" y="146" width="25.8" height="1.02" fill="#fc2950"/><rect x="197.0" y="147" width="25.8" height="1.02" fill="#fb2145"/><rect x="197.0" y="148" width="25.8" height="1.02" fill="#fa5278"/><rect x="197.0" y="149" width="25.8" height="1.02" fill="#fb1d40"/><rect x="197.0" y="150" width="25.8" height="1.02" fill="#fc2c54"/><rect x="197.0" y="151" width="25.8" height="1.02" fill="#fa446d"/><rect x="197.0" y="152" width="25.8" height="1.02" fill="#fb2348"/><rect x="197.0" y="153" width="25.8" height="1.02" fill="#f96d9d"/><rect x="197.0" y="154" width="25.8" height="1.02" fill="#f96d9d"/><rect x="197.0" y="155" width="25.8" height="1.02" fill="#fa97bc"/><rect x="197.0" y="156" width="25.8" height="1.02" fill="#fb2146"/><rect x="197.0" y="157" width="25.8" height="1.02" fill="#fb274d"/><rect x="197.0" y="158" width="25.8" height="1.02" fill="#fa4a73"/><rect x="197.0" y="159" width="25.8" height="1.02" fill="#f96e9e"/><rect x="197.0" y="160" width="25.8" height="1.02" fill="#fa4c78"/><rect x="197.0" y="161" width="25.8" height="1.02" fill="#fa4c78"/><rect x="197.0" y="162" width="25.8" height="1.02" fill="#fa1637"/><rect x="197.0" y="163" width="25.8" height="1.02" fill="#f976a4"/><rect x="197.0" y="164" width="25.8" height="1.02" fill="#fb2449"/><rect x="197.0" y="165" width="25.8" height="1.02" fill="#fa1738"/><rect x="197.0" y="166" width="25.8" height="1.02" fill="#fa1738"/><rect x="197.0" y="167" width="25.8" height="1.02" fill="#f972a1"/><rect x="197.0" y="168" width="25.8" height="1.02" fill="#f93f69"/><rect x="197.0" y="169" width="25.8" height="1.02" fill="#fb254a"/><rect x="197.0" y="170" width="25.8" height="1.02" fill="#f93a65"/><rect x="197.0" y="171" width="25.8" height="1.02" fill="#f96e9f"/><rect x="197.0" y="172" width="25.8" height="1.02" fill="#f96e9f"/><rect x="197.0" y="173" width="25.8" height="1.02" fill="#fa82ad"/><rect x="197.0" y="174" width="25.8" height="1.02" fill="#f8578e"/><rect x="197.0" y="175" width="25.8" height="1.02" fill="#fa4975"/><rect x="197.0" y="176" width="25.8" height="1.02" fill="#f9689a"/><rect x="197.0" y="177" width="25.8" height="1.02" fill="#f96295"/><rect x="197.0" y="178" width="25.8" height="1.02" fill="#f96296"/><rect x="197.0" y="179" width="25.8" height="1.02" fill="#fb254a"/><rect x="197.0" y="180" width="25.8" height="1.02" fill="#f977a5"/><rect x="197.0" y="181" width="25.8" height="1.02" fill="#f96799"/><rect x="197.0" y="182" width="25.8" height="1.02" fill="#fa1a3c"/><rect x="197.0" y="183" width="25.8" height="1.02" fill="#fa1a3c"/><rect x="197.0" y="184" width="25.8" height="1.02" fill="#faa7c7"/><rect x="197.0" y="185" width="25.8" height="1.02" fill="#fb2145"/><rect x="197.0" y="186" width="25.8" height="1.02" fill="#fa406e"/><rect x="197.0" y="187" width="25.8" height="1.02" fill="#fa8bb3"/><rect x="197.0" y="188" width="25.8" height="1.02" fill="#f97ca8"/><rect x="197.0" y="189" width="25.8" height="1.02" fill="#fa4f7a"/><rect x="197.0" y="190" width="25.8" height="1.02" fill="#f8548c"/><rect x="197.0" y="191" width="25.8" height="1.02" fill="#fb2348"/><rect x="197.0" y="192" width="25.8" height="1.02" fill="#fb2348"/><rect x="197.0" y="193" width="25.8" height="1.02" fill="#fb2348"/><rect x="197.0" y="194" width="25.8" height="1.02" fill="#fa9fc2"/><rect x="197.0" y="195" width="25.8" height="1.02" fill="#fa1738"/><rect x="197.0" y="196" width="25.8" height="1.02" fill="#fa1a3c"/><rect x="197.0" y="197" width="25.8" height="1.02" fill="#fa1a3c"/><rect x="197.0" y="198" width="25.8" height="1.02" fill="#fa426c"/><rect x="197.0" y="199" width="25.8" height="1.02" fill="#fa5279"/><rect x="197.0" y="200" width="25.8" height="1.02" fill="#fa1638"/><rect x="197.0" y="201" width="25.8" height="1.02" fill="#fc2c53"/><rect x="197.0" y="202" width="25.8" height="1.02" fill="#fa85af"/><rect x="197.0" y="203" width="25.8" height="1.02" fill="#fb1c3f"/><rect x="197.0" y="204" width="25.8" height="1.02" fill="#fb1d40"/><rect x="197.0" y="205" width="25.8" height="1.02" fill="#f96e9e"/><rect x="197.0" y="206" width="25.8" height="1.02" fill="#fb1f43"/><rect x="197.0" y="207" width="25.8" height="1.02" fill="#fb1f43"/><rect x="197.0" y="208" width="25.8" height="1.02" fill="#fb2348"/><rect x="197.0" y="209" width="25.8" height="1.02" fill="#fa1a3c"/><rect x="197.0" y="210" width="25.8" height="1.02" fill="#fa4a74"/><rect x="197.0" y="211" width="25.8" height="1.02" fill="#f93f69"/><rect x="197.0" y="212" width="25.8" height="1.02" fill="#f98eb5"/><rect x="197.0" y="213" width="25.8" height="1.02" fill="#f98eb5"/><rect x="197.0" y="214" width="25.8" height="1.02" fill="#f8598f"/><rect x="197.0" y="215" width="25.8" height="1.02" fill="#fc2b52"/><rect x="197.0" y="216" width="25.8" height="1.02" fill="#fb2246"/><rect x="197.0" y="217" width="25.8" height="1.02" fill="#fb5780"/><rect x="197.0" y="218" width="25.8" height="1.02" fill="#fa4871"/><rect x="197.0" y="219" width="25.8" height="1.02" fill="#f93a66"/><rect x="197.0" y="220" width="25.8" height="1.02" fill="#f93a66"/><rect x="197.0" y="221" width="25.8" height="1.02" fill="#f9679a"/><rect x="197.0" y="222" width="25.8" height="1.02" fill="#f9679a"/><rect x="197.0" y="223" width="25.8" height="1.02" fill="#fa84ae"/><rect x="197.0" y="224" width="25.8" height="1.02" fill="#fb2247"/><rect x="197.0" y="225" width="25.8" height="1.02" fill="#fb2247"/><rect x="197.0" y="226" width="25.8" height="1.02" fill="#f976a4"/><rect x="197.0" y="227" width="25.8" height="1.02" fill="#fa4770"/><rect x="197.0" y="228" width="25.8" height="1.02" fill="#fb6b8c"/><rect x="197.0" y="229" width="25.8" height="1.02" fill="#fb6b8c"/><rect x="197.0" y="230" width="25.8" height="1.02" fill="#f96497"/><rect x="197.0" y="231" width="25.8" height="1.02" fill="#fb1f43"/><rect x="197.0" y="232" width="25.8" height="1.02" fill="#f85d92"/><rect x="197.0" y="233" width="25.8" height="1.02" fill="#fa1637"/><rect x="197.0" y="234" width="25.8" height="1.02" fill="#fa85af"/><rect x="197.0" y="235" width="25.8" height="1.02" fill="#fb7494"/><rect x="197.0" y="236" width="25.8" height="1.02" fill="#fa1c3e"/><rect x="197.0" y="237" width="25.8" height="1.02" fill="#f85d92"/><rect x="197.0" y="238" width="25.8" height="1.02" fill="#fb1d40"/><rect x="197.0" y="239" width="25.8" height="1.02" fill="#f93d67"/><rect x="197.0" y="240" width="25.8" height="1.02" fill="#f93d67"/><rect x="197.0" y="241" width="25.8" height="1.02" fill="#f973a2"/><rect x="197.0" y="242" width="25.8" height="1.02" fill="#fa82ad"/><rect x="197.0" y="243" width="25.8" height="1.02" fill="#fb2145"/><rect x="197.0" y="244" width="25.8" height="1.02" fill="#fa527a"/><rect x="197.0" y="245" width="25.8" height="1.02" fill="#fb264c"/><rect x="197.0" y="246" width="25.8" height="1.02" fill="#f93864"/><rect x="197.0" y="247" width="25.8" height="1.02" fill="#fb1d40"/><rect x="197.0" y="248" width="25.8" height="1.02" fill="#fb254b"/><rect x="197.0" y="249" width="25.8" height="1.02" fill="#fb254b"/><rect x="197.0" y="250" width="25.8" height="1.02" fill="#f8598f"/><rect x="197.0" y="251" width="25.8" height="1.02" fill="#f8598f"/><rect x="197.0" y="252" width="25.8" height="1.02" fill="#fa4672"/><rect x="197.0" y="253" width="25.8" height="1.02" fill="#fa1c3e"/><rect x="197.0" y="254" width="25.8" height="1.02" fill="#fb244a"/><rect x="197.0" y="255" width="25.8" height="1.02" fill="#fa7eaa"/><rect x="197.0" y="256" width="25.8" height="1.02" fill="#f96b9c"/><rect x="197.0" y="257" width="25.8" height="1.02" fill="#fb7b97"/><rect x="197.0" y="258" width="25.8" height="1.02" fill="#fb1c3f"/><rect x="197.0" y="259" width="25.8" height="1.02" fill="#fc2b53"/><rect x="197.0" y="260" width="25.8" height="1.02" fill="#fb2449"/><rect x="197.0" y="261" width="25.8" height="1.02" fill="#fa193b"/><rect x="197.0" y="262" width="25.8" height="1.02" fill="#fc2b52"/><rect x="197.0" y="263" width="25.8" height="1.02" fill="#f96799"/><rect x="197.0" y="264" width="25.8" height="1.02" fill="#fb1f43"/><rect x="197.0" y="265" width="25.8" height="1.02" fill="#fa86b0"/><rect x="197.0" y="266" width="25.8" height="1.02" fill="#fa1637"/><rect x="197.0" y="267" width="25.8" height="1.02" fill="#fa1739"/><rect x="197.0" y="268" width="25.8" height="1.02" fill="#fb1d40"/><rect x="197.0" y="269" width="25.8" height="1.02" fill="#fb2145"/><rect x="197.0" y="270" width="25.8" height="1.02" fill="#fa3f6c"/><rect x="197.0" y="271" width="25.8" height="1.02" fill="#fb2247"/><rect x="197.0" y="272" width="25.8" height="1.02" fill="#fc284f"/><rect x="197.0" y="273" width="25.8" height="1.02" fill="#fc2c54"/><rect x="197.0" y="274" width="25.8" height="1.02" fill="#fa1637"/><rect x="197.0" y="275" width="25.8" height="1.02" fill="#fb748f"/><rect x="197.0" y="276" width="25.8" height="1.02" fill="#fa3f6b"/><rect x="197.0" y="277" width="25.8" height="1.02" fill="#f96b9c"/><rect x="197.0" y="278" width="25.8" height="1.02" fill="#fa4a71"/><rect x="197.0" y="279" width="25.8" height="1.02" fill="#f96c9d"/><rect x="197.0" y="280" width="25.8" height="1.02" fill="#fa4472"/><rect x="197.0" y="281" width="25.8" height="1.02" fill="#fb2348"/><rect x="197.0" y="282" width="25.8" height="1.02" fill="#f973a2"/><rect x="197.0" y="283" width="25.8" height="1.02" fill="#fa1637"/><rect x="197.0" y="284" width="25.8" height="1.02" fill="#fa1637"/><rect x="197.0" y="285" width="25.8" height="1.02" fill="#f85e92"/><rect x="197.0" y="286" width="25.8" height="1.02" fill="#f85e92"/><rect x="197.0" y="287" width="25.8" height="1.02" fill="#fc2c54"/><rect x="197.0" y="288" width="25.8" height="1.02" fill="#fb254b"/><rect x="197.0" y="289" width="25.8" height="1.02" fill="#fa193b"/><rect x="197.0" y="290" width="25.8" height="1.02" fill="#fabbd6"/><rect x="197.0" y="291" width="25.8" height="1.02" fill="#fabbd6"/><rect x="197.0" y="292" width="25.8" height="1.02" fill="#fa4a74"/><rect x="197.0" y="293" width="25.8" height="1.02" fill="#fa4a74"/><rect x="197.0" y="294" width="25.8" height="1.02" fill="#fa8ab2"/><rect x="197.0" y="295" width="25.8" height="1.02" fill="#fa1a3c"/><rect x="197.0" y="296" width="25.8" height="1.02" fill="#fb2247"/><rect x="197.0" y="297" width="25.8" height="1.02" fill="#fa86af"/><rect x="197.0" y="298" width="25.8" height="1.02" fill="#fc2950"/><rect x="197.0" y="299" width="25.8" height="1.02" fill="#f86094"/><rect x="197.0" y="300" width="25.8" height="1.02" fill="#fb1e41"/><rect x="197.0" y="301" width="25.8" height="1.02" fill="#fb2449"/><rect x="197.0" y="302" width="25.8" height="1.02" fill="#fc2a51"/><rect x="197.0" y="303" width="25.8" height="1.02" fill="#f96799"/><rect x="197.0" y="304" width="25.8" height="1.02" fill="#fa547b"/><rect x="197.0" y="305" width="25.8" height="1.02" fill="#f93f69"/><rect x="197.0" y="306" width="25.8" height="1.02" fill="#f978a5"/><rect x="197.0" y="307" width="25.8" height="1.02" fill="#f978a5"/><rect x="197.0" y="308" width="25.8" height="1.02" fill="#fb2044"/><rect x="197.0" y="309" width="25.8" height="1.02" fill="#fa3e6c"/><rect x="197.0" y="310" width="25.8" height="1.02" fill="#fb507b"/><rect x="197.0" y="311" width="25.8" height="1.02" fill="#fa82ac"/><rect x="197.0" y="312" width="25.8" height="1.02" fill="#fa446e"/><rect x="197.0" y="313" width="25.8" height="1.02" fill="#fb7797"/><rect x="197.0" y="314" width="25.8" height="1.02" fill="#fb7797"/><rect x="197.0" y="315" width="25.8" height="1.02" fill="#fa183a"/><rect x="197.0" y="316" width="25.8" height="1.02" fill="#f977a5"/><rect x="197.0" y="317" width="25.8" height="1.02" fill="#fa193b"/><rect x="197.0" y="318" width="25.8" height="1.02" fill="#fbc2db"/><rect x="197.0" y="319" width="25.8" height="1.02" fill="#f93d68"/><rect x="197.0" y="320" width="25.8" height="1.02" fill="#f93d68"/><rect x="197.0" y="321" width="25.8" height="1.02" fill="#fb2246"/><rect x="197.0" y="322" width="25.8" height="1.02" fill="#fb264b"/><rect x="197.0" y="323" width="25.8" height="1.02" fill="#fab6d3"/><rect x="197.0" y="324" width="25.8" height="1.02" fill="#fab6d3"/><rect x="197.0" y="325" width="25.8" height="1.02" fill="#fb1c3f"/><rect x="197.0" y="326" width="25.8" height="1.02" fill="#fa1b3e"/><rect x="197.0" y="327" width="25.8" height="1.02" fill="#fb1d40"/><rect x="197.0" y="328" width="25.8" height="1.02" fill="#fa4e78"/><rect x="197.0" y="329" width="25.8" height="1.02" fill="#f86094"/><rect x="197.0" y="330" width="25.8" height="1.02" fill="#f86094"/><rect x="197.0" y="331" width="25.8" height="1.02" fill="#fa4875"/><rect x="197.0" y="332" width="25.8" height="1.02" fill="#fc2950"/><rect x="197.0" y="333" width="25.8" height="1.02" fill="#fa7fab"/><rect x="197.0" y="334" width="25.8" height="1.02" fill="#f8538b"/><rect x="197.0" y="335" width="25.8" height="1.02" fill="#f977a5"/><rect x="197.0" y="336" width="25.8" height="1.02" fill="#f977a5"/><rect x="197.0" y="337" width="25.8" height="1.02" fill="#fa4d78"/><rect x="197.0" y="338" width="25.8" height="1.02" fill="#fb2145"/><rect x="197.0" y="339" width="25.8" height="1.02" fill="#fb2348"/><rect x="197.0" y="340" width="25.8" height="1.02" fill="#fb264c"/><rect x="197.0" y="341" width="25.8" height="1.02" fill="#fb5780"/><rect x="197.0" y="342" width="25.8" height="1.02" fill="#f96497"/><rect x="197.0" y="343" width="25.8" height="1.02" fill="#f96497"/><rect x="197.0" y="344" width="25.8" height="1.02" fill="#f96497"/><rect x="197.0" y="345" width="25.8" height="1.02" fill="#fa193b"/><rect x="197.0" y="346" width="25.8" height="1.02" fill="#fa4b72"/><rect x="197.0" y="347" width="25.8" height="1.02" fill="#fc294f"/><rect x="197.0" y="348" width="25.8" height="1.02" fill="#f9699b"/><rect x="197.0" y="349" width="25.8" height="1.02" fill="#fa4e77"/><rect x="197.0" y="350" width="25.8" height="1.02" fill="#fa4e77"/><rect x="197.0" y="351" width="25.8" height="1.02" fill="#fcd0e4"/><rect x="197.0" y="352" width="25.8" height="1.02" fill="#fba7c6"/><rect x="197.0" y="353" width="25.8" height="1.02" fill="#fa8ab3"/><rect x="197.0" y="354" width="25.8" height="1.02" fill="#fcd1e4"/><rect x="197.0" y="355" width="25.8" height="1.02" fill="#fcd1e4"/><rect x="197.0" y="356" width="25.8" height="1.02" fill="#f85c91"/><rect x="197.0" y="357" width="25.8" height="1.02" fill="#fc7d9a"/><rect x="197.0" y="358" width="25.8" height="1.02" fill="#fa4d75"/><rect x="197.0" y="359" width="25.8" height="1.02" fill="#fa7fab"/><rect x="197.0" y="360" width="25.8" height="1.02" fill="#fb2044"/><rect x="197.0" y="361" width="25.8" height="1.02" fill="#fbcae0"/><rect x="197.0" y="362" width="25.8" height="1.02" fill="#fa4570"/><rect x="197.0" y="363" width="25.8" height="1.02" fill="#f96799"/><rect x="197.0" y="364" width="25.8" height="1.02" fill="#f975a3"/><rect x="197.0" y="365" width="25.8" height="1.02" fill="#fbc1da"/><rect x="197.0" y="366" width="25.8" height="1.02" fill="#4452f7"/><rect x="197.0" y="367" width="25.8" height="1.02" fill="#4957f8"/><rect x="197.0" y="368" width="25.8" height="1.02" fill="#4957f8"/><rect x="197.0" y="369" width="25.8" height="1.02" fill="#5f6bf8"/><rect x="197.0" y="370" width="25.8" height="1.02" fill="#b1b8fb"/><rect x="197.0" y="371" width="25.8" height="1.02" fill="#404ef7"/><rect x="197.0" y="372" width="25.8" height="1.02" fill="#3e4cf6"/><rect x="197.0" y="373" width="25.8" height="1.02" fill="#bbc1fc"/><rect x="197.0" y="374" width="25.8" height="1.02" fill="#846bf6"/><rect x="197.0" y="375" width="25.8" height="1.02" fill="#846bf6"/><rect x="197.0" y="376" width="25.8" height="1.02" fill="#7d87f9"/><rect x="197.0" y="377" width="25.8" height="1.02" fill="#414ff7"/><rect x="197.0" y="378" width="25.8" height="1.02" fill="#404ef7"/><rect x="197.0" y="379" width="25.8" height="1.02" fill="#9da5fb"/><rect x="197.0" y="380" width="25.8" height="1.02" fill="#4856f8"/><rect x="197.0" y="381" width="25.8" height="1.02" fill="#4856f8"/><rect x="197.0" y="382" width="25.8" height="1.02" fill="#9aa2fb"/><rect x="197.0" y="383" width="25.8" height="1.02" fill="#6772f9"/><rect x="197.0" y="384" width="25.8" height="1.02" fill="#404ef7"/><rect x="197.0" y="385" width="25.8" height="1.02" fill="#836af6"/><rect x="197.0" y="386" width="25.8" height="1.02" fill="#4957f8"/><rect x="197.0" y="387" width="25.8" height="1.02" fill="#4957f8"/><rect x="197.0" y="388" width="25.8" height="1.02" fill="#4856f8"/><rect x="197.0" y="389" width="25.8" height="1.02" fill="#c98af5"/><rect x="197.0" y="390" width="25.8" height="1.02" fill="#c98af5"/><rect x="197.0" y="391" width="25.8" height="1.02" fill="#4553f7"/><rect x="197.0" y="392" width="25.8" height="1.02" fill="#404ef7"/><rect x="197.0" y="393" width="25.8" height="1.02" fill="#4250f7"/><rect x="197.0" y="394" width="25.8" height="1.02" fill="#4654f7"/><rect x="197.0" y="395" width="25.8" height="1.02" fill="#7983f9"/><rect x="197.0" y="396" width="25.8" height="1.02" fill="#4553f7"/><rect x="197.0" y="397" width="25.8" height="1.02" fill="#4452f7"/><rect x="197.0" y="398" width="25.8" height="1.02" fill="#4452f7"/><rect x="197.0" y="399" width="25.8" height="1.02" fill="#4351f7"/><rect x="197.0" y="400" width="25.8" height="1.02" fill="#3c4af6"/><rect x="197.0" y="401" width="25.8" height="1.02" fill="#4351f7"/><rect x="197.0" y="402" width="25.8" height="1.02" fill="#7882f9"/><rect x="197.0" y="403" width="25.8" height="1.02" fill="#949cfb"/><rect x="197.0" y="404" width="25.8" height="1.02" fill="#949cfb"/><rect x="197.0" y="405" width="25.8" height="1.02" fill="#808afa"/><rect x="197.0" y="406" width="25.8" height="1.02" fill="#afb5fb"/><rect x="197.0" y="407" width="25.8" height="1.02" fill="#4553f7"/><rect x="197.0" y="408" width="25.8" height="1.02" fill="#4351f7"/><rect x="197.0" y="409" width="25.8" height="1.02" fill="#4351f7"/><rect x="197.0" y="410" width="25.8" height="1.02" fill="#828cfa"/><rect x="197.0" y="411" width="25.8" height="1.02" fill="#4654f7"/><rect x="197.0" y="412" width="25.8" height="1.02" fill="#a388f8"/><rect x="197.0" y="413" width="25.8" height="1.02" fill="#404ef7"/><rect x="197.0" y="414" width="25.8" height="1.02" fill="#404ef7"/><rect x="197.0" y="415" width="25.8" height="1.02" fill="#404ef7"/><rect x="197.0" y="416" width="25.8" height="1.02" fill="#4957f8"/><rect x="197.0" y="417" width="25.8" height="1.02" fill="#6d79f9"/><rect x="197.0" y="418" width="25.8" height="1.02" fill="#4a58f8"/><rect x="197.0" y="419" width="25.8" height="1.02" fill="#414ff7"/><rect x="197.0" y="420" width="25.8" height="1.02" fill="#828bfa"/><rect x="197.0" y="421" width="25.8" height="1.02" fill="#8891fa"/><rect x="197.0" y="422" width="25.8" height="1.02" fill="#414ff7"/><rect x="197.0" y="423" width="25.8" height="1.02" fill="#846bf6"/><rect x="197.0" y="424" width="25.8" height="1.02" fill="#3e4cf6"/><rect x="197.0" y="425" width="25.8" height="1.02" fill="#4957f8"/><rect x="197.0" y="426" width="25.8" height="1.02" fill="#3d4bf6"/><rect x="197.0" y="427" width="25.8" height="1.02" fill="#8e76f6"/><rect x="197.0" y="428" width="25.8" height="1.02" fill="#3d4bf6"/><rect x="197.0" y="429" width="25.8" height="1.02" fill="#4250f7"/><rect x="197.0" y="430" width="25.8" height="1.02" fill="#858efa"/><rect x="197.0" y="431" width="25.8" height="1.02" fill="#4957f8"/><rect x="197.0" y="432" width="25.8" height="1.02" fill="#a0a7fb"/><rect x="197.0" y="433" width="25.8" height="1.02" fill="#3c4af6"/><rect x="197.0" y="434" width="25.8" height="1.02" fill="#838dfa"/><rect x="197.0" y="435" width="25.8" height="1.02" fill="#7d87fa"/><rect x="197.0" y="436" width="25.8" height="1.02" fill="#828cfa"/><rect x="197.0" y="437" width="25.8" height="1.02" fill="#4250f7"/><rect x="197.0" y="438" width="25.8" height="1.02" fill="#8f77f6"/><rect x="197.0" y="439" width="25.8" height="1.02" fill="#8f77f6"/><rect x="197.0" y="440" width="25.8" height="1.02" fill="#8a93fa"/><rect x="197.0" y="441" width="25.8" height="1.02" fill="#cf91f5"/><rect x="197.0" y="442" width="25.8" height="1.02" fill="#cf91f5"/><rect x="197.0" y="443" width="25.8" height="1.02" fill="#4553f7"/><rect x="197.0" y="444" width="25.8" height="1.02" fill="#4250f7"/><rect x="197.0" y="445" width="25.8" height="1.02" fill="#bdc3fc"/><rect x="197.0" y="446" width="25.8" height="1.02" fill="#bdc3fc"/><rect x="197.0" y="447" width="25.8" height="1.02" fill="#856cf6"/><rect x="197.0" y="448" width="25.8" height="1.02" fill="#4755f8"/><rect x="197.0" y="449" width="25.8" height="1.02" fill="#414ff7"/><rect x="197.0" y="450" width="25.8" height="1.02" fill="#8690fa"/><rect x="197.0" y="451" width="25.8" height="1.02" fill="#8690fa"/><rect x="197.0" y="452" width="25.8" height="1.02" fill="#3e4cf6"/><rect x="197.0" y="453" width="25.8" height="1.02" fill="#b6bcfc"/><rect x="197.0" y="454" width="25.8" height="1.02" fill="#9fa7fb"/><rect x="197.0" y="455" width="25.8" height="1.02" fill="#4957f8"/><rect x="197.0" y="456" width="25.8" height="1.02" fill="#bec3fc"/><rect x="197.0" y="457" width="25.8" height="1.02" fill="#3e4cf6"/><rect x="197.0" y="458" width="25.8" height="1.02" fill="#3e4cf6"/><rect x="197.0" y="459" width="25.8" height="1.02" fill="#c1c6fc"/><rect x="197.0" y="460" width="25.8" height="1.02" fill="#4755f8"/><rect x="197.0" y="461" width="25.8" height="1.02" fill="#abb2fb"/><rect x="197.0" y="462" width="25.8" height="1.02" fill="#949cfb"/><rect x="197.0" y="463" width="25.8" height="1.02" fill="#4452f7"/><rect x="197.0" y="464" width="25.8" height="1.02" fill="#4957f8"/><rect x="197.0" y="465" width="25.8" height="1.02" fill="#4452f7"/><rect x="197.0" y="466" width="25.8" height="1.02" fill="#3c4af6"/><rect x="197.0" y="467" width="25.8" height="1.02" fill="#4654f7"/><rect x="197.0" y="468" width="25.8" height="1.02" fill="#414ff7"/><rect x="197.0" y="469" width="25.8" height="1.02" fill="#6470f9"/><rect x="197.0" y="470" width="25.8" height="1.02" fill="#bfc4fc"/><rect x="197.0" y="471" width="25.8" height="1.02" fill="#8c95fa"/><rect x="197.0" y="472" width="25.8" height="1.02" fill="#3c4af6"/><rect x="197.0" y="473" width="25.8" height="1.02" fill="#4553f7"/><rect x="197.0" y="474" width="25.8" height="1.02" fill="#bcc1fc"/><rect x="197.0" y="475" width="25.8" height="1.02" fill="#3d4bf6"/><rect x="197.0" y="476" width="25.8" height="1.02" fill="#4250f7"/><rect x="197.0" y="477" width="25.8" height="1.02" fill="#4250f7"/><rect x="197.0" y="478" width="25.8" height="1.02" fill="#3d4bf6"/><rect x="197.0" y="479" width="25.8" height="1.02" fill="#3e4cf6"/><rect x="197.0" y="480" width="25.8" height="1.02" fill="#3e4cf6"/><rect x="197.0" y="481" width="25.8" height="1.02" fill="#4351f7"/><rect x="197.0" y="482" width="25.8" height="1.02" fill="#d293f5"/><rect x="197.0" y="483" width="25.8" height="1.02" fill="#4250f7"/><rect x="197.0" y="484" width="25.8" height="1.02" fill="#4351f7"/><rect x="197.0" y="485" width="25.8" height="1.02" fill="#4452f7"/><rect x="197.0" y="486" width="25.8" height="1.02" fill="#9ea6fb"/><rect x="197.0" y="487" width="25.8" height="1.02" fill="#4856f8"/><rect x="197.0" y="488" width="25.8" height="1.02" fill="#3e4cf6"/><rect x="197.0" y="489" width="25.8" height="1.02" fill="#848dfa"/><rect x="197.0" y="490" width="25.8" height="1.02" fill="#4351f7"/><rect x="197.0" y="491" width="25.8" height="1.02" fill="#8e76f6"/><rect x="197.0" y="492" width="25.8" height="1.02" fill="#8e76f6"/><rect x="197.0" y="493" width="25.8" height="1.02" fill="#828bfa"/><rect x="197.0" y="494" width="25.8" height="1.02" fill="#858efa"/><rect x="197.0" y="495" width="25.8" height="1.02" fill="#858efa"/><rect x="197.0" y="496" width="25.8" height="1.02" fill="#4250f7"/><rect x="197.0" y="497" width="25.8" height="1.02" fill="#6d78f9"/><rect x="197.0" y="498" width="25.8" height="1.02" fill="#d99cf5"/><rect x="197.0" y="499" width="25.8" height="1.02" fill="#717cf9"/><rect x="197.0" y="500" width="25.8" height="1.02" fill="#4654f7"/><rect x="197.0" y="501" width="25.8" height="1.02" fill="#8690fa"/><rect x="197.0" y="502" width="25.8" height="1.02" fill="#4351f7"/><rect x="197.0" y="503" width="25.8" height="1.02" fill="#828cf9"/><rect x="197.0" y="504" width="25.8" height="1.02" fill="#6e79f9"/><rect x="197.0" y="505" width="25.8" height="1.02" fill="#6e79f9"/><rect x="197.0" y="506" width="25.8" height="1.02" fill="#4654f7"/><rect x="197.0" y="507" width="25.8" height="1.02" fill="#3f4df6"/><rect x="197.0" y="508" width="25.8" height="1.02" fill="#818af9"/><rect x="197.0" y="509" width="25.8" height="1.02" fill="#7a84f9"/><rect x="197.0" y="510" width="25.8" height="1.02" fill="#4351f7"/><rect x="197.0" y="511" width="25.8" height="1.02" fill="#404ef7"/><rect x="197.0" y="512" width="25.8" height="1.02" fill="#404ef7"/><rect x="197.0" y="513" width="25.8" height="1.02" fill="#3e4cf6"/><rect x="197.0" y="514" width="25.8" height="1.02" fill="#3d4bf6"/><rect x="197.0" y="515" width="25.8" height="0.52" fill="#3d4bf6"/></g><defs><linearGradient id="cb" x1="0" x2="1" y1="0" y2="0"><stop offset="0" stop-color="#1f2bff"/><stop offset="0.11" stop-color="#2a36ff"/><stop offset="0.29" stop-color="#ffffff"/><stop offset="0.5" stop-color="#ff9ab8"/><stop offset="0.75" stop-color="#ff3060"/><stop offset="0.9" stop-color="#ff0010"/><stop offset="1" stop-color="#ff0000"/></linearGradient></defs><rect x="75.2" y="523.5" width="143.1" height="7.8" fill="url(#cb)"/><text x="58.8" y="542.8" font-size="10" text-anchor="start" font-weight="normal" fill="#000" stroke="#000" stroke-width="0.28" >Row min</text><text x="198.9" y="542.7" font-size="10" text-anchor="start" font-weight="normal" fill="#000" stroke="#000" stroke-width="0.28" >Row max</text><rect x="299.7" y="9.8" width="208" height="171.3" fill="none" stroke="#000" stroke-width="1.7"/><rect x="349" y="34.5" width="154" height="87.3" fill="none" stroke="#000" stroke-width="1.6"/><line x1="344.3" y1="42.0" x2="349" y2="42.0" stroke="#000" stroke-width="1.4"/><text x="340.8" y="45.6" font-size="10.4" text-anchor="end" font-weight="normal" fill="#000" stroke="#000" stroke-width="0"  letter-spacing="0.7">5</text><line x1="344.3" y1="60.3" x2="349" y2="60.3" stroke="#000" stroke-width="1.4"/><text x="340.8" y="63.9" font-size="10.4" text-anchor="end" font-weight="normal" fill="#000" stroke="#000" stroke-width="0"  letter-spacing="0.7">0</text><line x1="344.3" y1="78.6" x2="349" y2="78.6" stroke="#000" stroke-width="1.4"/><text x="340.8" y="82.19999999999999" font-size="10.4" text-anchor="end" font-weight="normal" fill="#000" stroke="#000" stroke-width="0"  letter-spacing="0.7">&#8722;5</text><line x1="344.3" y1="96.9" x2="349" y2="96.9" stroke="#000" stroke-width="1.4"/><text x="340.8" y="100.5" font-size="10.4" text-anchor="end" font-weight="normal" fill="#000" stroke="#000" stroke-width="0"  letter-spacing="0.7">&#8722;10</text><line x1="344.3" y1="115.2" x2="349" y2="115.2" stroke="#000" stroke-width="1.4"/><text x="340.8" y="118.8" font-size="10.4" text-anchor="end" font-weight="normal" fill="#000" stroke="#000" stroke-width="0"  letter-spacing="0.7">&#8722;15</text><line x1="351.8" y1="121.8" x2="351.8" y2="126.6" stroke="#000" stroke-width="1.4"/><text x="352.6" y="138.5" font-size="10.4" text-anchor="middle" font-weight="normal" fill="#000" stroke="#000" stroke-width="0"  letter-spacing="1.0">0</text><line x1="390.40000000000003" y1="121.8" x2="390.40000000000003" y2="126.6" stroke="#000" stroke-width="1.4"/><text x="391.2" y="138.5" font-size="10.4" text-anchor="middle" font-weight="normal" fill="#000" stroke="#000" stroke-width="0"  letter-spacing="1.0">5</text><line x1="429.0" y1="121.8" x2="429.0" y2="126.6" stroke="#000" stroke-width="1.4"/><text x="429.8" y="138.5" font-size="10.4" text-anchor="middle" font-weight="normal" fill="#000" stroke="#000" stroke-width="0"  letter-spacing="1.0">10</text><line x1="467.6" y1="121.8" x2="467.6" y2="126.6" stroke="#000" stroke-width="1.4"/><text x="468.4" y="138.5" font-size="10.4" text-anchor="middle" font-weight="normal" fill="#000" stroke="#000" stroke-width="0"  letter-spacing="1.0">15</text><text stroke="#000" stroke-width="0.45" transform="translate(425.5,155.3) scale(0.79,1)" font-size="11" text-anchor="middle">log2(baseMean)</text><text stroke="#000" stroke-width="0.45" transform="translate(313.3,78.1) rotate(-90) scale(0.755,1)" font-size="11" text-anchor="middle">log2FoldChange</text><line x1="355.4" y1="60.5" x2="495.8" y2="60.5" stroke="#1b3f9e" stroke-width="2"/><circle cx="406.3" cy="41.3" r="1.9" fill="#cc0008"/><circle cx="419.3" cy="50.3" r="1.9" fill="#cc0008"/><circle cx="421.8" cy="49.5" r="1.9" fill="#cc0008"/><circle cx="437.5" cy="55.5" r="1.9" fill="#cc0008"/><circle cx="444.5" cy="53" r="1.9" fill="#cc0008"/><circle cx="415.5" cy="77.5" r="1.9" fill="#cc0008"/><circle cx="423" cy="76" r="1.9" fill="#cc0008"/><circle cx="429.3" cy="82.5" r="1.9" fill="#cc0008"/><circle cx="436.5" cy="81.5" r="1.9" fill="#cc0008"/><circle cx="433.8" cy="86.5" r="1.9" fill="#cc0008"/><text x="368.8" y="43.5" font-size="8.4" text-anchor="start" font-weight="normal" fill="#000" stroke="#000" stroke-width="0.28" >FRMPD3</text><text x="423.8" y="44.3" font-size="8.4" text-anchor="start" font-weight="normal" fill="#000" stroke="#000" stroke-width="0.28" >BAHCC1</text><text x="387.5" y="54.5" font-size="8.4" text-anchor="start" font-weight="normal" fill="#000" stroke="#000" stroke-width="0.28" >SOX13</text><text x="449.5" y="54.3" font-size="8.4" text-anchor="start" font-weight="normal" fill="#000" stroke="#000" stroke-width="0.28" >RASA3</text><text x="417" y="66.3" font-size="8.4" text-anchor="start" font-weight="normal" fill="#000" stroke="#000" stroke-width="0.28" >S1PR5</text><text x="427.5" y="75" font-size="8.4" text-anchor="start" font-weight="normal" fill="#000" stroke="#000" stroke-width="0.28" >LRP5</text><text x="441.8" y="85" font-size="8.4" text-anchor="start" font-weight="normal" fill="#000" stroke="#000" stroke-width="0.28" >RNF144A</text><text x="385" y="86.3" font-size="8.4" text-anchor="start" font-weight="normal" fill="#000" stroke="#000" stroke-width="0.28" >GPR55</text><text x="415" y="90.5" font-size="8.4" text-anchor="start" font-weight="normal" fill="#000" stroke="#000" stroke-width="0.28" >KIT</text><text x="437.5" y="95" font-size="8.4" text-anchor="start" font-weight="normal" fill="#000" stroke="#000" stroke-width="0.28" >AHRR</text><rect x="299.5" y="203.1" width="208" height="170" fill="none" stroke="#000" stroke-width="1.7"/><rect x="343.1" y="207.6" width="160.4" height="127.2" fill="none" stroke="#000" stroke-width="1.6"/><line x1="338.3" y1="233.99999999999997" x2="343" y2="233.99999999999997" stroke="#000" stroke-width="1.4"/><text x="335.0" y="237.59999999999997" font-size="10.4" text-anchor="end" font-weight="normal" fill="#000" stroke="#000" stroke-width="0"  letter-spacing="0.6">4</text><line x1="338.3" y1="271.4" x2="343" y2="271.4" stroke="#000" stroke-width="1.4"/><text x="335.0" y="275.0" font-size="10.4" text-anchor="end" font-weight="normal" fill="#000" stroke="#000" stroke-width="0"  letter-spacing="0.6">0</text><line x1="338.3" y1="308.79999999999995" x2="343" y2="308.79999999999995" stroke="#000" stroke-width="1.4"/><text x="335.0" y="312.4" font-size="10.4" text-anchor="end" font-weight="normal" fill="#000" stroke="#000" stroke-width="0"  letter-spacing="0.6">&#8722;4</text><line x1="350.5" y1="334.8" x2="350.5" y2="339.5" stroke="#000" stroke-width="1.4"/><text x="357.1" y="351.5" font-size="10.4" text-anchor="end" font-weight="normal" fill="#000" stroke="#000" stroke-width="0"  letter-spacing="0.8">&#8722;20</text><line x1="386.75" y1="334.8" x2="386.75" y2="339.5" stroke="#000" stroke-width="1.4"/><text x="393.35" y="351.5" font-size="10.4" text-anchor="end" font-weight="normal" fill="#000" stroke="#000" stroke-width="0"  letter-spacing="0.8">&#8722;10</text><line x1="423.0" y1="334.8" x2="423.0" y2="339.5" stroke="#000" stroke-width="1.4"/><text x="423.25" y="351.5" font-size="10.4" text-anchor="middle" font-weight="normal" fill="#000" stroke="#000" stroke-width="0"  letter-spacing="0.5">0</text><line x1="459.25" y1="334.8" x2="459.25" y2="339.5" stroke="#000" stroke-width="1.4"/><text x="459.5" y="351.5" font-size="10.4" text-anchor="middle" font-weight="normal" fill="#000" stroke="#000" stroke-width="0"  letter-spacing="0.5">10</text><line x1="495.5" y1="334.8" x2="495.5" y2="339.5" stroke="#000" stroke-width="1.4"/><text x="495.75" y="351.5" font-size="10.4" text-anchor="middle" font-weight="normal" fill="#000" stroke="#000" stroke-width="0"  letter-spacing="0.5">20</text><text stroke="#000" stroke-width="0.45" transform="translate(423.1,369.2) scale(0.73,1)" font-size="12" text-anchor="middle">PC1: 92% variance</text><text stroke="#000" stroke-width="0.45" transform="translate(312.9,270.7) rotate(-90) scale(0.66,1)" font-size="13.2" text-anchor="middle">PC2: 5% variance</text><circle cx="352.3" cy="240.1" r="2.3" fill="#22ff00"/><circle cx="352.5" cy="242.6" r="2.3" fill="#22ff00"/><circle cx="350.3" cy="329.3" r="2.3" fill="#22ff00"/><circle cx="495.6" cy="212.9" r="2.5" fill="#2000aa"/><circle cx="494.1" cy="299.3" r="2.5" fill="#2000aa"/><circle cx="494.4" cy="302.4" r="2.5" fill="#2000aa"/><text x="346.9" y="236.6" font-size="8.4" text-anchor="start" font-weight="normal" fill="#2cf31c" stroke="#2cf31c" stroke-width="0.28" >Control_126</text><text x="346.9" y="252.3" font-size="8.4" text-anchor="start" font-weight="normal" fill="#2cf31c" stroke="#2cf31c" stroke-width="0.28" >Control_124</text><text x="354.5" y="332.5" font-size="8.4" text-anchor="start" font-weight="normal" fill="#2cf31c" stroke="#2cf31c" stroke-width="0.28" >Control_1</text><text x="470.3" y="215.7" font-size="8.4" text-anchor="start" font-weight="normal" fill="#2810a8" stroke="#2810a8" stroke-width="0.28" >SRI_1</text><text x="466.7" y="296" font-size="8.4" text-anchor="start" font-weight="normal" fill="#2810a8" stroke="#2810a8" stroke-width="0.28" >SRI_124</text><text x="466.7" y="312.3" font-size="8.4" text-anchor="start" font-weight="normal" fill="#2810a8" stroke="#2810a8" stroke-width="0.28" >SRI_126</text><rect x="299.5" y="396.8" width="208.2" height="177.4" fill="none" stroke="#000" stroke-width="1.5"/><defs><clipPath id="cr"><circle cx="369.6" cy="499.7" r="61.7"/></clipPath></defs><circle cx="369.6" cy="499.7" r="61.7" fill="#c40018"/><circle cx="438.5" cy="499.6" r="61.7" fill="#86bfd9"/><circle cx="438.5" cy="499.6" r="61.7" fill="#1556b4" clip-path="url(#cr)"/><text x="365.4" y="418.1" font-size="12.6" text-anchor="middle" font-weight="normal" fill="#000" stroke="#000" stroke-width="0.28" >SRI</text><text x="366.0" y="433.1" font-size="12.4" text-anchor="middle" font-weight="normal" fill="#000" stroke="#000" stroke-width="0.28" word-spacing="1.2">RNA seq</text><text x="441.2" y="418.1" font-size="12.6" text-anchor="middle" font-weight="normal" fill="#000" stroke="#000" stroke-width="0.28" >AHR</text><text x="439.0" y="433.1" font-size="12.4" text-anchor="middle" font-weight="normal" fill="#000" stroke="#000" stroke-width="0.28" word-spacing="1.2">CHIP seq</text><text x="350.85" y="503.2" font-size="12" text-anchor="middle" font-weight="normal" fill="#fff" stroke="#fff" stroke-width="0.28"  letter-spacing="0.5">856</text><text x="405.85" y="503.2" font-size="12" text-anchor="middle" font-weight="normal" fill="#fff" stroke="#fff" stroke-width="0.28"  letter-spacing="0.5">148</text><text x="462.55" y="503.2" font-size="12" text-anchor="middle" font-weight="normal" fill="#000" stroke="#000" stroke-width="0.28"  letter-spacing="0.5">4190</text><rect x="238.8" y="599.4" width="234.1" height="179.6" fill="none" stroke="#000" stroke-width="1.7"/><rect x="239.3" y="605.35" width="164.1" height="6.2" fill="#c8001a"/><text x="234.2" y="611.85" font-size="10.38" text-anchor="end" font-weight="normal" fill="#000" stroke="#000" stroke-width="0.28" >UVA-Induced MAPK signaling</text><rect x="239.3" y="623.25" width="164.9" height="6.2" fill="#c8001a"/><text x="234.2" y="629.75" font-size="10.38" text-anchor="end" font-weight="normal" fill="#000" stroke="#000" stroke-width="0.28" >Phospholipase C signaling</text><rect x="239.3" y="641.15" width="167.6" height="6.2" fill="#c8001a"/><text x="234.2" y="647.65" font-size="10.38" text-anchor="end" font-weight="normal" fill="#000" stroke="#000" stroke-width="0.28" >Aryl hydrocarbon receptor signaling</text><rect x="239.3" y="659.05" width="168.2" height="6.2" fill="#c8001a"/><text x="234.2" y="665.55" font-size="10.38" text-anchor="end" font-weight="normal" fill="#000" stroke="#000" stroke-width="0.28" >TNFR2 signaling</text><rect x="239.3" y="676.95" width="180.5" height="6.2" fill="#c8001a"/><text x="234.2" y="683.45" font-size="10.38" text-anchor="end" font-weight="normal" fill="#000" stroke="#000" stroke-width="0.28" >NF-&#954;B activation by viruses</text><rect x="239.3" y="694.85" width="183.0" height="6.2" fill="#c8001a"/><text x="234.2" y="701.35" font-size="10.38" text-anchor="end" font-weight="normal" fill="#000" stroke="#000" stroke-width="0.28" >G-protein coupled receptor signaling</text><rect x="239.3" y="712.75" width="184.6" height="6.2" fill="#c8001a"/><text x="234.2" y="719.25" font-size="10.38" text-anchor="end" font-weight="normal" fill="#000" stroke="#000" stroke-width="0.28" >Cholecystokinin/gastrin-mediated signaling</text><rect x="239.3" y="730.65" width="185.4" height="6.2" fill="#c8001a"/><text x="234.2" y="737.15" font-size="10.38" text-anchor="end" font-weight="normal" fill="#000" stroke="#000" stroke-width="0.28" >Systemic lupus erythematosus in B cell&#8230;</text><rect x="239.3" y="748.55" width="191.9" height="6.2" fill="#c8001a"/><text x="234.2" y="755.05" font-size="10.38" text-anchor="end" font-weight="normal" fill="#000" stroke="#000" stroke-width="0.28" >Non-small cell lung cancer signaling</text><rect x="239.3" y="766.45" width="214.7" height="6.2" fill="#c8001a"/><text x="234.2" y="772.95" font-size="10.38" text-anchor="end" font-weight="normal" fill="#000" stroke="#000" stroke-width="0.28" >IL-9 signaling</text><line x1="238.6" y1="779" x2="238.6" y2="783" stroke="#000" stroke-width="1.5"/><text x="238.6" y="795" font-size="10.4" text-anchor="middle" font-weight="normal" fill="#000" stroke="#000" stroke-width="0" >0</text><line x1="316.7" y1="779" x2="316.7" y2="783" stroke="#000" stroke-width="1.5"/><text x="316.7" y="795" font-size="10.4" text-anchor="middle" font-weight="normal" fill="#000" stroke="#000" stroke-width="0" >2</text><line x1="394.79999999999995" y1="779" x2="394.79999999999995" y2="783" stroke="#000" stroke-width="1.5"/><text x="394.79999999999995" y="795" font-size="10.4" text-anchor="middle" font-weight="normal" fill="#000" stroke="#000" stroke-width="0" >4</text><line x1="472.9" y1="779" x2="472.9" y2="783" stroke="#000" stroke-width="1.5"/><text x="472.9" y="795" font-size="10.4" text-anchor="middle" font-weight="normal" fill="#000" stroke="#000" stroke-width="0" >6</text><text stroke="#000" stroke-width="0.45" transform="translate(355.6,812.9) scale(0.85,1)" font-size="11.5" text-anchor="middle">-log (<tspan font-style="italic">p</tspan>-value)</text></svg></body></html>
